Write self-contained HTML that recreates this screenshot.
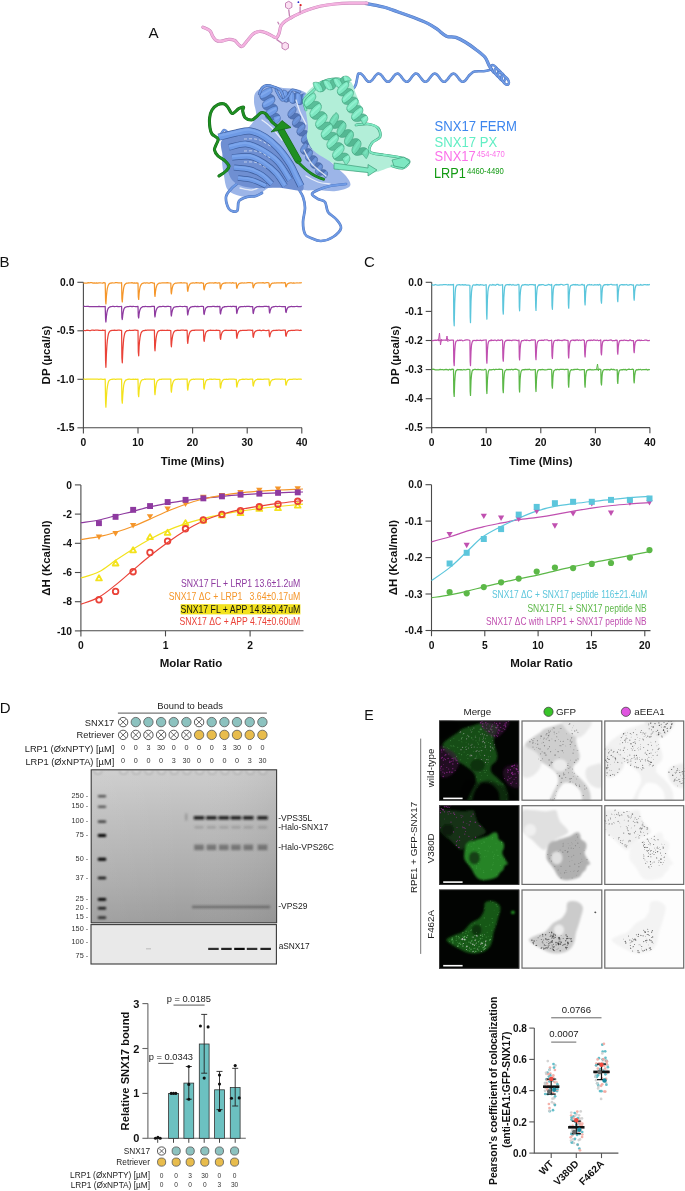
<!DOCTYPE html>
<html><head><meta charset="utf-8"><style>
html,body{margin:0;padding:0;background:#fff;}
body{width:685px;height:1191px;overflow:hidden;position:relative;}
svg{position:absolute;left:0;top:0;will-change:transform;}
text{font-family:"Liberation Sans", sans-serif;}
</style></head><body>
<svg width="685" height="1191" viewBox="0 0 685 1191">
<text x="148.4" y="38.4" font-size="15.2" fill="#111" font-weight="normal" text-anchor="start" >A</text>
<path d="M354,88C354.3,87.3 355.3,86.3 356,84C356.7,81.7 357.5,76.2 358,74.4C358.5,72.7 358.8,73.9 359.2,73.7C359.6,73.6 360,73.6 360.4,73.6C360.8,73.7 361.2,73.9 361.6,74.2C362,74.5 362.4,74.9 362.8,75.3C363.2,75.8 363.6,76.3 364,76.8C364.4,77.4 364.8,78 365.2,78.5C365.6,79 366,79.6 366.4,80C366.8,80.4 367.2,80.9 367.6,81.1C368,81.4 368.4,81.7 368.8,81.7C369.2,81.8 369.6,81.8 370,81.7C370.4,81.6 370.8,81.3 371.2,81C371.6,80.7 372,80.2 372.4,79.8C372.8,79.3 373.2,78.7 373.6,78.2C374,77.7 374.4,77.1 374.8,76.6C375.2,76.1 375.6,75.5 376,75.1C376.4,74.7 376.8,74.3 377.2,74.1C377.6,73.8 378,73.7 378.4,73.6C378.8,73.6 379.2,73.6 379.6,73.8C380,74 380.4,74.3 380.8,74.6C381.2,75 381.6,75.5 382,75.9C382.4,76.4 382.8,77 383.2,77.5C383.6,78.1 384,78.6 384.4,79.1C384.8,79.7 385.2,80.2 385.6,80.5C386,80.9 386.4,81.3 386.8,81.5C387.2,81.7 387.6,81.8 388,81.8C388.4,81.8 388.8,81.7 389.2,81.5C389.6,81.3 390,80.9 390.4,80.5C390.8,80.2 391.2,79.7 391.6,79.1C392,78.6 392.4,78.1 392.8,77.5C393.2,77 393.6,76.4 394,75.9C394.4,75.5 394.8,75 395.2,74.6C395.6,74.3 396,74 396.4,73.8C396.8,73.6 397.2,73.6 397.6,73.6C398,73.7 398.4,73.8 398.8,74.1C399.2,74.3 399.6,74.7 400,75.1C400.4,75.5 400.8,76.1 401.2,76.6C401.6,77.1 402,77.7 402.4,78.2C402.8,78.7 403.2,79.3 403.6,79.8C404,80.2 404.4,80.7 404.8,81C405.2,81.3 405.6,81.6 406,81.7C406.4,81.8 406.8,81.8 407.2,81.7C407.6,81.7 408,81.4 408.4,81.1C408.8,80.9 409.2,80.4 409.6,80C410,79.6 410.4,79 410.8,78.5C411.2,78 411.6,77.4 412,76.8C412.4,76.3 412.8,75.8 413.2,75.3C413.6,74.9 414,74.5 414.4,74.2C414.8,73.9 415.2,73.7 415.6,73.6C416,73.6 416.4,73.6 416.8,73.7C417.2,73.9 417.6,74.1 418,74.4C418.4,74.8 418.8,75.2 419.2,75.7C419.6,76.2 420,76.7 420.4,77.3C420.8,77.8 421.2,78.4 421.6,78.9C422,79.4 422.4,79.9 422.8,80.3C423.2,80.7 423.6,81.1 424,81.4C424.4,81.6 424.8,81.8 425.2,81.8C425.6,81.8 426,81.7 426.4,81.6C426.8,81.4 427.2,81.1 427.6,80.7C428,80.4 428.4,79.9 428.8,79.4C429.2,78.9 429.6,78.3 430,77.8C430.4,77.3 430.8,76.7 431.2,76.2C431.6,75.7 432,75.2 432.4,74.8C432.8,74.4 433.2,74.1 433.6,73.9C434,73.7 434.4,73.6 434.8,73.6C435.2,73.6 435.6,73.7 436,74C436.4,74.2 436.8,74.5 437.2,74.9C437.6,75.3 438,75.8 438.4,76.3C438.8,76.8 439.2,77.4 439.6,77.9C440,78.5 440.4,79 440.8,79.5C441.2,80 441.6,80.5 442,80.8C442.4,81.2 442.8,81.5 443.2,81.6C443.6,81.8 444,81.8 444.4,81.8C444.8,81.7 445.2,81.5 445.6,81.3C446,81 446.4,80.6 446.8,80.2C447.2,79.8 447.6,79.3 448,78.8C448.4,78.2 448.8,77.6 449.2,77.1C449.6,76.6 450,76 450.4,75.6C450.8,75.1 451.2,74.7 451.6,74.4C452,74.1 452.4,73.8 452.8,73.7C453.2,73.6 453.6,73.6 454,73.7C454.4,73.8 454.8,74 455.2,74.3C455.6,74.6 456,75 456.4,75.5C456.8,75.9 457.2,76.5 457.6,77C458,77.5 458.4,78.1 458.8,78.6C459.2,79.1 459.6,79.7 460,80.1C460.4,80.5 460.8,80.9 461.2,81.2C461.6,81.5 462,81.7 462.4,81.8C462.8,81.8 463.2,81.8 463.6,81.7C464,81.5 464.4,81.2 464.8,80.9C465.2,80.6 465.6,80.1 466,79.6C466.4,79.2 466.8,78.6 467.2,78.1C467.6,77.5 468,77 468.4,76.4C468.8,75.9 469.2,75.4 469.6,75C470,74.6 470,74.6 470.8,74C471.6,73.4 472.3,72 474.5,71.5C476.7,71 481.3,71.4 483.8,71.2C486.3,71 488.2,70.5 489.6,70.1C491,69.7 491.6,69.2 492,69" fill="none" stroke="#4f74bc" stroke-width="2.6" stroke-linecap="round" stroke-linejoin="round"/>
<path d="M354,88C354.3,87.3 355.3,86.3 356,84C356.7,81.7 357.5,76.2 358,74.4C358.5,72.7 358.8,73.9 359.2,73.7C359.6,73.6 360,73.6 360.4,73.6C360.8,73.7 361.2,73.9 361.6,74.2C362,74.5 362.4,74.9 362.8,75.3C363.2,75.8 363.6,76.3 364,76.8C364.4,77.4 364.8,78 365.2,78.5C365.6,79 366,79.6 366.4,80C366.8,80.4 367.2,80.9 367.6,81.1C368,81.4 368.4,81.7 368.8,81.7C369.2,81.8 369.6,81.8 370,81.7C370.4,81.6 370.8,81.3 371.2,81C371.6,80.7 372,80.2 372.4,79.8C372.8,79.3 373.2,78.7 373.6,78.2C374,77.7 374.4,77.1 374.8,76.6C375.2,76.1 375.6,75.5 376,75.1C376.4,74.7 376.8,74.3 377.2,74.1C377.6,73.8 378,73.7 378.4,73.6C378.8,73.6 379.2,73.6 379.6,73.8C380,74 380.4,74.3 380.8,74.6C381.2,75 381.6,75.5 382,75.9C382.4,76.4 382.8,77 383.2,77.5C383.6,78.1 384,78.6 384.4,79.1C384.8,79.7 385.2,80.2 385.6,80.5C386,80.9 386.4,81.3 386.8,81.5C387.2,81.7 387.6,81.8 388,81.8C388.4,81.8 388.8,81.7 389.2,81.5C389.6,81.3 390,80.9 390.4,80.5C390.8,80.2 391.2,79.7 391.6,79.1C392,78.6 392.4,78.1 392.8,77.5C393.2,77 393.6,76.4 394,75.9C394.4,75.5 394.8,75 395.2,74.6C395.6,74.3 396,74 396.4,73.8C396.8,73.6 397.2,73.6 397.6,73.6C398,73.7 398.4,73.8 398.8,74.1C399.2,74.3 399.6,74.7 400,75.1C400.4,75.5 400.8,76.1 401.2,76.6C401.6,77.1 402,77.7 402.4,78.2C402.8,78.7 403.2,79.3 403.6,79.8C404,80.2 404.4,80.7 404.8,81C405.2,81.3 405.6,81.6 406,81.7C406.4,81.8 406.8,81.8 407.2,81.7C407.6,81.7 408,81.4 408.4,81.1C408.8,80.9 409.2,80.4 409.6,80C410,79.6 410.4,79 410.8,78.5C411.2,78 411.6,77.4 412,76.8C412.4,76.3 412.8,75.8 413.2,75.3C413.6,74.9 414,74.5 414.4,74.2C414.8,73.9 415.2,73.7 415.6,73.6C416,73.6 416.4,73.6 416.8,73.7C417.2,73.9 417.6,74.1 418,74.4C418.4,74.8 418.8,75.2 419.2,75.7C419.6,76.2 420,76.7 420.4,77.3C420.8,77.8 421.2,78.4 421.6,78.9C422,79.4 422.4,79.9 422.8,80.3C423.2,80.7 423.6,81.1 424,81.4C424.4,81.6 424.8,81.8 425.2,81.8C425.6,81.8 426,81.7 426.4,81.6C426.8,81.4 427.2,81.1 427.6,80.7C428,80.4 428.4,79.9 428.8,79.4C429.2,78.9 429.6,78.3 430,77.8C430.4,77.3 430.8,76.7 431.2,76.2C431.6,75.7 432,75.2 432.4,74.8C432.8,74.4 433.2,74.1 433.6,73.9C434,73.7 434.4,73.6 434.8,73.6C435.2,73.6 435.6,73.7 436,74C436.4,74.2 436.8,74.5 437.2,74.9C437.6,75.3 438,75.8 438.4,76.3C438.8,76.8 439.2,77.4 439.6,77.9C440,78.5 440.4,79 440.8,79.5C441.2,80 441.6,80.5 442,80.8C442.4,81.2 442.8,81.5 443.2,81.6C443.6,81.8 444,81.8 444.4,81.8C444.8,81.7 445.2,81.5 445.6,81.3C446,81 446.4,80.6 446.8,80.2C447.2,79.8 447.6,79.3 448,78.8C448.4,78.2 448.8,77.6 449.2,77.1C449.6,76.6 450,76 450.4,75.6C450.8,75.1 451.2,74.7 451.6,74.4C452,74.1 452.4,73.8 452.8,73.7C453.2,73.6 453.6,73.6 454,73.7C454.4,73.8 454.8,74 455.2,74.3C455.6,74.6 456,75 456.4,75.5C456.8,75.9 457.2,76.5 457.6,77C458,77.5 458.4,78.1 458.8,78.6C459.2,79.1 459.6,79.7 460,80.1C460.4,80.5 460.8,80.9 461.2,81.2C461.6,81.5 462,81.7 462.4,81.8C462.8,81.8 463.2,81.8 463.6,81.7C464,81.5 464.4,81.2 464.8,80.9C465.2,80.6 465.6,80.1 466,79.6C466.4,79.2 466.8,78.6 467.2,78.1C467.6,77.5 468,77 468.4,76.4C468.8,75.9 469.2,75.4 469.6,75C470,74.6 470,74.6 470.8,74C471.6,73.4 472.3,72 474.5,71.5C476.7,71 481.3,71.4 483.8,71.2C486.3,71 488.2,70.5 489.6,70.1C491,69.7 491.6,69.2 492,69" fill="none" stroke="#6f9be6" stroke-width="1.7" stroke-linecap="round" stroke-linejoin="round"/>
<ellipse cx="494.5" cy="69.5" rx="2.6" ry="5" transform="rotate(-35 494.5 69.5)" fill="none" stroke="#4f74bc" stroke-width="2.6"/>
<ellipse cx="494.5" cy="69.5" rx="2.6" ry="5" transform="rotate(-35 494.5 69.5)" fill="none" stroke="#6f9be6" stroke-width="1.7"/>
<ellipse cx="498.1" cy="73.1" rx="2.6" ry="5" transform="rotate(-35 498.1 73.1)" fill="none" stroke="#4f74bc" stroke-width="2.6"/>
<ellipse cx="498.1" cy="73.1" rx="2.6" ry="5" transform="rotate(-35 498.1 73.1)" fill="none" stroke="#6f9be6" stroke-width="1.7"/>
<ellipse cx="501.7" cy="76.7" rx="2.6" ry="5" transform="rotate(-35 501.7 76.7)" fill="none" stroke="#4f74bc" stroke-width="2.6"/>
<ellipse cx="501.7" cy="76.7" rx="2.6" ry="5" transform="rotate(-35 501.7 76.7)" fill="none" stroke="#6f9be6" stroke-width="1.7"/>
<ellipse cx="505.3" cy="80.3" rx="2.6" ry="5" transform="rotate(-35 505.3 80.3)" fill="none" stroke="#4f74bc" stroke-width="2.6"/>
<ellipse cx="505.3" cy="80.3" rx="2.6" ry="5" transform="rotate(-35 505.3 80.3)" fill="none" stroke="#6f9be6" stroke-width="1.7"/>
<path d="M366,3.5C366.6,3.6 366.4,3.6 369.3,4.2C372.2,4.8 378.7,5.8 383.4,7C388.1,8.2 392.3,9.9 397.4,11.7C402.4,13.4 408.6,15.6 413.7,17.5C418.8,19.4 423.8,21.4 427.7,23.4C431.6,25.3 434,27.1 437.1,29.2C440.2,31.3 443.3,34.8 446.4,36.2C449.5,37.6 452.7,36.4 455.8,37.4C458.9,38.4 461.6,39.9 465.1,42C468.6,44.1 473.5,47.7 476.8,50.2C480.1,52.7 483.1,54.9 485,57.2C486.9,59.5 487.5,62.2 488.5,64.2C489.5,66.2 490.6,68.1 491,68.9" fill="none" stroke="#4f74bc" stroke-width="3.3" stroke-linecap="round" stroke-linejoin="round"/>
<path d="M366,3.5C366.6,3.6 366.4,3.6 369.3,4.2C372.2,4.8 378.7,5.8 383.4,7C388.1,8.2 392.3,9.9 397.4,11.7C402.4,13.4 408.6,15.6 413.7,17.5C418.8,19.4 423.8,21.4 427.7,23.4C431.6,25.3 434,27.1 437.1,29.2C440.2,31.3 443.3,34.8 446.4,36.2C449.5,37.6 452.7,36.4 455.8,37.4C458.9,38.4 461.6,39.9 465.1,42C468.6,44.1 473.5,47.7 476.8,50.2C480.1,52.7 483.1,54.9 485,57.2C486.9,59.5 487.5,62.2 488.5,64.2C489.5,66.2 490.6,68.1 491,68.9" fill="none" stroke="#6f9be6" stroke-width="2.4" stroke-linecap="round" stroke-linejoin="round"/>
<path d="M202.9,27.2C204.1,27.8 208.3,29.2 209.9,30.7C211.5,32.1 211.5,34.3 212.5,35.9C213.5,37.5 214.5,39.4 216,40.3C217.5,41.2 219.2,41.4 221.3,41.2C223.4,41.1 226.1,39.5 228.3,39.4C230.5,39.2 232.7,39.4 234.4,40.3C236.2,41.2 237.5,43.7 238.8,44.7C240.1,45.7 240.8,47.1 242.3,46.4C243.8,45.7 245.8,42.3 247.6,40.3C249.3,38.3 250.9,35.7 252.8,34.2C254.7,32.7 256.9,31.8 259,31.5C261.1,31.2 262.9,31.7 265.1,32.4C267.3,33.1 270.2,35 272.1,35.9C274,36.8 275.3,38.1 276.5,37.7C277.7,37.3 278.4,35.2 279.1,33.3C279.8,31.4 279.9,28.2 280.8,26.3C281.7,24.4 282.5,23.4 284.3,21.9C286.1,20.4 288.8,19 291.4,17.5C294,16 297.2,14.4 300.1,13.1C303,11.8 305.6,10.8 308.9,9.6C312.2,8.4 315.6,7.1 320,6.2C324.4,5.3 330,4.5 335,4C340,3.5 344.7,3.3 350,3.2C355.3,3.1 364.2,3.2 367,3.2" fill="none" stroke="#c583b5" stroke-width="3.2" stroke-linecap="round" stroke-linejoin="round"/>
<path d="M202.9,27.2C204.1,27.8 208.3,29.2 209.9,30.7C211.5,32.1 211.5,34.3 212.5,35.9C213.5,37.5 214.5,39.4 216,40.3C217.5,41.2 219.2,41.4 221.3,41.2C223.4,41.1 226.1,39.5 228.3,39.4C230.5,39.2 232.7,39.4 234.4,40.3C236.2,41.2 237.5,43.7 238.8,44.7C240.1,45.7 240.8,47.1 242.3,46.4C243.8,45.7 245.8,42.3 247.6,40.3C249.3,38.3 250.9,35.7 252.8,34.2C254.7,32.7 256.9,31.8 259,31.5C261.1,31.2 262.9,31.7 265.1,32.4C267.3,33.1 270.2,35 272.1,35.9C274,36.8 275.3,38.1 276.5,37.7C277.7,37.3 278.4,35.2 279.1,33.3C279.8,31.4 279.9,28.2 280.8,26.3C281.7,24.4 282.5,23.4 284.3,21.9C286.1,20.4 288.8,19 291.4,17.5C294,16 297.2,14.4 300.1,13.1C303,11.8 305.6,10.8 308.9,9.6C312.2,8.4 315.6,7.1 320,6.2C324.4,5.3 330,4.5 335,4C340,3.5 344.7,3.3 350,3.2C355.3,3.1 364.2,3.2 367,3.2" fill="none" stroke="#f4b2e0" stroke-width="2.3" stroke-linecap="round" stroke-linejoin="round"/>
<path d="M276.5,39.4 L282.6,43.8 M289.6,16.6 L288.7,9.6 M300.1,13.1 L300.1,6.5 M279.1,24.5 L277.6,21.8" stroke="#c583b5" stroke-width="1.3"/>
<polygon points="282,44 285.2,42.2 288.4,44 288.4,48.2 285.2,50 282,48.2" fill="#fbe0f2" stroke="#c583b5" stroke-width="1"/>
<polygon points="285.5,3.1 288.7,1.3 291.9,3.1 291.9,7.3 288.7,9.1 285.5,7.3" fill="#fbe0f2" stroke="#c583b5" stroke-width="1"/>
<circle cx="300.6" cy="5.2" r="1.1" fill="#d22"/><circle cx="298.4" cy="2.2" r="0.9" fill="#22c"/>
<path d="M256,92C258.3,89.3 263.5,86.7 268,86C272.5,85.3 277.7,87.3 283,88C288.3,88.7 295.2,88.3 300,90C304.8,91.7 309.3,94.3 312,98C314.7,101.7 315,106.7 316,112C317,117.3 317,123.7 318,130C319,136.3 319.3,144.2 322,150C324.7,155.8 330,160.7 334,165C338,169.3 343.3,172.5 346,176C348.7,179.5 351.7,183.5 350,186C348.3,188.5 341.3,190.3 336,191C330.7,191.7 323.3,190.2 318,190C312.7,189.8 308.7,191 304,190C299.3,189 295.3,184.7 290,184C284.7,183.3 277.7,184 272,186C266.3,188 261.3,194.3 256,196C250.7,197.7 244.7,197 240,196C235.3,195 230.7,193.3 228,190C225.3,186.7 225,181.3 224,176C223,170.7 221.7,163 222,158C222.3,153 223.7,149.7 226,146C228.3,142.3 232.3,139 236,136C239.7,133 244.7,131.3 248,128C251.3,124.7 255,120.3 256,116C257,111.7 254,106 254,102C254,98 253.7,94.7 256,92Z" fill="#9cb5e8"  opacity="1"/>
<path d="M259.8,95.9 L260.2,95.5 L261.5,94.9 L263.7,94.4 L266.3,94.1 L269,94.1 L271.5,94.6 L273.3,95.5 L274.2,96.9 L274.9,99.4 L274.5,99.8 L273.1,100.4 L271,101 L268.4,101.3 L265.6,101.2 L263.2,100.7 L261.4,99.8 L260.5,98.5Z" fill="#557abe" stroke="#3f5f9e" stroke-width="0.5"/>
<path d="M262.4,105.3 L262.8,104.8 L264.2,104.2 L266.4,103.7 L269,103.4 L271.7,103.4 L274.1,103.9 L275.9,104.9 L276.8,106.2 L277.6,108.7 L277.2,109.2 L275.8,109.8 L273.6,110.3 L271,110.6 L268.3,110.6 L265.9,110.1 L264.1,109.1 L263.2,107.8Z" fill="#557abe" stroke="#3f5f9e" stroke-width="0.5"/>
<path d="M265.1,114.6 L265.5,114.2 L266.9,113.6 L269,113 L271.6,112.7 L274.4,112.8 L276.8,113.3 L278.6,114.2 L279.5,115.5 L280.2,118.1 L279.8,118.5 L278.5,119.1 L276.3,119.6 L273.7,119.9 L271,119.9 L268.5,119.4 L266.7,118.5 L265.8,117.1Z" fill="#557abe" stroke="#3f5f9e" stroke-width="0.5"/>
<path d="M271.5,87.5 L270.9,87.4 L269.5,87.6 L267.4,88.3 L265,89.4 L262.7,90.9 L260.9,92.6 L259.8,94.3 L259.8,95.9 L260.5,98.5 L261.1,98.6 L262.5,98.4 L264.6,97.7 L267,96.6 L269.3,95.1 L271.1,93.4 L272.2,91.7 L272.2,90.1Z" fill="#6f9be6" stroke="#3f5f9e" stroke-width="0.55"/>
<path d="M270.1,89.9 L268.1,91 L265.8,92.3 L263.5,93.6 L261.5,94.9" fill="none" stroke="#86aef0" stroke-width="1.9" stroke-linecap="round" opacity="0.7"/>
<path d="M274.2,96.9 L273.6,96.7 L272.1,96.9 L270,97.6 L267.6,98.7 L265.4,100.2 L263.5,101.9 L262.5,103.7 L262.4,105.3 L263.2,107.8 L263.7,108 L265.2,107.7 L267.3,107.1 L269.7,105.9 L272,104.5 L273.8,102.8 L274.8,101 L274.9,99.4Z" fill="#6f9be6" stroke="#3f5f9e" stroke-width="0.55"/>
<path d="M272.8,99.3 L270.8,100.3 L268.5,101.6 L266.1,102.9 L264.2,104.2" fill="none" stroke="#86aef0" stroke-width="1.9" stroke-linecap="round" opacity="0.7"/>
<path d="M276.8,106.2 L276.3,106 L274.8,106.3 L272.7,106.9 L270.3,108.1 L268,109.5 L266.2,111.2 L265.2,113 L265.1,114.6 L265.8,117.1 L266.4,117.3 L267.9,117.1 L270,116.4 L272.4,115.3 L274.6,113.8 L276.5,112.1 L277.5,110.3 L277.6,108.7Z" fill="#6f9be6" stroke="#3f5f9e" stroke-width="0.55"/>
<path d="M275.5,108.6 L273.5,109.7 L271.1,110.9 L268.8,112.3 L266.9,113.6" fill="none" stroke="#86aef0" stroke-width="1.9" stroke-linecap="round" opacity="0.7"/>
<path d="M279.5,115.5 L279.3,115.4 L278.9,115.4 L278.3,115.4 L277.5,115.6 L276.5,115.9 L275.4,116.3 L274.2,116.8 L273,117.4 L275,124.6 L276.2,123.9 L277.3,123.1 L278.3,122.3 L279.1,121.4 L279.8,120.6 L280.2,119.7 L280.3,118.8 L280.2,118.1Z" fill="#6f9be6" stroke="#3f5f9e" stroke-width="0.55"/>
<path d="M279.4,117.1 L278.9,117.5 L278.1,117.9 L277.2,118.4 L276.1,119" fill="none" stroke="#86aef0" stroke-width="1.9" stroke-linecap="round" opacity="0.7"/>
<path d="M284.5,101.6 L284.2,101.1 L284.3,99.9 L284.6,98.1 L285.3,96.1 L286.3,94.1 L287.5,92.5 L288.8,91.5 L290,91.3 L292.2,91.7 L292.4,92.2 L292.4,93.4 L292.1,95.2 L291.4,97.3 L290.4,99.3 L289.2,100.9 L287.9,101.9 L286.6,102Z" fill="#557abe" stroke="#3f5f9e" stroke-width="0.5"/>
<path d="M291.2,102.9 L290.9,102.5 L290.9,101.2 L291.3,99.4 L292,97.4 L292.9,95.4 L294.1,93.8 L295.4,92.8 L296.7,92.6 L298.8,93.1 L299.1,93.5 L299.1,94.8 L298.7,96.6 L298,98.6 L297.1,100.6 L295.9,102.2 L294.6,103.2 L293.3,103.4Z" fill="#557abe" stroke="#3f5f9e" stroke-width="0.5"/>
<path d="M297.8,104.3 L297.6,103.8 L297.6,102.6 L297.9,100.8 L298.6,98.7 L299.6,96.7 L300.8,95.1 L302.1,94.1 L303.4,94 L305.5,94.4 L305.8,94.9 L305.7,96.1 L305.4,97.9 L304.7,99.9 L303.7,101.9 L302.5,103.5 L301.2,104.5 L300,104.7Z" fill="#557abe" stroke="#3f5f9e" stroke-width="0.5"/>
<path d="M283.4,90 L282.9,90.3 L282.5,91.5 L282.1,93.2 L282,95.4 L282.1,97.6 L282.6,99.6 L283.4,101 L284.5,101.6 L286.6,102 L287.1,101.7 L287.5,100.5 L287.9,98.8 L288,96.6 L287.9,94.4 L287.4,92.4 L286.6,91 L285.5,90.4Z" fill="#6f9be6" stroke="#3f5f9e" stroke-width="0.55"/>
<path d="M284.5,91.9 L284.4,93.7 L284.4,95.9 L284.4,98.1 L284.6,100" fill="none" stroke="#86aef0" stroke-width="1.6" stroke-linecap="round" opacity="0.7"/>
<path d="M290,91.3 L289.6,91.6 L289.1,92.8 L288.8,94.6 L288.6,96.7 L288.8,98.9 L289.3,100.9 L290.1,102.3 L291.2,102.9 L293.3,103.4 L293.7,103 L294.2,101.9 L294.6,100.1 L294.7,97.9 L294.6,95.7 L294.1,93.8 L293.3,92.4 L292.2,91.7Z" fill="#6f9be6" stroke="#3f5f9e" stroke-width="0.55"/>
<path d="M291.1,93.2 L291.1,95 L291.1,97.2 L291.1,99.4 L291.2,101.3" fill="none" stroke="#86aef0" stroke-width="1.6" stroke-linecap="round" opacity="0.7"/>
<path d="M296.7,92.6 L296.3,93 L295.8,94.1 L295.4,95.9 L295.3,98.1 L295.4,100.3 L295.9,102.2 L296.7,103.6 L297.8,104.3 L300,104.7 L300.4,104.4 L300.9,103.2 L301.2,101.4 L301.4,99.3 L301.2,97.1 L300.7,95.1 L299.9,93.7 L298.8,93.1Z" fill="#6f9be6" stroke="#3f5f9e" stroke-width="0.55"/>
<path d="M297.8,94.5 L297.8,96.4 L297.7,98.5 L297.8,100.7 L297.9,102.6" fill="none" stroke="#86aef0" stroke-width="1.6" stroke-linecap="round" opacity="0.7"/>
<path d="M303.4,94 L303.2,94 L302.9,94.3 L302.7,94.8 L302.5,95.5 L302.3,96.3 L302.1,97.2 L302,98.3 L302,99.4 L308,100.6 L308,99.5 L307.9,98.4 L307.7,97.4 L307.4,96.4 L307,95.7 L306.6,95 L306.1,94.6 L305.5,94.4Z" fill="#6f9be6" stroke="#3f5f9e" stroke-width="0.55"/>
<path d="M304.4,94.6 L304.4,95.1 L304.5,95.9 L304.4,96.7 L304.4,97.7" fill="none" stroke="#86aef0" stroke-width="1.6" stroke-linecap="round" opacity="0.7"/>
<path d="M288,115.6 L288.3,115.3 L289.3,114.8 L290.9,114.1 L292.8,113.6 L295,113.3 L296.9,113.4 L298.5,114 L299.5,115 L300.5,116.9 L300.2,117.2 L299.2,117.7 L297.6,118.4 L295.7,118.9 L293.5,119.2 L291.6,119.1 L290,118.5 L289,117.5Z" fill="#5274b5" stroke="#3f5f9e" stroke-width="0.5"/>
<path d="M292.5,124.1 L292.8,123.8 L293.8,123.3 L295.4,122.6 L297.3,122.1 L299.5,121.8 L301.4,121.9 L303,122.5 L304,123.5 L305,125.4 L304.7,125.7 L303.7,126.2 L302.1,126.9 L300.2,127.4 L298,127.7 L296.1,127.6 L294.5,127 L293.5,126Z" fill="#5274b5" stroke="#3f5f9e" stroke-width="0.5"/>
<path d="M297,132.6 L297.3,132.3 L298.3,131.8 L299.9,131.1 L301.8,130.6 L304,130.3 L305.9,130.4 L307.5,131 L308.5,132 L309.5,133.9 L309.2,134.2 L308.2,134.7 L306.6,135.4 L304.7,135.9 L302.5,136.2 L300.6,136.1 L299,135.5 L298,134.5Z" fill="#5274b5" stroke="#3f5f9e" stroke-width="0.5"/>
<path d="M301.5,141.1 L301.8,140.8 L302.8,140.3 L304.4,139.6 L306.3,139.1 L308.5,138.8 L310.4,138.9 L312,139.5 L313,140.5 L314,142.4 L313.7,142.7 L312.7,143.2 L311.1,143.9 L309.2,144.4 L307,144.7 L305.1,144.6 L303.5,144 L302.5,143Z" fill="#5274b5" stroke="#3f5f9e" stroke-width="0.5"/>
<path d="M295,106.5 L294.6,106.6 L293.6,107.1 L292.1,108 L290.6,109.3 L289.2,110.9 L288.2,112.6 L287.8,114.3 L288,115.6 L289,117.5 L289.4,117.4 L290.4,116.9 L291.9,116 L293.4,114.7 L294.8,113.1 L295.8,111.4 L296.2,109.7 L296,108.4Z" fill="#6a8ed2" stroke="#3f5f9e" stroke-width="0.55"/>
<path d="M294.5,108.8 L293.2,110 L291.7,111.5 L290.3,113 L289.1,114.4" fill="none" stroke="#6f9be6" stroke-width="1.5" stroke-linecap="round" opacity="0.7"/>
<path d="M299.5,115 L299.1,115.1 L298.1,115.6 L296.6,116.5 L295.1,117.8 L293.7,119.4 L292.7,121.1 L292.3,122.8 L292.5,124.1 L293.5,126 L293.9,125.9 L294.9,125.4 L296.4,124.5 L297.9,123.2 L299.3,121.6 L300.3,119.9 L300.7,118.2 L300.5,116.9Z" fill="#6a8ed2" stroke="#3f5f9e" stroke-width="0.55"/>
<path d="M299,117.3 L297.7,118.5 L296.2,120 L294.8,121.5 L293.6,122.9" fill="none" stroke="#6f9be6" stroke-width="1.5" stroke-linecap="round" opacity="0.7"/>
<path d="M304,123.5 L303.6,123.6 L302.6,124.1 L301.1,125 L299.6,126.3 L298.2,127.9 L297.2,129.6 L296.8,131.3 L297,132.6 L298,134.5 L298.4,134.4 L299.4,133.9 L300.9,133 L302.4,131.7 L303.8,130.1 L304.8,128.4 L305.2,126.7 L305,125.4Z" fill="#6a8ed2" stroke="#3f5f9e" stroke-width="0.55"/>
<path d="M303.5,125.8 L302.2,127 L300.7,128.5 L299.3,130 L298.1,131.4" fill="none" stroke="#6f9be6" stroke-width="1.5" stroke-linecap="round" opacity="0.7"/>
<path d="M308.5,132 L308.1,132.1 L307.1,132.6 L305.6,133.5 L304.1,134.8 L302.7,136.4 L301.7,138.1 L301.3,139.8 L301.5,141.1 L302.5,143 L302.9,142.9 L303.9,142.4 L305.4,141.5 L306.9,140.2 L308.3,138.6 L309.3,136.9 L309.7,135.2 L309.5,133.9Z" fill="#6a8ed2" stroke="#3f5f9e" stroke-width="0.55"/>
<path d="M308,134.3 L306.7,135.5 L305.2,137 L303.8,138.5 L302.6,139.9" fill="none" stroke="#6f9be6" stroke-width="1.5" stroke-linecap="round" opacity="0.7"/>
<path d="M313,140.5 L312.9,140.5 L312.6,140.6 L312.1,140.8 L311.6,141.1 L310.9,141.5 L310.1,142 L309.4,142.6 L308.6,143.3 L311.4,148.7 L312.1,147.9 L312.8,147.1 L313.4,146.2 L313.8,145.4 L314.1,144.5 L314.2,143.7 L314.2,143 L314,142.4Z" fill="#6a8ed2" stroke="#3f5f9e" stroke-width="0.55"/>
<path d="M313.2,141.8 L312.9,142.3 L312.5,142.8 L311.9,143.4 L311.2,144" fill="none" stroke="#6f9be6" stroke-width="1.5" stroke-linecap="round" opacity="0.7"/>
<path d="M300.8,151.8 L301,151.4 L301.8,150.8 L303.2,150 L304.9,149.3 L306.8,148.7 L308.6,148.6 L310.1,148.9 L311.1,149.7 L312.2,151.2 L312,151.6 L311.2,152.2 L309.8,153 L308.1,153.7 L306.2,154.3 L304.4,154.4 L302.9,154.1 L301.9,153.3Z" fill="#5274b5" stroke="#3f5f9e" stroke-width="0.5"/>
<path d="M305.8,158.8 L306,158.4 L306.8,157.8 L308.2,157 L309.9,156.3 L311.8,155.7 L313.6,155.6 L315.1,155.9 L316.1,156.7 L317.2,158.2 L317,158.6 L316.2,159.2 L314.8,160 L313.1,160.7 L311.2,161.3 L309.4,161.4 L307.9,161.1 L306.9,160.3Z" fill="#5274b5" stroke="#3f5f9e" stroke-width="0.5"/>
<path d="M310.8,165.8 L311,165.4 L311.8,164.8 L313.2,164 L314.9,163.3 L316.8,162.7 L318.6,162.6 L320.1,162.9 L321.1,163.7 L322.2,165.2 L322,165.6 L321.2,166.2 L319.8,167 L318.1,167.7 L316.2,168.3 L314.4,168.4 L312.9,168.1 L311.9,167.3Z" fill="#5274b5" stroke="#3f5f9e" stroke-width="0.5"/>
<path d="M315.8,172.8 L316,172.4 L316.8,171.8 L318.2,171 L319.9,170.3 L321.8,169.7 L323.6,169.6 L325.1,169.9 L326.1,170.7 L327.2,172.2 L327,172.6 L326.2,173.2 L324.8,174 L323.1,174.7 L321.2,175.3 L319.4,175.4 L317.9,175.1 L316.9,174.3Z" fill="#5274b5" stroke="#3f5f9e" stroke-width="0.5"/>
<path d="M306.1,142.7 L305.7,142.8 L304.8,143.3 L303.7,144.4 L302.4,145.8 L301.3,147.4 L300.6,149 L300.4,150.6 L300.8,151.8 L301.9,153.3 L302.3,153.2 L303.2,152.7 L304.3,151.6 L305.6,150.2 L306.7,148.6 L307.4,147 L307.6,145.4 L307.2,144.2Z" fill="#6a8ed2" stroke="#3f5f9e" stroke-width="0.55"/>
<path d="M305.9,144.8 L304.9,146.1 L303.7,147.6 L302.5,149.1 L301.6,150.5" fill="none" stroke="#6f9be6" stroke-width="1.4" stroke-linecap="round" opacity="0.7"/>
<path d="M311.1,149.7 L310.7,149.8 L309.8,150.3 L308.7,151.4 L307.4,152.8 L306.3,154.4 L305.6,156 L305.4,157.6 L305.8,158.8 L306.9,160.3 L307.3,160.2 L308.2,159.7 L309.3,158.6 L310.6,157.2 L311.7,155.6 L312.4,154 L312.6,152.4 L312.2,151.2Z" fill="#6a8ed2" stroke="#3f5f9e" stroke-width="0.55"/>
<path d="M310.9,151.8 L309.9,153.1 L308.7,154.6 L307.5,156.1 L306.6,157.5" fill="none" stroke="#6f9be6" stroke-width="1.4" stroke-linecap="round" opacity="0.7"/>
<path d="M316.1,156.7 L315.7,156.8 L314.8,157.3 L313.7,158.4 L312.4,159.8 L311.3,161.4 L310.6,163 L310.4,164.6 L310.8,165.8 L311.9,167.3 L312.3,167.2 L313.2,166.7 L314.3,165.6 L315.6,164.2 L316.7,162.6 L317.4,161 L317.6,159.4 L317.2,158.2Z" fill="#6a8ed2" stroke="#3f5f9e" stroke-width="0.55"/>
<path d="M315.9,158.8 L314.9,160.1 L313.7,161.6 L312.5,163.1 L311.6,164.5" fill="none" stroke="#6f9be6" stroke-width="1.4" stroke-linecap="round" opacity="0.7"/>
<path d="M321.1,163.7 L320.7,163.8 L319.8,164.3 L318.7,165.4 L317.4,166.8 L316.3,168.4 L315.6,170 L315.4,171.6 L315.8,172.8 L316.9,174.3 L317.3,174.2 L318.2,173.7 L319.3,172.6 L320.6,171.2 L321.7,169.6 L322.4,168 L322.6,166.4 L322.2,165.2Z" fill="#6a8ed2" stroke="#3f5f9e" stroke-width="0.55"/>
<path d="M320.9,165.8 L319.9,167.1 L318.7,168.6 L317.5,170.1 L316.6,171.5" fill="none" stroke="#6f9be6" stroke-width="1.4" stroke-linecap="round" opacity="0.7"/>
<path d="M326.1,170.7 L326,170.7 L325.7,170.8 L325.3,171 L324.8,171.3 L324.3,171.8 L323.7,172.4 L323,173 L322.4,173.8 L325.6,178.2 L326.2,177.4 L326.7,176.6 L327.1,175.8 L327.4,175 L327.6,174.2 L327.6,173.4 L327.5,172.8 L327.2,172.2Z" fill="#6a8ed2" stroke="#3f5f9e" stroke-width="0.55"/>
<path d="M326.5,171.8 L326.2,172.3 L325.9,172.8 L325.4,173.4 L324.9,174.1" fill="none" stroke="#6f9be6" stroke-width="1.4" stroke-linecap="round" opacity="0.7"/>
<path d="M259.3,93.7C259.8,92.8 260.8,89.4 262,88C263.2,86.6 264.5,85.7 266.4,85.5C268.3,85.3 271.1,85.9 273.4,86.7C275.7,87.5 278.6,88.2 280.4,90.2C282.1,92.2 283.3,97 283.9,98.4" fill="none" stroke="#3f5f9e" stroke-width="2.8" stroke-linecap="round" stroke-linejoin="round"/>
<path d="M259.3,93.7C259.8,92.8 260.8,89.4 262,88C263.2,86.6 264.5,85.7 266.4,85.5C268.3,85.3 271.1,85.9 273.4,86.7C275.7,87.5 278.6,88.2 280.4,90.2C282.1,92.2 283.3,97 283.9,98.4" fill="none" stroke="#6f9be6" stroke-width="1.9" stroke-linecap="round" stroke-linejoin="round"/>
<path d="M276,90C277,91.7 280,99 282,100C284,101 286.3,97.7 288,96C289.7,94.3 290,90.7 292,90C294,89.3 298.7,91.7 300,92" fill="none" stroke="#3f5f9e" stroke-width="2.7" stroke-linecap="round" stroke-linejoin="round"/>
<path d="M276,90C277,91.7 280,99 282,100C284,101 286.3,97.7 288,96C289.7,94.3 290,90.7 292,90C294,89.3 298.7,91.7 300,92" fill="none" stroke="#6f9be6" stroke-width="1.8" stroke-linecap="round" stroke-linejoin="round"/>
<path d="M262,120C263.7,121.3 268.7,124.7 272,128C275.3,131.3 280.3,138 282,140" fill="none" stroke="#fff" stroke-width="1.3" stroke-linecap="round" opacity="0.75"/>
<path d="M296,100C296.7,102 298.3,108 300,112C301.7,116 305,122 306,124" fill="none" stroke="#fff" stroke-width="1.3" stroke-linecap="round" opacity="0.75"/>
<path d="M304,150C305.3,152.3 308.3,159.7 312,164C315.7,168.3 323.7,174 326,176" fill="none" stroke="#fff" stroke-width="1.3" stroke-linecap="round" opacity="0.75"/>
<path d="M240,188C242,188.3 248.3,190.3 252,190C255.7,189.7 260.3,186.7 262,186" fill="none" stroke="#fff" stroke-width="1.3" stroke-linecap="round" opacity="0.75"/>
<path d="M306,176C308,177 314,180.7 318,182C322,183.3 328,183.7 330,184" fill="none" stroke="#fff" stroke-width="1.3" stroke-linecap="round" opacity="0.75"/>
<path d="M242,180C240.3,181.3 234.7,185.2 232,188C229.3,190.8 226.5,193.5 226,197C225.5,200.5 227.2,206.7 229,209C230.8,211.3 235.3,212.3 237,211C238.7,209.7 237.3,203.3 239,201C240.7,198.7 244.2,197.8 247,197C249.8,196.2 253.5,196.7 256,196C258.5,195.3 261,193.5 262,193" fill="none" stroke="#4f74bc" stroke-width="2.7" stroke-linecap="round" stroke-linejoin="round"/>
<path d="M242,180C240.3,181.3 234.7,185.2 232,188C229.3,190.8 226.5,193.5 226,197C225.5,200.5 227.2,206.7 229,209C230.8,211.3 235.3,212.3 237,211C238.7,209.7 237.3,203.3 239,201C240.7,198.7 244.2,197.8 247,197C249.8,196.2 253.5,196.7 256,196C258.5,195.3 261,193.5 262,193" fill="none" stroke="#6f9be6" stroke-width="1.8" stroke-linecap="round" stroke-linejoin="round"/>
<path d="M298,188C298.8,189.5 301.8,193.7 303,197C304.2,200.3 305,203.8 305,208C305,212.2 303,217.7 303,222C303,226.3 303.7,231.3 305,234C306.3,236.7 308.3,236.8 311,238C313.7,239.2 317.3,241.2 321,241C324.7,240.8 329.7,239.2 333,237C336.3,234.8 340.5,231 341,228C341.5,225 338.2,221.7 336,219C333.8,216.3 329.8,214.8 328,212C326.2,209.2 326.7,204.2 325,202C323.3,199.8 320.2,200.3 318,199C315.8,197.7 312,195.5 312,194C312,192.5 315,191.3 318,190C321,188.7 325.3,187 330,186C334.7,185 343.3,184.3 346,184" fill="none" stroke="#4f74bc" stroke-width="2.7" stroke-linecap="round" stroke-linejoin="round"/>
<path d="M298,188C298.8,189.5 301.8,193.7 303,197C304.2,200.3 305,203.8 305,208C305,212.2 303,217.7 303,222C303,226.3 303.7,231.3 305,234C306.3,236.7 308.3,236.8 311,238C313.7,239.2 317.3,241.2 321,241C324.7,240.8 329.7,239.2 333,237C336.3,234.8 340.5,231 341,228C341.5,225 338.2,221.7 336,219C333.8,216.3 329.8,214.8 328,212C326.2,209.2 326.7,204.2 325,202C323.3,199.8 320.2,200.3 318,199C315.8,197.7 312,195.5 312,194C312,192.5 315,191.3 318,190C321,188.7 325.3,187 330,186C334.7,185 343.3,184.3 346,184" fill="none" stroke="#6f9be6" stroke-width="1.8" stroke-linecap="round" stroke-linejoin="round"/>
<path d="M221,134C221.5,133.3 222.8,130.2 224,130C225.2,129.8 227,131.5 228,133C229,134.5 229.7,138 230,139" fill="none" stroke="#4f74bc" stroke-width="2.4" stroke-linecap="round" stroke-linejoin="round"/>
<path d="M221,134C221.5,133.3 222.8,130.2 224,130C225.2,129.8 227,131.5 228,133C229,134.5 229.7,138 230,139" fill="none" stroke="#6f9be6" stroke-width="1.5" stroke-linecap="round" stroke-linejoin="round"/>
<path d="M222,140C224.3,136.8 231,134.5 236,133C241,131.5 246.7,130.2 252,131C257.3,131.8 263,134.8 268,138C273,141.2 277.7,145.3 282,150C286.3,154.7 290.7,161 294,166C297.3,171 300.5,176 302,180C303.5,184 304.3,188.3 303,190C301.7,191.7 297.5,190.3 294,190C290.5,189.7 286.3,188.3 282,188C277.7,187.7 272.7,188 268,188C263.3,188 258.3,188.3 254,188C249.7,187.7 245.7,187.3 242,186C238.3,184.7 234.5,183 232,180C229.5,177 228.7,172.7 227,168C225.3,163.3 222.8,156.7 222,152C221.2,147.3 219.7,143.2 222,140Z" fill="#6f8fd2"  opacity="1"/>
<path d="M238,178C240.3,178.3 247.3,178.7 252,180C256.7,181.3 263.7,185 266,186" fill="none" stroke="#3f5f9e" stroke-width="5.4" stroke-linecap="butt"/>
<path d="M238,178C240.3,178.3 247.3,178.7 252,180C256.7,181.3 263.7,185 266,186" fill="none" stroke="#6f9be6" stroke-width="4" stroke-linecap="butt"/>
<path d="M238,177.2C240.3,177.5 247.3,177.9 252,179.2C256.7,180.5 263.7,184.2 266,185.2" fill="none" stroke="#86aef0" stroke-width="1.6" stroke-linecap="butt" opacity="0.55"/>
<path d="M234,167.5C236.7,167.8 245.3,168.2 250,169.5C254.7,170.8 258.3,172.6 262,175C265.7,177.4 270.3,182.5 272,184" fill="none" stroke="#3f5f9e" stroke-width="6" stroke-linecap="butt"/>
<path d="M234,167.5C236.7,167.8 245.3,168.2 250,169.5C254.7,170.8 258.3,172.6 262,175C265.7,177.4 270.3,182.5 272,184" fill="none" stroke="#6f9be6" stroke-width="4.6" stroke-linecap="butt"/>
<path d="M234,166.6C236.7,166.9 245.3,167.3 250,168.6C254.7,169.8 258.3,171.7 262,174.1C265.7,176.5 270.3,181.6 272,183.1" fill="none" stroke="#86aef0" stroke-width="1.8" stroke-linecap="butt" opacity="0.55"/>
<path d="M232,157.4C235,157.2 244.7,155.6 250,156.5C255.3,157.4 259.7,160.2 264,163C268.3,165.8 272.5,169.2 276,173C279.5,176.8 283.5,183.8 285,186" fill="none" stroke="#3f5f9e" stroke-width="6.4" stroke-linecap="butt"/>
<path d="M232,157.4C235,157.2 244.7,155.6 250,156.5C255.3,157.4 259.7,160.2 264,163C268.3,165.8 272.5,169.2 276,173C279.5,176.8 283.5,183.8 285,186" fill="none" stroke="#6f9be6" stroke-width="5" stroke-linecap="butt"/>
<path d="M232,156.4C235,156.2 244.7,154.6 250,155.5C255.3,156.4 259.7,159.2 264,162C268.3,164.8 272.5,168.2 276,172C279.5,175.8 283.5,182.8 285,185" fill="none" stroke="#86aef0" stroke-width="2" stroke-linecap="butt" opacity="0.55"/>
<path d="M229,147.3C231.8,146.8 240.5,143.6 246,144C251.5,144.4 256.7,147 262,150C267.3,153 273.3,157 278,162C282.7,167 288,177 290,180" fill="none" stroke="#3f5f9e" stroke-width="6.6" stroke-linecap="butt"/>
<path d="M229,147.3C231.8,146.8 240.5,143.6 246,144C251.5,144.4 256.7,147 262,150C267.3,153 273.3,157 278,162C282.7,167 288,177 290,180" fill="none" stroke="#6f9be6" stroke-width="5.2" stroke-linecap="butt"/>
<path d="M229,146.3C231.8,145.7 240.5,142.5 246,143C251.5,143.4 256.7,146 262,149C267.3,152 273.3,156 278,161C282.7,166 288,176 290,179" fill="none" stroke="#86aef0" stroke-width="2.1" stroke-linecap="butt" opacity="0.55"/>
<path d="M218.5,137.2C221.4,136.5 230.7,134 236,133C241.3,132 245.6,130.3 250.4,131C255.2,131.7 260.4,134.2 265,137C269.6,139.8 273.8,143.5 278,148C282.2,152.5 287,159.3 290,164C293,168.7 294.2,172.3 296,176C297.8,179.7 300.2,184.3 301,186" fill="none" stroke="#3f5f9e" stroke-width="7.2" stroke-linecap="butt"/>
<path d="M218.5,137.2C221.4,136.5 230.7,134 236,133C241.3,132 245.6,130.3 250.4,131C255.2,131.7 260.4,134.2 265,137C269.6,139.8 273.8,143.5 278,148C282.2,152.5 287,159.3 290,164C293,168.7 294.2,172.3 296,176C297.8,179.7 300.2,184.3 301,186" fill="none" stroke="#6f9be6" stroke-width="5.8" stroke-linecap="butt"/>
<path d="M218.5,136C221.4,135.3 230.7,132.9 236,131.8C241.3,130.8 245.6,129.2 250.4,129.8C255.2,130.5 260.4,133 265,135.8C269.6,138.7 273.8,142.3 278,146.8C282.2,151.3 287,158.2 290,162.8C293,167.5 294.2,171.2 296,174.8C297.8,178.5 300.2,183.2 301,184.8" fill="none" stroke="#86aef0" stroke-width="2.3" stroke-linecap="butt" opacity="0.55"/>
<path d="M244,139C246.3,139.1 253.3,138.2 258,139.5C262.7,140.8 269.7,145.8 272,147" fill="none" stroke="#dfe6f4" stroke-width="0.8" stroke-dasharray="3 2" opacity="0.9"/>
<path d="M244,151C246.3,151.1 253.7,150.3 258,151.5C262.3,152.7 268,156.9 270,158" fill="none" stroke="#dfe6f4" stroke-width="0.8" stroke-dasharray="3 2" opacity="0.9"/>
<path d="M244,162C246,162.1 252.3,161.5 256,162.5C259.7,163.5 264.3,167.1 266,168" fill="none" stroke="#dfe6f4" stroke-width="0.8" stroke-dasharray="3 2" opacity="0.9"/>
<path d="M304,97C306,92.2 312.8,86.1 318,83C323.2,79.9 329.7,78.8 335,78.5C340.3,78.2 346.5,78.4 350,81C353.5,83.6 353.8,88.8 356,94C358.2,99.2 361.3,107.2 363,112C364.7,116.8 363.3,120.5 366,123C368.7,125.5 376.5,124.5 379,127C381.5,129.5 382.2,135.5 381,138C379.8,140.5 373.5,139.5 372,142C370.5,144.5 368.7,150.8 372,153C375.3,155.2 385.8,153.7 392,155C398.2,156.3 407,158.7 409,161C411,163.3 406.8,168 404,169C401.2,170 397,166.4 392,167C387,167.6 380.5,171.8 374,172.5C367.5,173.2 359.2,172.2 353,171C346.8,169.8 341.5,167 337,165C332.5,163 330,161.5 326,159C322,156.5 316.2,153.5 313,150C309.8,146.5 307.8,141.8 307,138C306.2,134.2 308.2,131.3 308,127C307.8,122.7 306.7,117 306,112C305.3,107 302,101.8 304,97Z" fill="#b2eed8"  opacity="1"/>
<path d="M318,84C319.7,83.3 324.7,80.8 328,80C331.3,79.2 334.7,78.7 338,79C341.3,79.3 346.3,81.5 348,82" fill="none" stroke="#3d9c78" stroke-width="2.9" stroke-linecap="round" stroke-linejoin="round"/>
<path d="M318,84C319.7,83.3 324.7,80.8 328,80C331.3,79.2 334.7,78.7 338,79C341.3,79.3 346.3,81.5 348,82" fill="none" stroke="#7ee8c2" stroke-width="2" stroke-linecap="round" stroke-linejoin="round"/>
<path d="M306,110C305.7,108.3 303,103 304,100C305,97 309.7,94.3 312,92C314.3,89.7 317,87 318,86" fill="none" stroke="#3d9c78" stroke-width="2.7" stroke-linecap="round" stroke-linejoin="round"/>
<path d="M306,110C305.7,108.3 303,103 304,100C305,97 309.7,94.3 312,92C314.3,89.7 317,87 318,86" fill="none" stroke="#7ee8c2" stroke-width="1.8" stroke-linecap="round" stroke-linejoin="round"/>
<path d="M356,125C358,124.8 364.3,123.5 368,124C371.7,124.5 376,125.8 378,128C380,130.2 381,134.5 380,137C379,139.5 373.7,140.5 372,143C370.3,145.5 368,150 370,152C372,154 379.3,154.2 384,155C388.7,155.8 393.8,156 398,157C402.2,158 408.2,159.2 409,161C409.8,162.8 405.8,167.2 403,168C400.2,168.8 393.8,166.3 392,166" fill="none" stroke="#3d9c78" stroke-width="2.7" stroke-linecap="round" stroke-linejoin="round"/>
<path d="M356,125C358,124.8 364.3,123.5 368,124C371.7,124.5 376,125.8 378,128C380,130.2 381,134.5 380,137C379,139.5 373.7,140.5 372,143C370.3,145.5 368,150 370,152C372,154 379.3,154.2 384,155C388.7,155.8 393.8,156 398,157C402.2,158 408.2,159.2 409,161C409.8,162.8 405.8,167.2 403,168C400.2,168.8 393.8,166.3 392,166" fill="none" stroke="#7ee8c2" stroke-width="1.8" stroke-linecap="round" stroke-linejoin="round"/>
<path d="M320.3,91.8 L320,91.5 L319.7,90.4 L319.5,88.7 L319.6,86.7 L320,84.6 L320.8,82.7 L321.9,81.3 L323.3,80.6 L325.7,80.2 L326,80.5 L326.3,81.6 L326.5,83.3 L326.4,85.3 L326,87.4 L325.2,89.3 L324.1,90.7 L322.7,91.4Z" fill="#5abe99" stroke="#3d9c78" stroke-width="0.5"/>
<path d="M330.3,89.8 L330,89.5 L329.7,88.4 L329.5,86.7 L329.6,84.7 L330,82.6 L330.8,80.7 L331.9,79.3 L333.3,78.6 L335.7,78.2 L336,78.5 L336.3,79.6 L336.5,81.3 L336.4,83.3 L336,85.4 L335.2,87.3 L334.1,88.7 L332.7,89.4Z" fill="#5abe99" stroke="#3d9c78" stroke-width="0.5"/>
<path d="M340.3,87.8 L340,87.5 L339.7,86.4 L339.5,84.7 L339.6,82.7 L340,80.6 L340.8,78.7 L341.9,77.3 L343.3,76.6 L345.7,76.2 L346,76.5 L346.3,77.6 L346.5,79.3 L346.4,81.3 L346,83.4 L345.2,85.3 L344.1,86.7 L342.7,87.4Z" fill="#5abe99" stroke="#3d9c78" stroke-width="0.5"/>
<path d="M313.3,82.6 L313.1,83.1 L313.3,84.2 L313.7,85.8 L314.6,87.7 L315.8,89.5 L317.2,90.9 L318.8,91.7 L320.3,91.8 L322.7,91.4 L322.9,90.9 L322.7,89.8 L322.3,88.2 L321.4,86.3 L320.2,84.5 L318.8,83.1 L317.2,82.3 L315.7,82.2Z" fill="#7ee8c2" stroke="#3d9c78" stroke-width="0.55"/>
<path d="M315.5,83.8 L316.3,85.3 L317.3,87.1 L318.4,89 L319.4,90.5" fill="none" stroke="#9af5d6" stroke-width="1.8" stroke-linecap="round" opacity="0.7"/>
<path d="M323.3,80.6 L323.1,81.1 L323.3,82.2 L323.7,83.8 L324.6,85.7 L325.8,87.5 L327.2,88.9 L328.8,89.7 L330.3,89.8 L332.7,89.4 L332.9,88.9 L332.7,87.8 L332.3,86.2 L331.4,84.3 L330.2,82.5 L328.8,81.1 L327.2,80.3 L325.7,80.2Z" fill="#7ee8c2" stroke="#3d9c78" stroke-width="0.55"/>
<path d="M325.5,81.8 L326.3,83.3 L327.3,85.1 L328.4,87 L329.4,88.5" fill="none" stroke="#9af5d6" stroke-width="1.8" stroke-linecap="round" opacity="0.7"/>
<path d="M333.3,78.6 L333.1,79.1 L333.3,80.2 L333.7,81.8 L334.6,83.7 L335.8,85.5 L337.2,86.9 L338.8,87.7 L340.3,87.8 L342.7,87.4 L342.9,86.9 L342.7,85.8 L342.3,84.2 L341.4,82.3 L340.2,80.5 L338.8,79.1 L337.2,78.3 L335.7,78.2Z" fill="#7ee8c2" stroke="#3d9c78" stroke-width="0.55"/>
<path d="M335.5,79.8 L336.3,81.3 L337.3,83.1 L338.4,85 L339.4,86.5" fill="none" stroke="#9af5d6" stroke-width="1.8" stroke-linecap="round" opacity="0.7"/>
<path d="M343.3,76.6 L343.2,76.8 L343.1,77.1 L343.1,77.6 L343.3,78.2 L343.4,79 L343.7,79.8 L344.1,80.7 L344.6,81.7 L351.4,80.3 L350.9,79.4 L350.2,78.5 L349.6,77.7 L348.8,77.1 L348,76.6 L347.2,76.3 L346.4,76.1 L345.7,76.2Z" fill="#7ee8c2" stroke="#3d9c78" stroke-width="0.55"/>
<path d="M344.8,76.7 L345.1,77.2 L345.5,77.8 L345.9,78.5 L346.3,79.3" fill="none" stroke="#9af5d6" stroke-width="1.8" stroke-linecap="round" opacity="0.7"/>
<path d="M337.5,92.5 L337.8,92 L339.1,91.1 L341.1,90.1 L343.7,89.2 L346.4,88.6 L348.9,88.4 L350.9,88.9 L352.1,89.9 L353.3,92 L352.9,92.5 L351.7,93.4 L349.6,94.4 L347.1,95.3 L344.4,95.9 L341.8,96.1 L339.9,95.6 L338.7,94.6Z" fill="#5abe99" stroke="#3d9c78" stroke-width="0.5"/>
<path d="M342.2,101 L342.6,100.5 L343.8,99.6 L345.9,98.6 L348.4,97.7 L351.1,97.1 L353.7,96.9 L355.6,97.4 L356.8,98.4 L358,100.5 L357.7,101 L356.4,101.9 L354.4,102.9 L351.8,103.8 L349.1,104.4 L346.6,104.6 L344.6,104.1 L343.4,103.1Z" fill="#5abe99" stroke="#3d9c78" stroke-width="0.5"/>
<path d="M347,109.5 L347.3,109 L348.6,108.1 L350.6,107.1 L353.2,106.2 L355.9,105.6 L358.4,105.4 L360.4,105.9 L361.6,106.9 L362.8,109 L362.4,109.5 L361.2,110.4 L359.1,111.4 L356.6,112.3 L353.9,112.9 L351.3,113.1 L349.4,112.6 L348.2,111.6Z" fill="#5abe99" stroke="#3d9c78" stroke-width="0.5"/>
<path d="M351.7,118 L352.1,117.5 L353.3,116.6 L355.4,115.6 L357.9,114.7 L360.6,114.1 L363.2,113.9 L365.1,114.4 L366.3,115.4 L367.5,117.5 L367.2,118 L365.9,118.9 L363.9,119.9 L361.3,120.8 L358.6,121.4 L356.1,121.6 L354.1,121.1 L352.9,120.1Z" fill="#5abe99" stroke="#3d9c78" stroke-width="0.5"/>
<path d="M347.3,81.4 L346.7,81.4 L345.3,82 L343.4,83.3 L341.3,84.9 L339.3,86.9 L337.9,89 L337.2,90.9 L337.5,92.5 L338.7,94.6 L339.3,94.6 L340.7,94 L342.6,92.7 L344.7,91.1 L346.7,89.1 L348.1,87 L348.8,85.1 L348.5,83.5Z" fill="#7ee8c2" stroke="#3d9c78" stroke-width="0.55"/>
<path d="M346.5,84 L344.7,85.6 L342.7,87.4 L340.6,89.3 L339,91" fill="none" stroke="#9af5d6" stroke-width="1.8" stroke-linecap="round" opacity="0.7"/>
<path d="M352.1,89.9 L351.5,89.9 L350.1,90.5 L348.2,91.8 L346,93.4 L344.1,95.4 L342.6,97.5 L342,99.4 L342.2,101 L343.4,103.1 L344,103.1 L345.4,102.5 L347.3,101.2 L349.5,99.6 L351.4,97.6 L352.9,95.5 L353.5,93.6 L353.3,92Z" fill="#7ee8c2" stroke="#3d9c78" stroke-width="0.55"/>
<path d="M351.2,92.5 L349.5,94.1 L347.4,95.9 L345.4,97.8 L343.7,99.5" fill="none" stroke="#9af5d6" stroke-width="1.8" stroke-linecap="round" opacity="0.7"/>
<path d="M356.8,98.4 L356.2,98.4 L354.8,99 L352.9,100.3 L350.8,101.9 L348.8,103.9 L347.4,106 L346.7,107.9 L347,109.5 L348.2,111.6 L348.8,111.6 L350.2,111 L352.1,109.7 L354.2,108.1 L356.2,106.1 L357.6,104 L358.3,102.1 L358,100.5Z" fill="#7ee8c2" stroke="#3d9c78" stroke-width="0.55"/>
<path d="M356,101 L354.2,102.6 L352.2,104.4 L350.1,106.3 L348.5,108" fill="none" stroke="#9af5d6" stroke-width="1.8" stroke-linecap="round" opacity="0.7"/>
<path d="M361.6,106.9 L361,106.9 L359.6,107.5 L357.7,108.8 L355.5,110.4 L353.6,112.4 L352.1,114.5 L351.5,116.4 L351.7,118 L352.9,120.1 L353.5,120.1 L354.9,119.5 L356.8,118.2 L359,116.6 L360.9,114.6 L362.4,112.5 L363,110.6 L362.8,109Z" fill="#7ee8c2" stroke="#3d9c78" stroke-width="0.55"/>
<path d="M360.7,109.5 L359,111.1 L356.9,112.9 L354.9,114.8 L353.2,116.5" fill="none" stroke="#9af5d6" stroke-width="1.8" stroke-linecap="round" opacity="0.7"/>
<path d="M366.3,115.4 L366.1,115.3 L365.7,115.4 L365.1,115.7 L364.3,116 L363.4,116.6 L362.4,117.3 L361.4,118.1 L360.3,118.9 L363.7,125.1 L364.7,124.1 L365.7,123.1 L366.5,122 L367.1,121 L367.6,120 L367.8,119.1 L367.8,118.2 L367.5,117.5Z" fill="#7ee8c2" stroke="#3d9c78" stroke-width="0.55"/>
<path d="M366.6,116.9 L366.1,117.4 L365.5,118 L364.6,118.8 L363.7,119.6" fill="none" stroke="#9af5d6" stroke-width="1.8" stroke-linecap="round" opacity="0.7"/>
<path d="M330,125.5 L330.3,125.1 L331.4,124.2 L333.2,123 L335.5,121.8 L338,120.9 L340.5,120.5 L342.5,120.7 L343.9,121.6 L345.5,123.5 L345.2,123.9 L344.1,124.8 L342.3,126 L340,127.2 L337.5,128.1 L335,128.5 L333,128.3 L331.6,127.4Z" fill="#54b792" stroke="#3d9c78" stroke-width="0.5"/>
<path d="M337.5,134.5 L337.8,134.1 L338.9,133.2 L340.7,132 L343,130.8 L345.5,129.9 L348,129.5 L350,129.7 L351.4,130.6 L353,132.5 L352.7,132.9 L351.6,133.8 L349.8,135 L347.5,136.2 L345,137.1 L342.5,137.5 L340.5,137.3 L339.1,136.4Z" fill="#54b792" stroke="#3d9c78" stroke-width="0.5"/>
<path d="M345,143.5 L345.3,143.1 L346.4,142.2 L348.2,141 L350.5,139.8 L353,138.9 L355.5,138.5 L357.5,138.7 L358.9,139.6 L360.5,141.5 L360.2,141.9 L359.1,142.8 L357.3,144 L355,145.2 L352.5,146.1 L350,146.5 L348,146.3 L346.6,145.4Z" fill="#54b792" stroke="#3d9c78" stroke-width="0.5"/>
<path d="M352.5,152.5 L352.8,152.1 L353.9,151.2 L355.7,150 L358,148.8 L360.5,147.9 L363,147.5 L365,147.7 L366.4,148.6 L368,150.5 L367.7,150.9 L366.6,151.8 L364.8,153 L362.5,154.2 L360,155.1 L357.5,155.5 L355.5,155.3 L354.1,154.4Z" fill="#54b792" stroke="#3d9c78" stroke-width="0.5"/>
<path d="M336.4,112.6 L335.9,112.8 L334.8,113.7 L333.3,115.3 L331.8,117.3 L330.4,119.6 L329.5,121.9 L329.4,124 L330,125.5 L331.6,127.4 L332.1,127.2 L333.2,126.3 L334.7,124.7 L336.2,122.7 L337.6,120.4 L338.5,118.1 L338.6,116 L338,114.5Z" fill="#6fd8b2" stroke="#3d9c78" stroke-width="0.55"/>
<path d="M336.3,115.5 L335,117.3 L333.6,119.5 L332.1,121.7 L331,123.7" fill="none" stroke="#7ee8c2" stroke-width="1.8" stroke-linecap="round" opacity="0.7"/>
<path d="M343.9,121.6 L343.4,121.8 L342.3,122.7 L340.8,124.3 L339.3,126.3 L337.9,128.6 L337,130.9 L336.9,133 L337.5,134.5 L339.1,136.4 L339.6,136.2 L340.7,135.3 L342.2,133.7 L343.7,131.7 L345.1,129.4 L346,127.1 L346.1,125 L345.5,123.5Z" fill="#6fd8b2" stroke="#3d9c78" stroke-width="0.55"/>
<path d="M343.8,124.5 L342.5,126.3 L341.1,128.5 L339.6,130.7 L338.5,132.7" fill="none" stroke="#7ee8c2" stroke-width="1.8" stroke-linecap="round" opacity="0.7"/>
<path d="M351.4,130.6 L350.9,130.8 L349.8,131.7 L348.3,133.3 L346.8,135.3 L345.4,137.6 L344.5,139.9 L344.4,142 L345,143.5 L346.6,145.4 L347.1,145.2 L348.2,144.3 L349.7,142.7 L351.2,140.7 L352.6,138.4 L353.5,136.1 L353.6,134 L353,132.5Z" fill="#6fd8b2" stroke="#3d9c78" stroke-width="0.55"/>
<path d="M351.3,133.5 L350,135.3 L348.6,137.5 L347.1,139.7 L346,141.7" fill="none" stroke="#7ee8c2" stroke-width="1.8" stroke-linecap="round" opacity="0.7"/>
<path d="M358.9,139.6 L358.4,139.8 L357.3,140.7 L355.8,142.3 L354.3,144.3 L352.9,146.6 L352,148.9 L351.9,151 L352.5,152.5 L354.1,154.4 L354.6,154.2 L355.7,153.3 L357.2,151.7 L358.7,149.7 L360.1,147.4 L361,145.1 L361.1,143 L360.5,141.5Z" fill="#6fd8b2" stroke="#3d9c78" stroke-width="0.55"/>
<path d="M358.8,142.5 L357.5,144.3 L356.1,146.5 L354.6,148.7 L353.5,150.7" fill="none" stroke="#7ee8c2" stroke-width="1.8" stroke-linecap="round" opacity="0.7"/>
<path d="M366.4,148.6 L366.3,148.6 L365.9,148.8 L365.5,149.2 L364.8,149.7 L364.1,150.4 L363.3,151.3 L362.5,152.2 L361.8,153.3 L366.2,158.7 L367,157.5 L367.6,156.4 L368.1,155.2 L368.5,154.1 L368.6,153 L368.6,152 L368.4,151.2 L368,150.5Z" fill="#6fd8b2" stroke="#3d9c78" stroke-width="0.55"/>
<path d="M367,150.1 L366.7,150.7 L366.3,151.5 L365.7,152.3 L365,153.3" fill="none" stroke="#7ee8c2" stroke-width="1.8" stroke-linecap="round" opacity="0.7"/>
<path d="M304.5,104.9 L304.8,104.4 L306.2,103.6 L308.3,102.7 L311,101.8 L313.9,101.3 L316.5,101.3 L318.6,101.9 L319.9,103.1 L321.2,105.5 L320.8,105.9 L319.5,106.7 L317.3,107.7 L314.7,108.5 L311.8,109 L309.1,109 L307,108.4 L305.7,107.2Z" fill="#5abe99" stroke="#3d9c78" stroke-width="0.5"/>
<path d="M310.1,115.2 L310.5,114.8 L311.8,114 L314,113 L316.7,112.2 L319.5,111.7 L322.2,111.6 L324.3,112.2 L325.6,113.5 L326.9,115.8 L326.5,116.2 L325.2,117 L323,118 L320.3,118.8 L317.5,119.3 L314.8,119.4 L312.7,118.8 L311.4,117.5Z" fill="#5abe99" stroke="#3d9c78" stroke-width="0.5"/>
<path d="M315.8,125.5 L316.2,125.1 L317.5,124.3 L319.7,123.3 L322.3,122.5 L325.2,122 L327.9,122 L330,122.6 L331.3,123.8 L332.5,126.1 L332.2,126.6 L330.8,127.4 L328.7,128.3 L326,129.2 L323.1,129.7 L320.5,129.7 L318.4,129.1 L317.1,127.9Z" fill="#5abe99" stroke="#3d9c78" stroke-width="0.5"/>
<path d="M321.5,135.9 L321.8,135.4 L323.2,134.6 L325.3,133.7 L328,132.8 L330.9,132.3 L333.5,132.3 L335.6,132.9 L336.9,134.1 L338.2,136.5 L337.8,136.9 L336.5,137.7 L334.3,138.7 L331.7,139.5 L328.8,140 L326.1,140 L324,139.4 L322.7,138.2Z" fill="#5abe99" stroke="#3d9c78" stroke-width="0.5"/>
<path d="M327.1,146.2 L327.5,145.8 L328.8,145 L331,144 L333.7,143.2 L336.5,142.7 L339.2,142.6 L341.3,143.2 L342.6,144.5 L343.9,146.8 L343.5,147.2 L342.2,148 L340,149 L337.3,149.8 L334.5,150.3 L331.8,150.4 L329.7,149.8 L328.4,148.5Z" fill="#5abe99" stroke="#3d9c78" stroke-width="0.5"/>
<path d="M332.8,156.5 L333.2,156.1 L334.5,155.3 L336.7,154.3 L339.3,153.5 L342.2,153 L344.9,153 L347,153.6 L348.3,154.8 L349.5,157.1 L349.2,157.6 L347.8,158.4 L345.7,159.3 L343,160.2 L340.1,160.7 L337.5,160.7 L335.4,160.1 L334.1,158.9Z" fill="#5abe99" stroke="#3d9c78" stroke-width="0.5"/>
<path d="M314.3,92.8 L313.7,92.9 L312.3,93.6 L310.3,94.9 L308.2,96.7 L306.2,98.8 L304.8,101 L304.1,103.1 L304.5,104.9 L305.7,107.2 L306.3,107.1 L307.7,106.4 L309.7,105.1 L311.8,103.3 L313.8,101.2 L315.2,99 L315.9,96.9 L315.5,95.1Z" fill="#7ee8c2" stroke="#3d9c78" stroke-width="0.55"/>
<path d="M313.5,95.7 L311.7,97.4 L309.6,99.3 L307.6,101.3 L305.9,103.2" fill="none" stroke="#9af5d6" stroke-width="1.9" stroke-linecap="round" opacity="0.7"/>
<path d="M319.9,103.1 L319.3,103.2 L317.9,103.9 L316,105.2 L313.8,107 L311.9,109.1 L310.4,111.4 L309.8,113.5 L310.1,115.2 L311.4,117.5 L312,117.5 L313.4,116.8 L315.3,115.5 L317.5,113.7 L319.5,111.5 L320.9,109.3 L321.5,107.2 L321.2,105.5Z" fill="#7ee8c2" stroke="#3d9c78" stroke-width="0.55"/>
<path d="M319.1,106.1 L317.4,107.7 L315.3,109.7 L313.3,111.7 L311.6,113.5" fill="none" stroke="#9af5d6" stroke-width="1.9" stroke-linecap="round" opacity="0.7"/>
<path d="M325.6,113.5 L325,113.5 L323.6,114.2 L321.7,115.5 L319.5,117.3 L317.5,119.5 L316.1,121.7 L315.5,123.8 L315.8,125.5 L317.1,127.9 L317.7,127.8 L319.1,127.1 L321,125.8 L323.2,124 L325.1,121.9 L326.6,119.6 L327.2,117.5 L326.9,115.8Z" fill="#7ee8c2" stroke="#3d9c78" stroke-width="0.55"/>
<path d="M324.8,116.4 L323,118.1 L321,120 L318.9,122 L317.3,123.9" fill="none" stroke="#9af5d6" stroke-width="1.9" stroke-linecap="round" opacity="0.7"/>
<path d="M331.3,123.8 L330.7,123.9 L329.3,124.6 L327.3,125.9 L325.2,127.7 L323.2,129.8 L321.8,132 L321.1,134.1 L321.5,135.9 L322.7,138.2 L323.3,138.1 L324.7,137.4 L326.7,136.1 L328.8,134.3 L330.8,132.2 L332.2,130 L332.9,127.9 L332.5,126.1Z" fill="#7ee8c2" stroke="#3d9c78" stroke-width="0.55"/>
<path d="M330.5,126.7 L328.7,128.4 L326.6,130.3 L324.6,132.3 L322.9,134.2" fill="none" stroke="#9af5d6" stroke-width="1.9" stroke-linecap="round" opacity="0.7"/>
<path d="M336.9,134.1 L336.3,134.2 L334.9,134.9 L333,136.2 L330.8,138 L328.9,140.1 L327.4,142.4 L326.8,144.5 L327.1,146.2 L328.4,148.5 L329,148.5 L330.4,147.8 L332.3,146.5 L334.5,144.7 L336.5,142.5 L337.9,140.3 L338.5,138.2 L338.2,136.5Z" fill="#7ee8c2" stroke="#3d9c78" stroke-width="0.55"/>
<path d="M336.1,137.1 L334.4,138.7 L332.3,140.7 L330.3,142.7 L328.6,144.5" fill="none" stroke="#9af5d6" stroke-width="1.9" stroke-linecap="round" opacity="0.7"/>
<path d="M342.6,144.5 L342,144.5 L340.6,145.2 L338.7,146.5 L336.5,148.3 L334.5,150.5 L333.1,152.7 L332.5,154.8 L332.8,156.5 L334.1,158.9 L334.7,158.8 L336.1,158.1 L338,156.8 L340.2,155 L342.1,152.9 L343.6,150.6 L344.2,148.5 L343.9,146.8Z" fill="#7ee8c2" stroke="#3d9c78" stroke-width="0.55"/>
<path d="M341.8,147.4 L340,149.1 L338,151 L335.9,153 L334.3,154.9" fill="none" stroke="#9af5d6" stroke-width="1.9" stroke-linecap="round" opacity="0.7"/>
<path d="M348.3,154.8 L348.1,154.8 L347.7,154.9 L347.1,155.1 L346.3,155.6 L345.3,156.1 L344.3,156.9 L343.3,157.7 L342.2,158.7 L345.8,165.3 L346.9,164.3 L347.8,163.2 L348.6,162.1 L349.2,161 L349.7,159.9 L349.9,158.9 L349.8,157.9 L349.5,157.1Z" fill="#7ee8c2" stroke="#3d9c78" stroke-width="0.55"/>
<path d="M348.6,156.5 L348.1,157 L347.5,157.7 L346.7,158.5 L345.7,159.4" fill="none" stroke="#9af5d6" stroke-width="1.9" stroke-linecap="round" opacity="0.7"/>
<polygon points="334,163 368,168 368,164.5 377,170 368,176 368,172.5 334,169" fill="#7ee8c2" stroke="#3d9c78" stroke-width="0.7"/>
<polygon points="392,160 404,157 410,162 404,168 394,166" fill="#7ee8c2" stroke="#3d9c78" stroke-width="0.7"/>
<path d="M277,126C276.2,125.3 273.8,124 272,122C270.2,120 267.8,115.5 266,114C264.2,112.5 262.6,112.2 261,112.7C259.4,113.2 258,115.6 256.4,116.8C254.8,118 253.5,119.9 251.6,120C249.7,120.1 246.6,119.1 245.1,117.6C243.6,116.1 243,112.8 242.7,111.1C242.4,109.3 244.2,107.5 243.5,107.1C242.8,106.7 240.6,107.6 238.7,108.7C236.8,109.8 234,113.6 232.3,113.5C230.6,113.4 229.6,109.5 228.3,107.9C227,106.3 226.1,104.4 224.3,103.9C222.6,103.4 219.9,103.7 217.8,104.7C215.8,105.7 213.4,107.8 212,110C210.6,112.2 209.9,115 209.6,118C209.3,121 209.6,125.3 210,128C210.4,130.7 210.7,132.2 212,134C213.3,135.8 217.3,137.2 218,139C218.7,140.8 216.6,143.2 216,145C215.4,146.8 214.2,148.2 214.5,150C214.8,151.8 216.4,154.3 218,156C219.6,157.7 222.2,158.3 224,160C225.8,161.7 228.7,164.2 229,166C229.3,167.8 227.7,169.3 226,171C224.3,172.7 220.2,175.2 219,176" fill="none" stroke="#15661a" stroke-width="3.1" stroke-linecap="round" stroke-linejoin="round"/>
<path d="M277,126C276.2,125.3 273.8,124 272,122C270.2,120 267.8,115.5 266,114C264.2,112.5 262.6,112.2 261,112.7C259.4,113.2 258,115.6 256.4,116.8C254.8,118 253.5,119.9 251.6,120C249.7,120.1 246.6,119.1 245.1,117.6C243.6,116.1 243,112.8 242.7,111.1C242.4,109.3 244.2,107.5 243.5,107.1C242.8,106.7 240.6,107.6 238.7,108.7C236.8,109.8 234,113.6 232.3,113.5C230.6,113.4 229.6,109.5 228.3,107.9C227,106.3 226.1,104.4 224.3,103.9C222.6,103.4 219.9,103.7 217.8,104.7C215.8,105.7 213.4,107.8 212,110C210.6,112.2 209.9,115 209.6,118C209.3,121 209.6,125.3 210,128C210.4,130.7 210.7,132.2 212,134C213.3,135.8 217.3,137.2 218,139C218.7,140.8 216.6,143.2 216,145C215.4,146.8 214.2,148.2 214.5,150C214.8,151.8 216.4,154.3 218,156C219.6,157.7 222.2,158.3 224,160C225.8,161.7 228.7,164.2 229,166C229.3,167.8 227.7,169.3 226,171C224.3,172.7 220.2,175.2 219,176" fill="none" stroke="#1f8f22" stroke-width="2.2" stroke-linecap="round" stroke-linejoin="round"/>
<path d="M281,130 L298,160" stroke="#15661a" stroke-width="7" stroke-linecap="round"/>
<path d="M281,130 L298,160" stroke="#1f8f22" stroke-width="5.8" stroke-linecap="round"/>
<polygon points="271,132 282,120.5 291,127.5" fill="#1f8f22" stroke="#15661a" stroke-width="0.8"/>
<path d="M298,162C299.3,163.2 303.7,167.5 306,169.5C308.3,171.5 309.9,172.7 312,174C314.1,175.3 316.9,176.7 318.8,177.6C320.7,178.5 322.8,178.9 323.6,179.2" fill="none" stroke="#15661a" stroke-width="2.8" stroke-linecap="round" stroke-linejoin="round"/>
<path d="M298,162C299.3,163.2 303.7,167.5 306,169.5C308.3,171.5 309.9,172.7 312,174C314.1,175.3 316.9,176.7 318.8,177.6C320.7,178.5 322.8,178.9 323.6,179.2" fill="none" stroke="#1f8f22" stroke-width="1.9" stroke-linecap="round" stroke-linejoin="round"/>
<text x="434.6" y="130.7" font-size="14.1" fill="#3d86ee" textLength="82.4" lengthAdjust="spacingAndGlyphs">SNX17 FERM</text>
<text x="434.6" y="146.8" font-size="14.1" fill="#62eec4" textLength="62.6" lengthAdjust="spacingAndGlyphs">SNX17 PX</text>
<text x="434.6" y="161.2" font-size="14.1" fill="#fb72ea" textLength="41.2" lengthAdjust="spacingAndGlyphs">SNX17</text>
<text x="476.7" y="157.4" font-size="8.2" fill="#fb72ea" textLength="28" lengthAdjust="spacingAndGlyphs">454-470</text>
<text x="434" y="178" font-size="14.1" fill="#129a12" textLength="31.8" lengthAdjust="spacingAndGlyphs">LRP1</text>
<text x="467" y="173.6" font-size="8.2" fill="#129a12" textLength="36.8" lengthAdjust="spacingAndGlyphs">4460-4490</text>
<text x="-0.6" y="267" font-size="15" fill="#111" font-weight="normal" text-anchor="start" >B</text>
<path d="M83.4,282.3 V427.8 H302" fill="none" stroke="#4a4a4a" stroke-width="1.1"/>
<path d="M77.4,282.3 H83.4" stroke="#4a4a4a" stroke-width="1.1"/>
<text x="74.4" y="285.9" font-size="10.3" fill="#111" font-weight="bold" text-anchor="end" >0.0</text>
<path d="M77.4,330.8 H83.4" stroke="#4a4a4a" stroke-width="1.1"/>
<text x="74.4" y="334.4" font-size="10.3" fill="#111" font-weight="bold" text-anchor="end" >-0.5</text>
<path d="M77.4,379.3 H83.4" stroke="#4a4a4a" stroke-width="1.1"/>
<text x="74.4" y="382.9" font-size="10.3" fill="#111" font-weight="bold" text-anchor="end" >-1.0</text>
<path d="M77.4,427.8 H83.4" stroke="#4a4a4a" stroke-width="1.1"/>
<text x="74.4" y="431.4" font-size="10.3" fill="#111" font-weight="bold" text-anchor="end" >-1.5</text>
<path d="M83.4,427.8 V433.4" stroke="#4a4a4a" stroke-width="1.1"/>
<text x="83.4" y="446.4" font-size="10.3" fill="#111" font-weight="bold" text-anchor="middle" >0</text>
<path d="M138,427.8 V433.4" stroke="#4a4a4a" stroke-width="1.1"/>
<text x="138" y="446.4" font-size="10.3" fill="#111" font-weight="bold" text-anchor="middle" >10</text>
<path d="M192.6,427.8 V433.4" stroke="#4a4a4a" stroke-width="1.1"/>
<text x="192.6" y="446.4" font-size="10.3" fill="#111" font-weight="bold" text-anchor="middle" >20</text>
<path d="M247.2,427.8 V433.4" stroke="#4a4a4a" stroke-width="1.1"/>
<text x="247.2" y="446.4" font-size="10.3" fill="#111" font-weight="bold" text-anchor="middle" >30</text>
<path d="M301.8,427.8 V433.4" stroke="#4a4a4a" stroke-width="1.1"/>
<text x="301.8" y="446.4" font-size="10.3" fill="#111" font-weight="bold" text-anchor="middle" >40</text>
<path d="M83.4,379.1 L84.6,379 L85.8,379.3 L87,379 L88.2,379.2 L89.4,379.1 L90.6,379 L91.8,379.2 L93,379 L94.2,379.2 L95.4,379 L96.6,379 L97.8,379.2 L99,379.4 L100.2,379 L101.4,379.1 L102.6,379.3 L103.8,379.4 L105,379.2 L105.2,379.1 L105.6,403 L105.9,407.2 L106.4,397.2 L106.9,390.4 L107.4,386.6 L107.9,383.8 L108.4,382 L108.8,381 L109.3,380.3 L109.8,380.1 L110.3,379.6 L110.8,379.5 L111.3,379.4 L111.8,379.3 L112.3,379.3 L112.8,379.1 L113.3,379.1 L114.5,379.1 L115.7,379.3 L116.9,379.2 L118.1,379.1 L119.3,379.2 L120.5,379.2 L121.6,379.1 L121.9,399.6 L122.3,403.2 L122.8,394.6 L123.3,389 L123.7,385.3 L124.2,383.2 L124.7,381.7 L125.2,380.9 L125.7,380.3 L126.2,379.8 L126.7,379.8 L127.2,379.4 L127.7,379.3 L128.2,379.4 L128.7,379.2 L129.2,379.2 L129.6,379.1 L130.8,379.3 L132,379.3 L133.2,379.2 L134.4,379.4 L135.6,379.1 L136.8,379.3 L138,379.2 L138.3,394.1 L138.7,396.7 L139.1,390.4 L139.6,386.3 L140.1,383.8 L140.6,382.2 L141.1,381 L141.6,380.4 L142.1,379.8 L142.6,379.7 L143.1,379.5 L143.6,379.5 L144.1,379.4 L144.6,379.2 L145,379.2 L145.5,379.3 L146,379.1 L147.2,379.2 L148.4,379 L149.6,379 L150.8,379 L152,379.3 L153.2,379 L154.4,379.1 L154.7,392.4 L155,394.7 L155.5,389.1 L156,385.6 L156.5,383.1 L157,381.7 L157.5,380.8 L158,380.4 L158.5,380 L159,379.7 L159.5,379.4 L159.9,379.3 L160.4,379.3 L160.9,379.4 L161.4,379.4 L161.9,379.1 L162.4,379.1 L163.6,379.1 L164.8,379.1 L166,379.2 L167.2,379.2 L168.4,379.1 L169.6,379 L170.8,379.2 L171.1,390.2 L171.4,392.2 L171.9,387.4 L172.4,384.5 L172.9,382.7 L173.4,381.4 L173.9,380.6 L174.4,380.1 L174.9,379.8 L175.3,379.4 L175.8,379.5 L176.3,379.4 L176.8,379.4 L177.3,379.3 L177.8,379.2 L178.3,379.2 L178.8,379.1 L180,379.3 L181.2,379 L182.4,379 L183.6,379.1 L184.8,379 L186,379.1 L187.1,379 L187.5,388.6 L187.8,390.2 L188.3,386.1 L188.8,383.6 L189.3,381.9 L189.8,381 L190.3,380.2 L190.7,380.1 L191.2,379.7 L191.7,379.4 L192.2,379.3 L192.7,379.3 L193.2,379.2 L193.7,379.1 L194.2,379.3 L194.7,379.4 L195.2,379.2 L196.4,379.2 L197.6,379 L198.8,379 L200,379.1 L201.2,379.1 L202.4,379.4 L203.5,379 L203.8,387.7 L204.2,389.2 L204.7,385.4 L205.2,383.4 L205.6,381.8 L206.1,380.7 L206.6,380.3 L207.1,379.7 L207.6,379.6 L208.1,379.6 L208.6,379.5 L209.1,379.4 L209.6,379.2 L210.1,379.2 L210.6,379.1 L211.1,379.3 L211.5,379.2 L212.7,379.3 L213.9,379.1 L215.1,379.1 L216.3,379.4 L217.5,379.4 L218.7,379.4 L219.9,379.4 L220.2,386.8 L220.6,388.2 L221,385 L221.5,382.9 L222,381.5 L222.5,380.7 L223,380.1 L223.5,379.7 L224,379.4 L224.5,379.4 L225,379.3 L225.5,379.4 L226,379.4 L226.5,379.2 L226.9,379.4 L227.4,379.4 L227.9,379.3 L229.1,379.1 L230.3,379.1 L231.5,379.1 L232.7,379 L233.9,379.1 L235.1,379.3 L236.3,379.4 L236.6,386 L236.9,387.2 L237.4,384.4 L237.9,382.4 L238.4,381.3 L238.9,380.6 L239.4,379.9 L239.9,379.8 L240.4,379.7 L240.9,379.5 L241.4,379.4 L241.8,379.3 L242.3,379.2 L242.8,379.3 L243.3,379.2 L243.8,379.3 L244.3,379.4 L245.5,379.1 L246.7,379.2 L247.9,379.4 L249.1,379.3 L250.3,379 L251.5,379 L252.7,379 L253,385.1 L253.3,386.2 L253.8,383.8 L254.3,382.1 L254.8,380.9 L255.3,380.5 L255.8,380.1 L256.3,379.7 L256.8,379.5 L257.2,379.4 L257.7,379.2 L258.2,379.1 L258.7,379.4 L259.2,379.3 L259.7,379.2 L260.2,379.3 L260.7,379.2 L261.9,379.4 L263.1,379.4 L264.3,379.1 L265.5,379.1 L266.7,379.1 L267.9,379.1 L269,379.2 L269.4,384.7 L269.7,385.7 L270.2,383.3 L270.7,381.8 L271.2,380.8 L271.7,380.4 L272.2,379.8 L272.6,379.6 L273.1,379.5 L273.6,379.5 L274.1,379.3 L274.6,379.4 L275.1,379.2 L275.6,379.2 L276.1,379.2 L276.6,379.1 L277.1,379.2 L278.3,379 L279.5,379 L280.7,379.3 L281.9,379 L283.1,379.2 L284.3,379.3 L285.4,379.2 L285.7,384.3 L286.1,385.2 L286.6,383 L287.1,381.6 L287.5,380.8 L288,380.3 L288.5,379.7 L289,379.6 L289.5,379.4 L290,379.3 L290.5,379.4 L291,379.3 L291.5,379.3 L292,379.3 L292.5,379.3 L293,379.2 L293.4,379.2 L294.6,379.2 L295.8,379.2 L297,379.3 L298.2,379.2 L299.4,379.2 L300.6,379.2 L301.8,379.4" fill="none" stroke="#f3e21c" stroke-width="1.25" stroke-linejoin="round"/>
<path d="M83.4,330.4 L84.6,330.5 L85.8,330.5 L87,330.2 L88.2,330.3 L89.4,330.5 L90.6,330.5 L91.8,330.1 L93,330.1 L94.2,330.3 L95.4,330.1 L96.6,330.2 L97.8,330.1 L99,330.4 L100.2,330.4 L101.4,330.5 L102.6,330.1 L103.8,330.4 L105,330.4 L105.2,330.1 L105.6,361.8 L105.9,367.3 L106.4,354 L106.9,345.5 L107.4,339.8 L107.9,336.6 L108.4,334.2 L108.8,332.8 L109.3,332 L109.8,331.4 L110.3,330.8 L110.8,330.7 L111.3,330.6 L111.8,330.4 L112.3,330.3 L112.8,330.3 L113.3,330.4 L114.5,330.1 L115.7,330.3 L116.9,330.3 L118.1,330.1 L119.3,330.2 L120.5,330.4 L121.6,330.3 L121.9,357.9 L122.3,362.8 L122.8,350.9 L123.3,343.7 L123.7,338.8 L124.2,335.8 L124.7,333.6 L125.2,332.4 L125.7,331.6 L126.2,331.3 L126.7,330.8 L127.2,330.5 L127.7,330.5 L128.2,330.6 L128.7,330.5 L129.2,330.3 L129.6,330.2 L130.8,330.5 L132,330.3 L133.2,330.4 L134.4,330.1 L135.6,330.1 L136.8,330.4 L138,330.3 L138.3,352 L138.7,355.8 L139.1,346.4 L139.6,340.8 L140.1,337 L140.6,334.6 L141.1,332.9 L141.6,332.1 L142.1,331.3 L142.6,331.1 L143.1,330.7 L143.6,330.5 L144.1,330.5 L144.6,330.5 L145,330.3 L145.5,330.2 L146,330.3 L147.2,330.2 L148.4,330.1 L149.6,330.1 L150.8,330.1 L152,330.2 L153.2,330.2 L154.4,330.2 L154.7,347.7 L155,350.8 L155.5,343.4 L156,338.6 L156.5,335.6 L157,333.6 L157.5,332.4 L158,331.5 L158.5,331.1 L159,330.7 L159.5,330.7 L159.9,330.5 L160.4,330.4 L160.9,330.4 L161.4,330.5 L161.9,330.2 L162.4,330.4 L163.6,330.3 L164.8,330.3 L166,330.5 L167.2,330.2 L168.4,330.3 L169.6,330.4 L170.8,330.5 L171.1,344.3 L171.4,346.8 L171.9,340.8 L172.4,337.1 L172.9,334.6 L173.4,333.1 L173.9,332 L174.4,331.4 L174.9,330.9 L175.3,330.6 L175.8,330.5 L176.3,330.6 L176.8,330.3 L177.3,330.3 L177.8,330.2 L178.3,330.4 L178.8,330.4 L180,330.4 L181.2,330.2 L182.4,330.2 L183.6,330.2 L184.8,330.3 L186,330.1 L187.1,330.3 L187.5,341.4 L187.8,343.3 L188.3,338.5 L188.8,335.7 L189.3,333.8 L189.8,332.5 L190.3,331.6 L190.7,331.3 L191.2,330.8 L191.7,330.6 L192.2,330.4 L192.7,330.4 L193.2,330.4 L193.7,330.4 L194.2,330.2 L194.7,330.3 L195.2,330.2 L196.4,330.2 L197.6,330.1 L198.8,330.2 L200,330.1 L201.2,330.1 L202.4,330.2 L203.5,330.2 L203.8,339.7 L204.2,341.3 L204.7,337.3 L205.2,334.8 L205.6,333.2 L206.1,332.2 L206.6,331.5 L207.1,331.2 L207.6,330.7 L208.1,330.5 L208.6,330.6 L209.1,330.3 L209.6,330.4 L210.1,330.4 L210.6,330.2 L211.1,330.4 L211.5,330.4 L212.7,330.4 L213.9,330.4 L215.1,330.5 L216.3,330.1 L217.5,330.3 L218.7,330.3 L219.9,330.5 L220.2,337.9 L220.6,339.3 L221,336.1 L221.5,334.1 L222,332.7 L222.5,331.9 L223,331.3 L223.5,331 L224,330.6 L224.5,330.4 L225,330.3 L225.5,330.4 L226,330.2 L226.5,330.4 L226.9,330.3 L227.4,330.4 L227.9,330.3 L229.1,330.4 L230.3,330.3 L231.5,330.1 L232.7,330.4 L233.9,330.4 L235.1,330.3 L236.3,330.3 L236.6,337.1 L236.9,338.3 L237.4,335.4 L237.9,333.4 L238.4,332.4 L238.9,331.5 L239.4,331 L239.9,330.8 L240.4,330.7 L240.9,330.4 L241.4,330.5 L241.8,330.5 L242.3,330.4 L242.8,330.3 L243.3,330.3 L243.8,330.4 L244.3,330.4 L245.5,330.4 L246.7,330.4 L247.9,330.1 L249.1,330.1 L250.3,330.2 L251.5,330.4 L252.7,330.2 L253,336.2 L253.3,337.3 L253.8,334.8 L254.3,333 L254.8,332 L255.3,331.4 L255.8,331.1 L256.3,330.8 L256.8,330.7 L257.2,330.4 L257.7,330.4 L258.2,330.4 L258.7,330.3 L259.2,330.2 L259.7,330.4 L260.2,330.2 L260.7,330.5 L261.9,330.5 L263.1,330.1 L264.3,330.3 L265.5,330.5 L266.7,330.5 L267.9,330.3 L269,330.2 L269.4,335.8 L269.7,336.8 L270.2,334.4 L270.7,333.1 L271.2,331.9 L271.7,331.4 L272.2,330.9 L272.6,330.7 L273.1,330.7 L273.6,330.4 L274.1,330.5 L274.6,330.4 L275.1,330.5 L275.6,330.4 L276.1,330.2 L276.6,330.4 L277.1,330.3 L278.3,330.1 L279.5,330.1 L280.7,330.3 L281.9,330.3 L283.1,330.2 L284.3,330.1 L285.4,330.2 L285.7,335.4 L286.1,336.3 L286.6,334.1 L287.1,332.8 L287.5,331.7 L288,331.4 L288.5,331 L289,330.6 L289.5,330.7 L290,330.5 L290.5,330.5 L291,330.3 L291.5,330.3 L292,330.3 L292.5,330.5 L293,330.3 L293.4,330.3 L294.6,330.3 L295.8,330.2 L297,330.1 L298.2,330.1 L299.4,330.5 L300.6,330.2 L301.8,330.5" fill="none" stroke="#ea4238" stroke-width="1.25" stroke-linejoin="round"/>
<path d="M83.4,306.4 L84.6,306.4 L85.8,306.5 L87,306.3 L88.2,306.4 L89.4,306.7 L90.6,306.7 L91.8,306.7 L93,306.6 L94.2,306.7 L95.4,306.7 L96.6,306.5 L97.8,306.6 L99,306.3 L100.2,306.6 L101.4,306.5 L102.6,306.6 L103.8,306.6 L105,306.4 L105.2,306.3 L105.6,319.7 L105.9,322 L106.4,316.5 L106.9,312.7 L107.4,310.5 L107.9,309 L108.4,308.1 L108.8,307.6 L109.3,307.3 L109.8,306.9 L110.3,306.8 L110.8,306.6 L111.3,306.6 L111.8,306.5 L112.3,306.4 L112.8,306.4 L113.3,306.4 L114.5,306.7 L115.7,306.5 L116.9,306.4 L118.1,306.7 L119.3,306.7 L120.5,306.5 L121.6,306.3 L121.9,317.6 L122.3,319.5 L122.8,314.7 L123.3,311.7 L123.7,309.8 L124.2,308.5 L124.7,307.8 L125.2,307.3 L125.7,307.1 L126.2,307 L126.7,306.8 L127.2,306.6 L127.7,306.6 L128.2,306.6 L128.7,306.5 L129.2,306.5 L129.6,306.4 L130.8,306.4 L132,306.7 L133.2,306.3 L134.4,306.5 L135.6,306.6 L136.8,306.7 L138,306.4 L138.3,316.3 L138.7,318 L139.1,313.8 L139.6,311.1 L140.1,309.5 L140.6,308.4 L141.1,307.8 L141.6,307.4 L142.1,307.1 L142.6,306.7 L143.1,306.6 L143.6,306.7 L144.1,306.7 L144.6,306.5 L145,306.6 L145.5,306.4 L146,306.5 L147.2,306.7 L148.4,306.7 L149.6,306.7 L150.8,306.7 L152,306.4 L153.2,306.3 L154.4,306.3 L154.7,315.4 L155,317 L155.5,313.2 L156,310.8 L156.5,309.4 L157,308.3 L157.5,307.7 L158,307.3 L158.5,306.9 L159,306.8 L159.5,306.5 L159.9,306.7 L160.4,306.5 L160.9,306.7 L161.4,306.6 L161.9,306.5 L162.4,306.4 L163.6,306.4 L164.8,306.6 L166,306.6 L167.2,306.3 L168.4,306.3 L169.6,306.5 L170.8,306.5 L171.1,314.6 L171.4,316 L171.9,312.5 L172.4,310.3 L172.9,309 L173.4,307.9 L173.9,307.4 L174.4,307.1 L174.9,307 L175.3,306.8 L175.8,306.8 L176.3,306.6 L176.8,306.5 L177.3,306.5 L177.8,306.7 L178.3,306.6 L178.8,306.5 L180,306.3 L181.2,306.5 L182.4,306.6 L183.6,306.5 L184.8,306.4 L186,306.6 L187.1,306.7 L187.5,313.7 L187.8,315 L188.3,311.8 L188.8,309.8 L189.3,308.7 L189.8,307.9 L190.3,307.5 L190.7,307 L191.2,307 L191.7,306.8 L192.2,306.6 L192.7,306.5 L193.2,306.7 L193.7,306.5 L194.2,306.6 L194.7,306.4 L195.2,306.4 L196.4,306.6 L197.6,306.4 L198.8,306.7 L200,306.5 L201.2,306.3 L202.4,306.4 L203.5,306.5 L203.8,313.3 L204.2,314.5 L204.7,311.7 L205.2,309.9 L205.6,308.5 L206.1,307.8 L206.6,307.3 L207.1,307.2 L207.6,306.7 L208.1,306.6 L208.6,306.5 L209.1,306.6 L209.6,306.7 L210.1,306.7 L210.6,306.6 L211.1,306.7 L211.5,306.6 L212.7,306.4 L213.9,306.3 L215.1,306.7 L216.3,306.6 L217.5,306.3 L218.7,306.6 L219.9,306.4 L220.2,312.9 L220.6,314 L221,311.2 L221.5,309.5 L222,308.3 L222.5,307.6 L223,307.2 L223.5,307 L224,307 L224.5,306.6 L225,306.8 L225.5,306.5 L226,306.5 L226.5,306.6 L226.9,306.6 L227.4,306.5 L227.9,306.4 L229.1,306.5 L230.3,306.4 L231.5,306.7 L232.7,306.3 L233.9,306.4 L235.1,306.7 L236.3,306.3 L236.6,312.4 L236.9,313.5 L237.4,310.9 L237.9,309.4 L238.4,308.4 L238.9,307.5 L239.4,307.1 L239.9,306.8 L240.4,306.9 L240.9,306.6 L241.4,306.7 L241.8,306.7 L242.3,306.5 L242.8,306.5 L243.3,306.7 L243.8,306.5 L244.3,306.4 L245.5,306.6 L246.7,306.4 L247.9,306.4 L249.1,306.3 L250.3,306.6 L251.5,306.7 L252.7,306.6 L253,312.4 L253.3,313.5 L253.8,311.1 L254.3,309.2 L254.8,308.2 L255.3,307.6 L255.8,307.4 L256.3,307.1 L256.8,306.8 L257.2,306.6 L257.7,306.6 L258.2,306.6 L258.7,306.7 L259.2,306.4 L259.7,306.6 L260.2,306.6 L260.7,306.6 L261.9,306.6 L263.1,306.6 L264.3,306.4 L265.5,306.4 L266.7,306.4 L267.9,306.6 L269,306.3 L269.4,312 L269.7,313 L270.2,310.6 L270.7,309.2 L271.2,308.1 L271.7,307.4 L272.2,307 L272.6,307 L273.1,306.7 L273.6,306.8 L274.1,306.7 L274.6,306.7 L275.1,306.5 L275.6,306.4 L276.1,306.4 L276.6,306.5 L277.1,306.6 L278.3,306.5 L279.5,306.4 L280.7,306.5 L281.9,306.6 L283.1,306.6 L284.3,306.6 L285.4,306.7 L285.7,311.6 L286.1,312.5 L286.6,310.4 L287.1,308.8 L287.5,308.2 L288,307.4 L288.5,307.2 L289,306.9 L289.5,306.8 L290,306.6 L290.5,306.5 L291,306.5 L291.5,306.4 L292,306.6 L292.5,306.5 L293,306.5 L293.4,306.5 L294.6,306.7 L295.8,306.5 L297,306.4 L298.2,306.7 L299.4,306.6 L300.6,306.7 L301.8,306.3" fill="none" stroke="#8e3aa0" stroke-width="1.25" stroke-linejoin="round"/>
<path d="M83.4,282.9 L84.6,283.1 L85.8,283.1 L87,283.1 L88.2,282.7 L89.4,282.8 L90.6,282.7 L91.8,282.7 L93,283.1 L94.2,282.9 L95.4,283.1 L96.6,282.8 L97.8,283.1 L99,282.9 L100.2,282.8 L101.4,283 L102.6,283.1 L103.8,282.7 L105,282.9 L105.2,283 L105.6,300.8 L105.9,303.9 L106.4,296.2 L106.9,291.4 L107.4,288.2 L107.9,286.3 L108.4,285 L108.8,284.3 L109.3,283.8 L109.8,283.4 L110.3,283.1 L110.8,283.1 L111.3,283.1 L111.8,282.9 L112.3,282.9 L112.8,282.8 L113.3,283 L114.5,282.9 L115.7,282.7 L116.9,282.7 L118.1,282.8 L119.3,282.9 L120.5,283 L121.6,282.7 L121.9,299 L122.3,301.9 L122.8,294.9 L123.3,290.7 L123.7,287.8 L124.2,286 L124.7,284.8 L125.2,284.3 L125.7,283.7 L126.2,283.4 L126.7,283.2 L127.2,283.1 L127.7,283.1 L128.2,283.1 L128.7,282.9 L129.2,282.8 L129.6,283 L130.8,282.8 L132,282.7 L133.2,283.1 L134.4,282.9 L135.6,283.1 L136.8,282.9 L138,283.1 L138.3,296.9 L138.7,299.4 L139.1,293.4 L139.6,289.5 L140.1,287 L140.6,285.6 L141.1,284.7 L141.6,284.1 L142.1,283.5 L142.6,283.4 L143.1,283.1 L143.6,283.1 L144.1,282.9 L144.6,282.9 L145,283 L145.5,283.1 L146,282.8 L147.2,282.9 L148.4,283.1 L149.6,283.1 L150.8,282.7 L152,282.7 L153.2,283.1 L154.4,283.1 L154.7,294.4 L155,296.4 L155.5,291.5 L156,288.3 L156.5,286.5 L157,285.1 L157.5,284.4 L158,283.8 L158.5,283.6 L159,283.2 L159.5,283.2 L159.9,283 L160.4,283 L160.9,283.1 L161.4,283 L161.9,282.8 L162.4,282.8 L163.6,282.8 L164.8,282.9 L166,282.8 L167.2,282.7 L168.4,282.8 L169.6,283 L170.8,283.1 L171.1,292.2 L171.4,293.9 L171.9,289.8 L172.4,287.4 L172.9,285.8 L173.4,284.6 L173.9,284.2 L174.4,283.5 L174.9,283.4 L175.3,283.2 L175.8,283.1 L176.3,283 L176.8,283 L177.3,283 L177.8,282.9 L178.3,283 L178.8,282.9 L180,282.9 L181.2,282.7 L182.4,283 L183.6,282.9 L184.8,282.8 L186,283 L187.1,283 L187.5,290.1 L187.8,291.4 L188.3,288.3 L188.8,286.3 L189.3,285.1 L189.8,284.2 L190.3,283.7 L190.7,283.5 L191.2,283.1 L191.7,283.1 L192.2,283.1 L192.7,282.9 L193.2,283 L193.7,282.8 L194.2,283 L194.7,283 L195.2,282.9 L196.4,282.7 L197.6,282.9 L198.8,282.8 L200,283.1 L201.2,282.7 L202.4,283.1 L203.5,283.1 L203.8,288.8 L204.2,289.9 L204.7,287.4 L205.2,285.8 L205.6,284.6 L206.1,284.2 L206.6,283.6 L207.1,283.5 L207.6,283.3 L208.1,283 L208.6,283.1 L209.1,283.1 L209.6,282.8 L210.1,282.9 L210.6,283 L211.1,282.8 L211.5,283 L212.7,282.8 L213.9,283.1 L215.1,282.7 L216.3,282.9 L217.5,283.1 L218.7,282.8 L219.9,282.8 L220.2,288 L220.6,288.9 L221,286.7 L221.5,285.3 L222,284.3 L222.5,283.8 L223,283.4 L223.5,283.4 L224,283.2 L224.5,283.2 L225,282.9 L225.5,283.1 L226,282.8 L226.5,282.9 L226.9,283 L227.4,282.9 L227.9,283 L229.1,282.9 L230.3,282.9 L231.5,283.1 L232.7,282.7 L233.9,283.1 L235.1,283 L236.3,282.8 L236.6,287.6 L236.9,288.4 L237.4,286.5 L237.9,285.1 L238.4,284.5 L238.9,283.8 L239.4,283.4 L239.9,283.3 L240.4,283.1 L240.9,283 L241.4,283.1 L241.8,282.8 L242.3,283 L242.8,282.9 L243.3,283 L243.8,283.1 L244.3,282.9 L245.5,283 L246.7,282.8 L247.9,282.7 L249.1,282.7 L250.3,282.7 L251.5,283 L252.7,282.9 L253,287.1 L253.3,287.9 L253.8,286.1 L254.3,285.1 L254.8,284.1 L255.3,283.6 L255.8,283.5 L256.3,283.1 L256.8,283 L257.2,283 L257.7,282.9 L258.2,282.9 L258.7,282.9 L259.2,282.9 L259.7,282.9 L260.2,282.8 L260.7,282.9 L261.9,282.9 L263.1,282.7 L264.3,283.1 L265.5,282.8 L266.7,282.7 L267.9,282.7 L269,283 L269.4,286.7 L269.7,287.4 L270.2,285.9 L270.7,284.8 L271.2,284 L271.7,283.6 L272.2,283.2 L272.6,283.2 L273.1,283.1 L273.6,283 L274.1,283 L274.6,282.9 L275.1,283.1 L275.6,283 L276.1,282.8 L276.6,283 L277.1,282.8 L278.3,282.9 L279.5,282.9 L280.7,282.8 L281.9,282.7 L283.1,283 L284.3,282.7 L285.4,282.9 L285.7,286.3 L286.1,286.9 L286.6,285.6 L287.1,284.4 L287.5,283.8 L288,283.6 L288.5,283.3 L289,283.2 L289.5,283.2 L290,282.9 L290.5,282.9 L291,282.9 L291.5,282.8 L292,283 L292.5,283 L293,283 L293.4,282.8 L294.6,283.1 L295.8,283 L297,282.9 L298.2,283 L299.4,282.9 L300.6,282.8 L301.8,282.7" fill="none" stroke="#f5962a" stroke-width="1.25" stroke-linejoin="round"/>
<text x="50" y="355" font-size="11.5" fill="#111" font-weight="bold" text-anchor="middle" transform="rotate(-90 50 355)">DP (µcal/s)</text>
<text x="192.5" y="465" font-size="11.5" fill="#111" font-weight="bold" text-anchor="middle" >Time (Mins)</text>
<text x="364" y="267.4" font-size="15" fill="#111" font-weight="normal" text-anchor="start" >C</text>
<path d="M431.7,282.3 V427.6 H650" fill="none" stroke="#4a4a4a" stroke-width="1.1"/>
<path d="M425.7,282.3 H431.7" stroke="#4a4a4a" stroke-width="1.1"/>
<text x="422.7" y="285.9" font-size="10.3" fill="#111" font-weight="bold" text-anchor="end" >0.0</text>
<path d="M425.7,311.4 H431.7" stroke="#4a4a4a" stroke-width="1.1"/>
<text x="422.7" y="315" font-size="10.3" fill="#111" font-weight="bold" text-anchor="end" >-0.1</text>
<path d="M425.7,340.5 H431.7" stroke="#4a4a4a" stroke-width="1.1"/>
<text x="422.7" y="344.1" font-size="10.3" fill="#111" font-weight="bold" text-anchor="end" >-0.2</text>
<path d="M425.7,369.6 H431.7" stroke="#4a4a4a" stroke-width="1.1"/>
<text x="422.7" y="373.2" font-size="10.3" fill="#111" font-weight="bold" text-anchor="end" >-0.3</text>
<path d="M425.7,398.7 H431.7" stroke="#4a4a4a" stroke-width="1.1"/>
<text x="422.7" y="402.3" font-size="10.3" fill="#111" font-weight="bold" text-anchor="end" >-0.4</text>
<path d="M425.7,427.8 H431.7" stroke="#4a4a4a" stroke-width="1.1"/>
<text x="422.7" y="431.4" font-size="10.3" fill="#111" font-weight="bold" text-anchor="end" >-0.5</text>
<path d="M431.7,427.6 V433.2" stroke="#4a4a4a" stroke-width="1.1"/>
<text x="431.7" y="446.2" font-size="10.3" fill="#111" font-weight="bold" text-anchor="middle" >0</text>
<path d="M486.2,427.6 V433.2" stroke="#4a4a4a" stroke-width="1.1"/>
<text x="486.2" y="446.2" font-size="10.3" fill="#111" font-weight="bold" text-anchor="middle" >10</text>
<path d="M540.8,427.6 V433.2" stroke="#4a4a4a" stroke-width="1.1"/>
<text x="540.8" y="446.2" font-size="10.3" fill="#111" font-weight="bold" text-anchor="middle" >20</text>
<path d="M595.4,427.6 V433.2" stroke="#4a4a4a" stroke-width="1.1"/>
<text x="595.4" y="446.2" font-size="10.3" fill="#111" font-weight="bold" text-anchor="middle" >30</text>
<path d="M649.9,427.6 V433.2" stroke="#4a4a4a" stroke-width="1.1"/>
<text x="649.9" y="446.2" font-size="10.3" fill="#111" font-weight="bold" text-anchor="middle" >40</text>
<path d="M431.7,369.3 L432.9,369.1 L434.1,369.4 L435.3,369.8 L436.5,369.8 L437.7,369.9 L438.9,369.8 L440.1,369.4 L441.3,369.7 L442.5,369.5 L443.7,369.9 L444.9,369.6 L446.1,369.4 L447.3,369.7 L448.5,370.1 L449.7,369.3 L450.9,370 L452.1,369.1 L453.3,369.4 L453.5,369.3 L453.8,392.4 L454.2,396.4 L454.7,381.6 L455.2,375.1 L455.6,372 L456.1,370.5 L456.6,370.3 L457.1,369.7 L457.6,369.5 L458.1,369.9 L458.6,369.7 L459.1,369.7 L459.6,369.7 L460.1,369.9 L460.6,369.6 L461,369.8 L461.5,369.7 L462.7,370 L463.9,369.5 L465.1,369.8 L466.3,369.7 L467.5,369.4 L468.7,369.3 L469.9,369.7 L470.2,391.5 L470.5,395.4 L471,380.7 L471.5,374.9 L472,371.6 L472.5,370.3 L473,369.8 L473.5,370 L474,369.6 L474.5,369.4 L475,369.3 L475.4,369.3 L475.9,369.7 L476.4,369.7 L476.9,369.7 L477.4,369.7 L477.9,369.3 L479.1,369.7 L480.3,369.5 L481.5,369.9 L482.7,369.9 L483.9,370 L485.1,369.2 L486.2,370 L486.6,389.9 L486.9,393.5 L487.4,380.4 L487.9,374.5 L488.4,371.4 L488.9,370.3 L489.4,369.8 L489.9,369.5 L490.3,369.9 L490.8,369.8 L491.3,369.7 L491.8,369.8 L492.3,369.7 L492.8,369.5 L493.3,369.4 L493.8,369.4 L494.3,369.8 L495.5,369.3 L496.7,369.4 L497.9,369.5 L499.1,369.1 L500.3,369.4 L501.5,369.4 L502.6,369.8 L502.9,389.2 L503.3,392.7 L503.8,379.7 L504.3,374 L504.7,371.9 L505.2,370.5 L505.7,370.2 L506.2,369.8 L506.7,369.4 L507.2,369.6 L507.7,369.6 L508.2,369.8 L508.7,369.5 L509.2,369.7 L509.7,369.6 L510.1,369.4 L510.6,369.8 L511.8,369.2 L513,369.9 L514.2,369.3 L515.4,369.1 L516.6,369.3 L517.8,369.9 L519,370.1 L519.3,388.6 L519.6,392 L520.1,379.2 L520.6,374 L521.1,371.5 L521.6,370.6 L522.1,369.8 L522.6,369.8 L523.1,369.6 L523.6,369.8 L524.1,369.5 L524.5,369.9 L525,369.5 L525.5,369.4 L526,369.7 L526.5,369.6 L527,369.4 L528.2,369.7 L529.4,369.2 L530.6,369.9 L531.8,369.8 L533,369.9 L534.2,369.7 L535.3,369.5 L535.7,388.2 L536,391.5 L536.5,379.2 L537,373.8 L537.5,371.7 L538,370.2 L538.5,370.2 L538.9,369.5 L539.4,369.5 L539.9,369.5 L540.4,369.9 L540.9,369.6 L541.4,369.5 L541.9,369.8 L542.4,369.4 L542.9,369.6 L543.4,369.6 L544.6,369.9 L545.8,369.9 L547,369.7 L548.2,369.4 L549.4,369.4 L550.6,369.3 L551.7,369.9 L552,385.4 L552.4,388.2 L552.9,377.9 L553.3,373.4 L553.8,371 L554.3,370.3 L554.8,370.1 L555.3,369.8 L555.8,369.4 L556.3,369.6 L556.8,369.8 L557.3,369.4 L557.8,369.4 L558.3,369.5 L558.7,369.7 L559.2,369.8 L559.7,369.4 L560.9,369.3 L562.1,369.3 L563.3,369.4 L564.5,369.6 L565.7,369.3 L566.9,369.4 L568.1,369.3 L568.4,384.5 L568.7,387.1 L569.2,377.6 L569.7,373.1 L570.2,370.9 L570.7,370.5 L571.2,369.7 L571.7,369.7 L572.2,369.9 L572.7,369.8 L573.1,369.8 L573.6,369.6 L574.1,369.4 L574.6,369.7 L575.1,369.4 L575.6,369.4 L576.1,369.5 L577.3,369.1 L578.5,369.5 L579.7,369.9 L580.9,369.8 L582.1,369.6 L583.3,369.7 L584.4,369.6 L584.8,384.5 L585.1,387.1 L585.6,377.1 L586.1,373.1 L586.6,371 L587.1,370.4 L587.5,370.1 L588,369.7 L588.5,369.7 L589,369.8 L589.5,369.6 L590,369.4 L590.5,369.7 L591,369.8 L591.5,369.8 L592,369.7 L592.5,369.8 L593.7,369.8 L594.9,369.7 L596.1,369.6 L597.3,369.4 L598.5,369.7 L599.7,369.2 L600.8,369.5 L601.1,382.7 L601.5,385 L602,376.6 L602.4,372.7 L602.9,371 L603.4,370 L603.9,369.8 L604.4,369.7 L604.9,369.7 L605.4,369.6 L605.9,369.7 L606.4,369.9 L606.9,369.4 L607.4,369.7 L607.8,369.8 L608.3,369.5 L608.8,369.6 L610,370.1 L611.2,369.1 L612.4,369.6 L613.6,369.3 L614.8,369.9 L616,370 L617.2,369.6 L617.5,381.3 L617.8,383.4 L618.3,375.4 L618.8,372.3 L619.3,370.8 L619.8,370.3 L620.3,369.8 L620.8,369.8 L621.3,369.8 L621.8,369.6 L622.2,369.6 L622.7,369.9 L623.2,369.4 L623.7,369.7 L624.2,369.5 L624.7,369.8 L625.2,369.4 L626.4,370.1 L627.6,369.5 L628.8,369.2 L630,369.4 L631.2,369.5 L632.4,369.1 L633.5,369.5 L633.9,380.8 L634.2,382.8 L634.7,375.4 L635.2,372.3 L635.7,370.6 L636.2,370 L636.6,369.7 L637.1,369.8 L637.6,369.9 L638.1,369.6 L638.6,369.4 L639.1,369.8 L639.6,369.5 L640.1,369.4 L640.6,369.4 L641.1,369.8 L641.6,369.8 L642.8,369.7 L644,369.6 L645.2,369.7 L646.4,369.3 L647.6,370.1 L648.8,369.5 L649.9,369.7" fill="none" stroke="#5cb848" stroke-width="1.25" stroke-linejoin="round"/>
<path d="M431.7,340.6 L432.9,340.6 L434.1,340.3 L435.3,340.1 L436.5,340.3 L437.7,339.9 L438.9,340.6 L440.1,340.2 L441.3,340.7 L442.5,340.1 L443.7,340.2 L444.9,340.1 L446.1,340.2 L447.3,340 L448.5,339.8 L449.7,340.5 L450.9,340.1 L452.1,340 L453.3,340.1 L453.5,340.3 L453.8,361.8 L454.2,365.6 L454.7,351.4 L455.2,345.3 L455.6,342.6 L456.1,341.2 L456.6,341 L457.1,340.7 L457.6,340.1 L458.1,340.5 L458.6,340.6 L459.1,340.5 L459.6,340.1 L460.1,340.5 L460.6,340.4 L461,340 L461.5,340 L462.7,340.8 L463.9,340.5 L465.1,340.1 L466.3,339.9 L467.5,339.9 L468.7,340 L469.9,340.6 L470.2,361.8 L470.5,365.6 L471,351.4 L471.5,345 L472,342.7 L472.5,341.4 L473,340.5 L473.5,340.7 L474,340.4 L474.5,340.5 L475,340.4 L475.4,340.5 L475.9,340.5 L476.4,340.5 L476.9,340.1 L477.4,340.4 L477.9,340.3 L479.1,340.5 L480.3,340.2 L481.5,340.7 L482.7,340.4 L483.9,340.1 L485.1,340 L486.2,339.9 L486.6,359.8 L486.9,363.2 L487.4,350.4 L487.9,344.5 L488.4,342.2 L488.9,341 L489.4,340.7 L489.9,340.5 L490.3,340.4 L490.8,340.6 L491.3,340 L491.8,340.5 L492.3,340.3 L492.8,340.3 L493.3,340.4 L493.8,340.5 L494.3,340.2 L495.5,340.2 L496.7,340.8 L497.9,339.9 L499.1,340.4 L500.3,340.4 L501.5,339.8 L502.6,340.4 L502.9,358.1 L503.3,361.2 L503.8,349.6 L504.3,344.6 L504.7,342 L505.2,341.4 L505.7,340.7 L506.2,340.4 L506.7,340.6 L507.2,340.1 L507.7,340.4 L508.2,340.4 L508.7,340.2 L509.2,340.5 L509.7,340.2 L510.1,340.3 L510.6,340.3 L511.8,340.6 L513,340 L514.2,340.2 L515.4,340.2 L516.6,340.4 L517.8,340.6 L519,340.1 L519.3,357 L519.6,359.9 L520.1,349.1 L520.6,344.1 L521.1,342 L521.6,340.9 L522.1,340.6 L522.6,340.7 L523.1,340.5 L523.6,340.5 L524.1,340.2 L524.5,340.2 L525,340.2 L525.5,340.4 L526,340.4 L526.5,340.5 L527,340 L528.2,340.5 L529.4,340.7 L530.6,340.3 L531.8,339.8 L533,340.1 L534.2,339.8 L535.3,340 L535.7,356.7 L536,359.6 L536.5,349.1 L537,344.1 L537.5,342.1 L538,341.2 L538.5,340.9 L538.9,340.5 L539.4,340.4 L539.9,340.4 L540.4,340.4 L540.9,340.4 L541.4,340.4 L541.9,340.1 L542.4,340.4 L542.9,340.3 L543.4,340.5 L544.6,339.9 L545.8,340 L547,339.8 L548.2,340.6 L549.4,340.7 L550.6,340.5 L551.7,340.2 L552,355.8 L552.4,358.5 L552.9,348.5 L553.3,344 L553.8,341.9 L554.3,340.8 L554.8,340.5 L555.3,340.4 L555.8,340.3 L556.3,340.3 L556.8,340.4 L557.3,340.6 L557.8,340 L558.3,340.3 L558.7,340 L559.2,340.1 L559.7,340.5 L560.9,340.4 L562.1,340.7 L563.3,340.2 L564.5,339.8 L565.7,340.2 L566.9,340.4 L568.1,340.7 L568.4,355.3 L568.7,358 L569.2,348.4 L569.7,343.7 L570.2,341.8 L570.7,340.7 L571.2,340.7 L571.7,340.3 L572.2,340.1 L572.7,340 L573.1,340 L573.6,340.4 L574.1,340.1 L574.6,340.6 L575.1,340.1 L575.6,340.5 L576.1,340.1 L577.3,339.8 L578.5,340.5 L579.7,340 L580.9,340.5 L582.1,340 L583.3,339.9 L584.4,340.6 L584.8,354.4 L585.1,356.9 L585.6,347.8 L586.1,343.7 L586.6,341.9 L587.1,340.7 L587.5,340.7 L588,340.5 L588.5,340.3 L589,340.6 L589.5,340.2 L590,340.6 L590.5,340.4 L591,340 L591.5,340 L592,340.4 L592.5,340.5 L593.7,339.9 L594.9,340.1 L596.1,340.5 L597.3,340 L598.5,340.7 L599.7,340.3 L600.8,339.9 L601.1,352.6 L601.5,354.8 L602,346.6 L602.4,343.2 L602.9,341.5 L603.4,341 L603.9,340.3 L604.4,340.6 L604.9,340.3 L605.4,340.4 L605.9,340.4 L606.4,340.3 L606.9,340.2 L607.4,340.5 L607.8,340.6 L608.3,340.5 L608.8,340.3 L610,340.1 L611.2,339.9 L612.4,340.8 L613.6,340.5 L614.8,340.6 L616,340.1 L617.2,340.4 L617.5,352 L617.8,354.1 L618.3,346.7 L618.8,343.2 L619.3,341.5 L619.8,340.7 L620.3,340.5 L620.8,340.6 L621.3,340.3 L621.8,340.4 L622.2,340.4 L622.7,340.5 L623.2,340.5 L623.7,340.2 L624.2,340 L624.7,340.2 L625.2,340.3 L626.4,340.4 L627.6,340.6 L628.8,340.7 L630,339.8 L631.2,340.6 L632.4,340.6 L633.5,340.7 L633.9,350.8 L634.2,352.6 L634.7,345.8 L635.2,342.6 L635.7,341.6 L636.2,341 L636.6,340.6 L637.1,340.6 L637.6,340.2 L638.1,340.1 L638.6,340.3 L639.1,340.5 L639.6,340.1 L640.1,340.5 L640.6,340.6 L641.1,340.1 L641.6,340.4 L642.8,340.5 L644,340.3 L645.2,340 L646.4,340.1 L647.6,340.6 L648.8,340.6 L649.9,340.3" fill="none" stroke="#c050b0" stroke-width="1.25" stroke-linejoin="round"/>
<path d="M431.7,284.4 L432.9,285.1 L434.1,285.1 L435.3,284.5 L436.5,284.9 L437.7,285.2 L438.9,285.2 L440.1,284.8 L441.3,284.8 L442.5,284.9 L443.7,284.5 L444.9,284.5 L446.1,284.5 L447.3,285 L448.5,284.7 L449.7,284.9 L450.9,284.7 L452.1,284.8 L453.3,284.4 L453.5,284.3 L453.8,319.7 L454.2,325.8 L454.7,303.2 L455.2,292.7 L455.6,288.1 L456.1,286.4 L456.6,285.7 L457.1,284.9 L457.6,285 L458.1,284.8 L458.6,284.8 L459.1,284.5 L459.6,284.5 L460.1,285.1 L460.6,285 L461,284.8 L461.5,284.8 L462.7,284.6 L463.9,285.1 L465.1,284.7 L466.3,285.2 L467.5,285.1 L468.7,285.1 L469.9,285.3 L470.2,316.9 L470.5,322.6 L471,301.3 L471.5,291.9 L472,287.9 L472.5,286 L473,285.2 L473.5,284.8 L474,285 L474.5,285.1 L475,284.8 L475.4,285.1 L475.9,285.1 L476.4,284.5 L476.9,284.9 L477.4,284.7 L477.9,284.6 L479.1,285.3 L480.3,284.6 L481.5,284.9 L482.7,284.9 L483.9,285.3 L485.1,285 L486.2,284.7 L486.6,314 L486.9,319.1 L487.4,299.9 L487.9,291.3 L488.4,288 L488.9,286.4 L489.4,285.2 L489.9,284.8 L490.3,284.8 L490.8,284.8 L491.3,285.1 L491.8,285.1 L492.3,285 L492.8,284.5 L493.3,285 L493.8,284.9 L494.3,284.9 L495.5,285.3 L496.7,284.4 L497.9,284.4 L499.1,285.1 L500.3,285.2 L501.5,285 L502.6,284.6 L502.9,309.7 L503.3,314.1 L503.8,297.8 L504.3,290.7 L504.7,287.1 L505.2,285.8 L505.7,285.1 L506.2,284.8 L506.7,284.9 L507.2,284.6 L507.7,284.7 L508.2,284.6 L508.7,284.9 L509.2,284.5 L509.7,284.9 L510.1,284.6 L510.6,284.5 L511.8,285.2 L513,284.5 L514.2,285.2 L515.4,285.2 L516.6,285.2 L517.8,284.4 L519,284.7 L519.3,306.9 L519.6,310.8 L520.1,296 L520.6,290.1 L521.1,287.2 L521.6,285.9 L522.1,285.2 L522.6,284.9 L523.1,285.1 L523.6,284.8 L524.1,284.9 L524.5,284.6 L525,284.6 L525.5,284.5 L526,284.9 L526.5,284.8 L527,284.6 L528.2,285.2 L529.4,284.6 L530.6,284.7 L531.8,284.5 L533,284.6 L534.2,285.1 L535.3,284.6 L535.7,306.6 L536,310.4 L536.5,295.9 L537,289.8 L537.5,286.9 L538,286 L538.5,285 L538.9,285.3 L539.4,284.6 L539.9,285.1 L540.4,284.9 L540.9,284.6 L541.4,284.8 L541.9,284.7 L542.4,284.7 L542.9,284.6 L543.4,284.7 L544.6,285.3 L545.8,285.3 L547,285.2 L548.2,284.4 L549.4,284.6 L550.6,285.2 L551.7,284.4 L552,305.6 L552.4,309.3 L552.9,295.7 L553.3,289.4 L553.8,287.2 L554.3,285.4 L554.8,285.4 L555.3,284.9 L555.8,284.7 L556.3,284.5 L556.8,285 L557.3,284.8 L557.8,284.6 L558.3,284.8 L558.7,285 L559.2,284.6 L559.7,284.8 L560.9,284.4 L562.1,284.5 L563.3,285.1 L564.5,285 L565.7,284.5 L566.9,284.4 L568.1,284.4 L568.4,304.7 L568.7,308.2 L569.2,295.2 L569.7,289.4 L570.2,286.7 L570.7,285.5 L571.2,285.3 L571.7,285.1 L572.2,285.1 L572.7,284.9 L573.1,284.6 L573.6,284.5 L574.1,284.9 L574.6,284.7 L575.1,284.9 L575.6,284.5 L576.1,285 L577.3,284.6 L578.5,285.1 L579.7,285.2 L580.9,284.8 L582.1,284.3 L583.3,285.2 L584.4,284.8 L584.8,301.9 L585.1,304.9 L585.6,293.9 L586.1,288.6 L586.6,286.3 L587.1,285.8 L587.5,285.1 L588,284.7 L588.5,284.8 L589,284.9 L589.5,284.5 L590,284.8 L590.5,284.8 L591,284.8 L591.5,284.6 L592,284.9 L592.5,285 L593.7,285.2 L594.9,284.6 L596.1,285 L597.3,284.7 L598.5,285.1 L599.7,284.4 L600.8,285.2 L601.1,300.4 L601.5,303.2 L602,293.2 L602.4,288.4 L602.9,286.4 L603.4,285.5 L603.9,285.1 L604.4,284.6 L604.9,285.1 L605.4,284.7 L605.9,284.6 L606.4,284.6 L606.9,284.7 L607.4,285 L607.8,284.5 L608.3,284.6 L608.8,284.9 L610,284.5 L611.2,284.3 L612.4,284.9 L613.6,284.9 L614.8,284.8 L616,285 L617.2,284.4 L617.5,299.1 L617.8,301.6 L618.3,292.4 L618.8,288.2 L619.3,286 L619.8,285.2 L620.3,285.1 L620.8,284.9 L621.3,284.7 L621.8,284.6 L622.2,284.8 L622.7,284.6 L623.2,284.9 L623.7,285 L624.2,284.6 L624.7,284.8 L625.2,284.9 L626.4,284.5 L627.6,285.1 L628.8,285.2 L630,284.7 L631.2,284.7 L632.4,285.1 L633.5,284.8 L633.9,297.8 L634.2,300.1 L634.7,291.5 L635.2,288 L635.7,286.3 L636.2,285.3 L636.6,284.9 L637.1,284.8 L637.6,284.8 L638.1,285.1 L638.6,285 L639.1,285.1 L639.6,285 L640.1,285 L640.6,284.5 L641.1,284.8 L641.6,285.1 L642.8,285.2 L644,284.5 L645.2,284.7 L646.4,284.9 L647.6,284.7 L648.8,284.8 L649.9,284.4" fill="none" stroke="#5cc6dc" stroke-width="1.25" stroke-linejoin="round"/>
<path d="M438.5,340 L439.5,333 L440.5,345 L441.5,339 M446,341 L447,336 L448,342" fill="none" stroke="#c050b0" stroke-width="1"/>
<path d="M596.5,369.5 L597.5,364 L598.5,371" fill="none" stroke="#5cb848" stroke-width="1"/>
<text x="398.5" y="355" font-size="11.5" fill="#111" font-weight="bold" text-anchor="middle" transform="rotate(-90 398.5 355)">DP (µcal/s)</text>
<text x="540.8" y="465" font-size="11.5" fill="#111" font-weight="bold" text-anchor="middle" >Time (Mins)</text>
<path d="M80.9,484.9 V630.8 H303.5" fill="none" stroke="#4a4a4a" stroke-width="1.1"/>
<path d="M74.9,484.9 H80.9" stroke="#4a4a4a" stroke-width="1.1"/>
<text x="71.9" y="488.5" font-size="10.3" fill="#111" font-weight="bold" text-anchor="end" >0</text>
<path d="M74.9,514.1 H80.9" stroke="#4a4a4a" stroke-width="1.1"/>
<text x="71.9" y="517.7" font-size="10.3" fill="#111" font-weight="bold" text-anchor="end" >-2</text>
<path d="M74.9,543.3 H80.9" stroke="#4a4a4a" stroke-width="1.1"/>
<text x="71.9" y="546.9" font-size="10.3" fill="#111" font-weight="bold" text-anchor="end" >-4</text>
<path d="M74.9,572.5 H80.9" stroke="#4a4a4a" stroke-width="1.1"/>
<text x="71.9" y="576.1" font-size="10.3" fill="#111" font-weight="bold" text-anchor="end" >-6</text>
<path d="M74.9,601.7 H80.9" stroke="#4a4a4a" stroke-width="1.1"/>
<text x="71.9" y="605.3" font-size="10.3" fill="#111" font-weight="bold" text-anchor="end" >-8</text>
<path d="M74.9,630.9 H80.9" stroke="#4a4a4a" stroke-width="1.1"/>
<text x="71.9" y="634.5" font-size="10.3" fill="#111" font-weight="bold" text-anchor="end" >-10</text>
<path d="M80.9,630.8 V636.4" stroke="#4a4a4a" stroke-width="1.1"/>
<text x="80.9" y="649.4" font-size="10.3" fill="#111" font-weight="bold" text-anchor="middle" >0</text>
<path d="M165.5,630.8 V636.4" stroke="#4a4a4a" stroke-width="1.1"/>
<text x="165.5" y="649.4" font-size="10.3" fill="#111" font-weight="bold" text-anchor="middle" >1</text>
<path d="M250.1,630.8 V636.4" stroke="#4a4a4a" stroke-width="1.1"/>
<text x="250.1" y="649.4" font-size="10.3" fill="#111" font-weight="bold" text-anchor="middle" >2</text>
<path d="M80.9,522.7C83.9,522.2 93.2,521.2 99,520C104.8,518.8 110,517.2 115.7,515.7C121.4,514.2 127.5,512.8 133.2,511.3C138.9,509.8 144.1,508.2 149.8,506.9C155.5,505.6 161.5,504.4 167.3,503.4C173.2,502.3 179,501.5 184.9,500.6C190.8,499.8 196.8,499 203,498.3C209.2,497.6 215.8,497 222,496.4C228.2,495.8 233.8,495.3 240,494.9C246.2,494.4 252.7,494 259,493.7C265.3,493.4 270.7,493.1 278,492.8C285.3,492.5 298.8,492.1 303,492" fill="none" stroke="#8e3aa0" stroke-width="1.2"/>
<path d="M80.9,539.5C83.9,539 93.2,537.9 99,536.7C104.8,535.5 110,534 115.7,532.3C121.4,530.5 127.5,528.4 133.2,526.2C138.9,524 144.1,521.7 149.8,519.2C155.5,516.7 161.5,513.8 167.3,511.3C173.2,508.9 179,506.6 184.9,504.5C190.8,502.4 196.8,500.5 203,499C209.2,497.5 215.8,496.3 222,495.3C228.2,494.3 233.8,493.5 240,492.8C246.2,492.1 252.7,491.6 259,491.1C265.3,490.6 270.7,490.4 278,490C285.3,489.6 298.8,489.2 303,489" fill="none" stroke="#f5962a" stroke-width="1.2"/>
<path d="M80.9,578C83.9,577 93.2,574.7 99,571.7C104.8,568.8 110,564.1 115.7,560.3C121.4,556.5 127.5,552.5 133.2,549C138.9,545.5 144.1,542.4 149.8,539.3C155.5,536.2 161.5,533.2 167.3,530.6C173.2,528 179,525.9 184.9,523.9C190.8,521.9 196.8,520.2 203,518.6C209.2,517 215.8,515.6 222,514.4C228.2,513.2 233.8,512.2 240,511.2C246.2,510.2 252.7,509.4 259,508.6C265.3,507.8 270.7,507.2 278,506.5C285.3,505.8 298.8,504.6 303,504.2" fill="none" stroke="#f3e21c" stroke-width="1.2"/>
<path d="M80.9,604.3C83.9,603.1 93.2,600.3 99,597.1C104.8,593.9 110,589.4 115.7,584.9C121.4,580.4 127.5,574.8 133.2,570C138.9,565.2 144.1,560.5 149.8,556C155.5,551.5 161.5,547 167.3,542.8C173.2,538.6 179,534.4 184.9,530.8C190.8,527.2 196.8,523.8 203,521C209.2,518.2 215.8,516.1 222,514.2C228.2,512.3 233.8,510.9 240,509.6C246.2,508.3 252.7,507.2 259,506.2C265.3,505.2 270.7,504.3 278,503.4C285.3,502.5 298.8,501.1 303,500.6" fill="none" stroke="#ea4238" stroke-width="1.2"/>
<path d="M95.8,534.5 h6.4 l-3.2,5.4z" fill="#f5962a"/>
<path d="M112.4,531 h6.4 l-3.2,5.4z" fill="#f5962a"/>
<path d="M129.9,523 h6.4 l-3.2,5.4z" fill="#f5962a"/>
<path d="M146.8,514.2 h6.4 l-3.2,5.4z" fill="#f5962a"/>
<path d="M164.4,506.5 h6.4 l-3.2,5.4z" fill="#f5962a"/>
<path d="M182.3,501.6 h6.4 l-3.2,5.4z" fill="#f5962a"/>
<path d="M200.1,494.8 h6.4 l-3.2,5.4z" fill="#f5962a"/>
<path d="M218.7,493 h6.4 l-3.2,5.4z" fill="#f5962a"/>
<path d="M237.3,490.1 h6.4 l-3.2,5.4z" fill="#f5962a"/>
<path d="M256.1,487.7 h6.4 l-3.2,5.4z" fill="#f5962a"/>
<path d="M274.8,486.6 h6.4 l-3.2,5.4z" fill="#f5962a"/>
<path d="M294.5,486.3 h6.4 l-3.2,5.4z" fill="#f5962a"/>
<rect x="96" y="520.2" width="5.9" height="5.9" fill="#8e3aa0"/>
<rect x="112.6" y="513.9" width="5.9" height="5.9" fill="#8e3aa0"/>
<rect x="130.2" y="506.9" width="5.9" height="5.9" fill="#8e3aa0"/>
<rect x="147.1" y="503.1" width="5.9" height="5.9" fill="#8e3aa0"/>
<rect x="164.7" y="499.1" width="5.9" height="5.9" fill="#8e3aa0"/>
<rect x="182.6" y="496.9" width="5.9" height="5.9" fill="#8e3aa0"/>
<rect x="200.4" y="495.4" width="5.9" height="5.9" fill="#8e3aa0"/>
<rect x="219" y="493.4" width="5.9" height="5.9" fill="#8e3aa0"/>
<rect x="237.6" y="491.7" width="5.9" height="5.9" fill="#8e3aa0"/>
<rect x="256.4" y="490.7" width="5.9" height="5.9" fill="#8e3aa0"/>
<rect x="275.1" y="489.9" width="5.9" height="5.9" fill="#8e3aa0"/>
<rect x="294.8" y="489.4" width="5.9" height="5.9" fill="#8e3aa0"/>
<path d="M96.1,580.4 l2.9,-5.1 l2.9,5.1z" fill="none" stroke="#f3e21c" stroke-width="1.8" stroke-linejoin="round"/>
<path d="M112.7,565.5 l2.9,-5.1 l2.9,5.1z" fill="none" stroke="#f3e21c" stroke-width="1.8" stroke-linejoin="round"/>
<path d="M130.2,552.3 l2.9,-5.1 l2.9,5.1z" fill="none" stroke="#f3e21c" stroke-width="1.8" stroke-linejoin="round"/>
<path d="M147.1,539.2 l2.9,-5.1 l2.9,5.1z" fill="none" stroke="#f3e21c" stroke-width="1.8" stroke-linejoin="round"/>
<path d="M164.7,534.8 l2.9,-5.1 l2.9,5.1z" fill="none" stroke="#f3e21c" stroke-width="1.8" stroke-linejoin="round"/>
<path d="M182.6,525.2 l2.9,-5.1 l2.9,5.1z" fill="none" stroke="#f3e21c" stroke-width="1.8" stroke-linejoin="round"/>
<path d="M200.4,522.5 l2.9,-5.1 l2.9,5.1z" fill="none" stroke="#f3e21c" stroke-width="1.8" stroke-linejoin="round"/>
<path d="M219,517.4 l2.9,-5.1 l2.9,5.1z" fill="none" stroke="#f3e21c" stroke-width="1.8" stroke-linejoin="round"/>
<path d="M237.6,515.2 l2.9,-5.1 l2.9,5.1z" fill="none" stroke="#f3e21c" stroke-width="1.8" stroke-linejoin="round"/>
<path d="M256.4,510.9 l2.9,-5.1 l2.9,5.1z" fill="none" stroke="#f3e21c" stroke-width="1.8" stroke-linejoin="round"/>
<path d="M275.1,510.2 l2.9,-5.1 l2.9,5.1z" fill="none" stroke="#f3e21c" stroke-width="1.8" stroke-linejoin="round"/>
<path d="M294.8,507.6 l2.9,-5.1 l2.9,5.1z" fill="none" stroke="#f3e21c" stroke-width="1.8" stroke-linejoin="round"/>
<circle cx="99" cy="599.8" r="2.8" fill="none" stroke="#ea4238" stroke-width="1.8"/>
<circle cx="115.6" cy="591.4" r="2.8" fill="none" stroke="#ea4238" stroke-width="1.8"/>
<circle cx="133.1" cy="571.7" r="2.8" fill="none" stroke="#ea4238" stroke-width="1.8"/>
<circle cx="150" cy="552.5" r="2.8" fill="none" stroke="#ea4238" stroke-width="1.8"/>
<circle cx="167.6" cy="541.1" r="2.8" fill="none" stroke="#ea4238" stroke-width="1.8"/>
<circle cx="185.5" cy="528.8" r="2.8" fill="none" stroke="#ea4238" stroke-width="1.8"/>
<circle cx="203.3" cy="520" r="2.8" fill="none" stroke="#ea4238" stroke-width="1.8"/>
<circle cx="221.9" cy="514.4" r="2.8" fill="none" stroke="#ea4238" stroke-width="1.8"/>
<circle cx="240.5" cy="510.7" r="2.8" fill="none" stroke="#ea4238" stroke-width="1.8"/>
<circle cx="259.3" cy="506.8" r="2.8" fill="none" stroke="#ea4238" stroke-width="1.8"/>
<circle cx="278" cy="504.2" r="2.8" fill="none" stroke="#ea4238" stroke-width="1.8"/>
<circle cx="297.7" cy="501.3" r="2.8" fill="none" stroke="#ea4238" stroke-width="1.8"/>
<rect x="180.6" y="604.2" width="119.8" height="10.2" fill="#f3e21c"/>
<text x="300.3" y="586.9" font-size="10.2" fill="#8e3aa0" text-anchor="end" textLength="119.3" lengthAdjust="spacingAndGlyphs">SNX17 FL + LRP1 13.6±1.2uM</text>
<text x="300.3" y="599.7" font-size="10.2" fill="#f5962a" text-anchor="end" textLength="131.6" lengthAdjust="spacingAndGlyphs">SNX17 ΔC + LRP1&#160;&#160;&#160;3.64±0.17uM</text>
<text x="300.3" y="612.8" font-size="10.2" fill="#111" text-anchor="end" textLength="119.7" lengthAdjust="spacingAndGlyphs">SNX17 FL + APP 14.8±0.47uM</text>
<text x="300.3" y="624.8" font-size="10.2" fill="#ea4238" text-anchor="end" textLength="120.7" lengthAdjust="spacingAndGlyphs">SNX17 ΔC + APP 4.74±0.60uM</text>
<text x="50" y="558" font-size="11.5" fill="#111" font-weight="bold" text-anchor="middle" transform="rotate(-90 50 558)">ΔH (Kcal/mol)</text>
<text x="191" y="666.5" font-size="11.5" fill="#111" font-weight="bold" text-anchor="middle" >Molar Ratio</text>
<path d="M431.5,484.7 V630.6 H650.5" fill="none" stroke="#4a4a4a" stroke-width="1.1"/>
<path d="M425.5,484.7 H431.5" stroke="#4a4a4a" stroke-width="1.1"/>
<text x="422.5" y="488.3" font-size="10.3" fill="#111" font-weight="bold" text-anchor="end" >0.0</text>
<path d="M425.5,521.1 H431.5" stroke="#4a4a4a" stroke-width="1.1"/>
<text x="422.5" y="524.8" font-size="10.3" fill="#111" font-weight="bold" text-anchor="end" >-0.1</text>
<path d="M425.5,557.6 H431.5" stroke="#4a4a4a" stroke-width="1.1"/>
<text x="422.5" y="561.2" font-size="10.3" fill="#111" font-weight="bold" text-anchor="end" >-0.2</text>
<path d="M425.5,594 H431.5" stroke="#4a4a4a" stroke-width="1.1"/>
<text x="422.5" y="597.6" font-size="10.3" fill="#111" font-weight="bold" text-anchor="end" >-0.3</text>
<path d="M425.5,630.5 H431.5" stroke="#4a4a4a" stroke-width="1.1"/>
<text x="422.5" y="634.1" font-size="10.3" fill="#111" font-weight="bold" text-anchor="end" >-0.4</text>
<path d="M431.5,630.6 V636.2" stroke="#4a4a4a" stroke-width="1.1"/>
<text x="431.5" y="649.2" font-size="10.3" fill="#111" font-weight="bold" text-anchor="middle" >0</text>
<path d="M484.8,630.6 V636.2" stroke="#4a4a4a" stroke-width="1.1"/>
<text x="484.8" y="649.2" font-size="10.3" fill="#111" font-weight="bold" text-anchor="middle" >5</text>
<path d="M538.1,630.6 V636.2" stroke="#4a4a4a" stroke-width="1.1"/>
<text x="538.1" y="649.2" font-size="10.3" fill="#111" font-weight="bold" text-anchor="middle" >10</text>
<path d="M591.5,630.6 V636.2" stroke="#4a4a4a" stroke-width="1.1"/>
<text x="591.5" y="649.2" font-size="10.3" fill="#111" font-weight="bold" text-anchor="middle" >15</text>
<path d="M644.8,630.6 V636.2" stroke="#4a4a4a" stroke-width="1.1"/>
<text x="644.8" y="649.2" font-size="10.3" fill="#111" font-weight="bold" text-anchor="middle" >20</text>
<path d="M431.5,541.8C434.6,541 444,538.6 450,536.8C456,535 462.1,532.5 467.6,530.9C473.1,529.2 477.4,528.2 482.9,526.9C488.4,525.6 494.5,524.4 500.4,523.2C506.2,522 511.8,520.9 518,519.9C524.2,518.9 531.1,518.3 537.4,517.4C543.7,516.5 549.8,515.5 556,514.4C562.2,513.3 568.5,512 574.7,510.9C580.9,509.8 587.2,508.7 593.4,507.8C599.6,506.9 605.9,506.1 612.1,505.5C618.3,504.9 624.6,504.4 630.8,503.9C637,503.4 646.4,502.9 649.5,502.7" fill="none" stroke="#c050b0" stroke-width="1.2"/>
<path d="M431.5,580.6C434.6,578.4 444,572.3 450,567.4C456,562.5 462.1,556.1 467.6,551C473.1,545.9 477.4,540.8 482.9,536.8C488.4,532.8 494.5,529.9 500.4,526.9C506.2,523.9 511.8,521.2 518,518.5C524.2,515.8 531.1,512.9 537.4,510.9C543.7,508.8 549.8,507.4 556,506.2C562.2,505 568.5,504.3 574.7,503.5C580.9,502.7 587.2,502 593.4,501.3C599.6,500.6 605.9,499.9 612.1,499.3C618.3,498.7 624.6,498.1 630.8,497.6C637,497.1 646.4,496.6 649.5,496.4" fill="none" stroke="#5cc6dc" stroke-width="1.2"/>
<path d="M431.5,597.8C434.6,597.3 444,595.9 450,594.8C456,593.7 462.1,592.4 467.6,591.1C473.1,589.8 477.4,588.5 482.9,587.1C488.4,585.7 494.5,584.1 500.4,582.8C506.2,581.4 511.8,580.3 518,579C524.2,577.7 531.1,576.5 537.4,575.1C543.7,573.7 549.8,572.1 556,570.6C562.2,569.1 568.5,567.8 574.7,566.4C580.9,565 587.2,563.7 593.4,562.4C599.6,561.1 605.9,560 612.1,558.8C618.3,557.6 624.6,556.5 630.8,555.3C637,554.1 646.4,552.2 649.5,551.6" fill="none" stroke="#5cb848" stroke-width="1.2"/>
<path d="M446.5,531.9 h6.2 l-3.1,5.4z" fill="#c050b0"/>
<path d="M463.6,542.8 h6.2 l-3.1,5.4z" fill="#c050b0"/>
<path d="M480.7,513.7 h6.2 l-3.1,5.4z" fill="#c050b0"/>
<path d="M498,515.5 h6.2 l-3.1,5.4z" fill="#c050b0"/>
<path d="M515.6,516.5 h6.2 l-3.1,5.4z" fill="#c050b0"/>
<path d="M533.6,508.9 h6.2 l-3.1,5.4z" fill="#c050b0"/>
<path d="M551.8,523.3 h6.2 l-3.1,5.4z" fill="#c050b0"/>
<path d="M570,511.2 h6.2 l-3.1,5.4z" fill="#c050b0"/>
<path d="M588.7,501.2 h6.2 l-3.1,5.4z" fill="#c050b0"/>
<path d="M607.9,510.5 h6.2 l-3.1,5.4z" fill="#c050b0"/>
<path d="M626.8,500.3 h6.2 l-3.1,5.4z" fill="#c050b0"/>
<path d="M646.4,500 h6.2 l-3.1,5.4z" fill="#c050b0"/>
<rect x="446.6" y="560.5" width="6" height="6" fill="#5cc6dc"/>
<rect x="463.7" y="549.8" width="6" height="6" fill="#5cc6dc"/>
<rect x="480.8" y="536" width="6" height="6" fill="#5cc6dc"/>
<rect x="498.1" y="526.1" width="6" height="6" fill="#5cc6dc"/>
<rect x="515.7" y="511.6" width="6" height="6" fill="#5cc6dc"/>
<rect x="533.7" y="503.9" width="6" height="6" fill="#5cc6dc"/>
<rect x="551.9" y="500.2" width="6" height="6" fill="#5cc6dc"/>
<rect x="570.1" y="498.8" width="6" height="6" fill="#5cc6dc"/>
<rect x="588.8" y="498.8" width="6" height="6" fill="#5cc6dc"/>
<rect x="608" y="496.9" width="6" height="6" fill="#5cc6dc"/>
<rect x="626.9" y="496.9" width="6" height="6" fill="#5cc6dc"/>
<rect x="646.5" y="495.5" width="6" height="6" fill="#5cc6dc"/>
<circle cx="449.6" cy="592" r="3.1" fill="#5cb848"/>
<circle cx="466.7" cy="593.3" r="3.1" fill="#5cb848"/>
<circle cx="483.8" cy="587.1" r="3.1" fill="#5cb848"/>
<circle cx="501.1" cy="582.3" r="3.1" fill="#5cb848"/>
<circle cx="518.7" cy="578.6" r="3.1" fill="#5cb848"/>
<circle cx="536.7" cy="571.6" r="3.1" fill="#5cb848"/>
<circle cx="554.9" cy="567.6" r="3.1" fill="#5cb848"/>
<circle cx="573.1" cy="568.1" r="3.1" fill="#5cb848"/>
<circle cx="591.8" cy="563.9" r="3.1" fill="#5cb848"/>
<circle cx="611" cy="563" r="3.1" fill="#5cb848"/>
<circle cx="629.9" cy="557.6" r="3.1" fill="#5cb848"/>
<circle cx="649.5" cy="550.1" r="3.1" fill="#5cb848"/>
<text x="647.2" y="598" font-size="10.2" fill="#5cc6dc" text-anchor="end" textLength="155.2" lengthAdjust="spacingAndGlyphs">SNX17 ΔC + SNX17 peptide 116±21.4uM</text>
<text x="646.7" y="611.8" font-size="10.2" fill="#5cb848" text-anchor="end" textLength="119.3" lengthAdjust="spacingAndGlyphs">SNX17 FL + SNX17 peptide NB</text>
<text x="646.7" y="625.3" font-size="10.2" fill="#c050b0" text-anchor="end" textLength="160.7" lengthAdjust="spacingAndGlyphs">SNX17 ΔC with LRP1 + SNX17 peptide NB</text>
<text x="397.5" y="557.6" font-size="11.5" fill="#111" font-weight="bold" text-anchor="middle" transform="rotate(-90 397.5 557.6)">ΔH (Kcal/mol)</text>
<text x="541.5" y="667" font-size="11.5" fill="#111" font-weight="bold" text-anchor="middle" >Molar Ratio</text>
<text x="-0.3" y="713.4" font-size="15" fill="#111" font-weight="normal" text-anchor="start" >D</text>
<text x="190.1" y="708.5" font-size="9.4" fill="#222" font-weight="normal" text-anchor="middle" >Bound to beads</text>
<path d="M117.9,713.1 H266.9" stroke="#555" stroke-width="1"/>
<text x="114.3" y="725.6" font-size="9.3" fill="#222" font-weight="normal" text-anchor="end" >SNX17</text>
<text x="114.3" y="738.3" font-size="9.3" fill="#222" font-weight="normal" text-anchor="end" >Retriever</text>
<text x="114.3" y="752" font-size="9.3" fill="#222" font-weight="normal" text-anchor="end" >LRP1 (ØxNPTY) [µM]</text>
<text x="114.3" y="764.9" font-size="9.3" fill="#222" font-weight="normal" text-anchor="end" >LRP1 (ØxNPTA) [µM]</text>
<circle cx="123.1" cy="722.1" r="4.7" fill="#fff" stroke="#444" stroke-width="0.9"/>
<path d="M120.2,719.2 L126,725 M120.2,725 L126,719.2" stroke="#444" stroke-width="0.81"/>
<circle cx="123.1" cy="734.9" r="4.7" fill="#fff" stroke="#444" stroke-width="0.9"/>
<path d="M120.2,732 L126,737.8 M120.2,737.8 L126,732" stroke="#444" stroke-width="0.81"/>
<text x="123.1" y="750" font-size="7.2" fill="#333" font-weight="normal" text-anchor="middle" >0</text>
<text x="123.1" y="762.9" font-size="7.2" fill="#333" font-weight="normal" text-anchor="middle" >0</text>
<circle cx="135.8" cy="722.1" r="4.7" fill="#8cc2bf" stroke="#555" stroke-width="0.8"/>
<circle cx="135.8" cy="734.9" r="4.7" fill="#fff" stroke="#444" stroke-width="0.9"/>
<path d="M132.8,732 L138.7,737.8 M132.8,737.8 L138.7,732" stroke="#444" stroke-width="0.81"/>
<text x="135.8" y="750" font-size="7.2" fill="#333" font-weight="normal" text-anchor="middle" >0</text>
<text x="135.8" y="762.9" font-size="7.2" fill="#333" font-weight="normal" text-anchor="middle" >0</text>
<circle cx="148.4" cy="722.1" r="4.7" fill="#8cc2bf" stroke="#555" stroke-width="0.8"/>
<circle cx="148.4" cy="734.9" r="4.7" fill="#fff" stroke="#444" stroke-width="0.9"/>
<path d="M145.5,732 L151.3,737.8 M145.5,737.8 L151.3,732" stroke="#444" stroke-width="0.81"/>
<text x="148.4" y="750" font-size="7.2" fill="#333" font-weight="normal" text-anchor="middle" >3</text>
<text x="148.4" y="762.9" font-size="7.2" fill="#333" font-weight="normal" text-anchor="middle" >0</text>
<circle cx="161.1" cy="722.1" r="4.7" fill="#8cc2bf" stroke="#555" stroke-width="0.8"/>
<circle cx="161.1" cy="734.9" r="4.7" fill="#fff" stroke="#444" stroke-width="0.9"/>
<path d="M158.2,732 L164,737.8 M158.2,737.8 L164,732" stroke="#444" stroke-width="0.81"/>
<text x="161.1" y="750" font-size="7.2" fill="#333" font-weight="normal" text-anchor="middle" >30</text>
<text x="161.1" y="762.9" font-size="7.2" fill="#333" font-weight="normal" text-anchor="middle" >0</text>
<circle cx="173.7" cy="722.1" r="4.7" fill="#8cc2bf" stroke="#555" stroke-width="0.8"/>
<circle cx="173.7" cy="734.9" r="4.7" fill="#fff" stroke="#444" stroke-width="0.9"/>
<path d="M170.8,732 L176.7,737.8 M170.8,737.8 L176.7,732" stroke="#444" stroke-width="0.81"/>
<text x="173.7" y="750" font-size="7.2" fill="#333" font-weight="normal" text-anchor="middle" >0</text>
<text x="173.7" y="762.9" font-size="7.2" fill="#333" font-weight="normal" text-anchor="middle" >3</text>
<circle cx="186.4" cy="722.1" r="4.7" fill="#8cc2bf" stroke="#555" stroke-width="0.8"/>
<circle cx="186.4" cy="734.9" r="4.7" fill="#fff" stroke="#444" stroke-width="0.9"/>
<path d="M183.5,732 L189.3,737.8 M183.5,737.8 L189.3,732" stroke="#444" stroke-width="0.81"/>
<text x="186.4" y="750" font-size="7.2" fill="#333" font-weight="normal" text-anchor="middle" >0</text>
<text x="186.4" y="762.9" font-size="7.2" fill="#333" font-weight="normal" text-anchor="middle" >30</text>
<circle cx="199.1" cy="722.1" r="4.7" fill="#fff" stroke="#444" stroke-width="0.9"/>
<path d="M196.1,719.2 L202,725 M196.1,725 L202,719.2" stroke="#444" stroke-width="0.81"/>
<circle cx="199.1" cy="734.9" r="4.7" fill="#e8bc4c" stroke="#555" stroke-width="0.8"/>
<text x="199.1" y="750" font-size="7.2" fill="#333" font-weight="normal" text-anchor="middle" >0</text>
<text x="199.1" y="762.9" font-size="7.2" fill="#333" font-weight="normal" text-anchor="middle" >0</text>
<circle cx="211.7" cy="722.1" r="4.7" fill="#8cc2bf" stroke="#555" stroke-width="0.8"/>
<circle cx="211.7" cy="734.9" r="4.7" fill="#e8bc4c" stroke="#555" stroke-width="0.8"/>
<text x="211.7" y="750" font-size="7.2" fill="#333" font-weight="normal" text-anchor="middle" >0</text>
<text x="211.7" y="762.9" font-size="7.2" fill="#333" font-weight="normal" text-anchor="middle" >0</text>
<circle cx="224.4" cy="722.1" r="4.7" fill="#8cc2bf" stroke="#555" stroke-width="0.8"/>
<circle cx="224.4" cy="734.9" r="4.7" fill="#e8bc4c" stroke="#555" stroke-width="0.8"/>
<text x="224.4" y="750" font-size="7.2" fill="#333" font-weight="normal" text-anchor="middle" >3</text>
<text x="224.4" y="762.9" font-size="7.2" fill="#333" font-weight="normal" text-anchor="middle" >0</text>
<circle cx="237" cy="722.1" r="4.7" fill="#8cc2bf" stroke="#555" stroke-width="0.8"/>
<circle cx="237" cy="734.9" r="4.7" fill="#e8bc4c" stroke="#555" stroke-width="0.8"/>
<text x="237" y="750" font-size="7.2" fill="#333" font-weight="normal" text-anchor="middle" >30</text>
<text x="237" y="762.9" font-size="7.2" fill="#333" font-weight="normal" text-anchor="middle" >0</text>
<circle cx="249.7" cy="722.1" r="4.7" fill="#8cc2bf" stroke="#555" stroke-width="0.8"/>
<circle cx="249.7" cy="734.9" r="4.7" fill="#e8bc4c" stroke="#555" stroke-width="0.8"/>
<text x="249.7" y="750" font-size="7.2" fill="#333" font-weight="normal" text-anchor="middle" >0</text>
<text x="249.7" y="762.9" font-size="7.2" fill="#333" font-weight="normal" text-anchor="middle" >3</text>
<circle cx="262.4" cy="722.1" r="4.7" fill="#8cc2bf" stroke="#555" stroke-width="0.8"/>
<circle cx="262.4" cy="734.9" r="4.7" fill="#e8bc4c" stroke="#555" stroke-width="0.8"/>
<text x="262.4" y="750" font-size="7.2" fill="#333" font-weight="normal" text-anchor="middle" >0</text>
<text x="262.4" y="762.9" font-size="7.2" fill="#333" font-weight="normal" text-anchor="middle" >30</text>
<defs><linearGradient id="gelg" x1="0" y1="0" x2="0" y2="1"><stop offset="0" stop-color="#cdcdcd"/><stop offset="0.3" stop-color="#bebebe"/><stop offset="0.75" stop-color="#aaaaaa"/><stop offset="1" stop-color="#9c9c9c"/></linearGradient><linearGradient id="gelh" x1="0" y1="0" x2="1" y2="0"><stop offset="0" stop-color="#fff" stop-opacity="0.06"/><stop offset="0.5" stop-color="#fff" stop-opacity="0"/><stop offset="1" stop-color="#000" stop-opacity="0.05"/></linearGradient><filter id="bl1" x="-20%" y="-50%" width="140%" height="200%"><feGaussianBlur stdDeviation="0.9"/></filter><filter id="bl2" x="-20%" y="-50%" width="140%" height="200%"><feGaussianBlur stdDeviation="1.1"/></filter><filter id="bl0" x="-20%" y="-50%" width="140%" height="200%"><feGaussianBlur stdDeviation="0.5"/></filter></defs>
<rect x="91.2" y="769.8" width="185.4" height="153" fill="url(#gelg)"/>
<rect x="91.2" y="769.8" width="185.4" height="153" fill="url(#gelh)"/>
<g filter="url(#bl1)"><path d="M94,771 q0,3 4,3 t4,-3" fill="#dcdcdc" stroke="#666" stroke-width="0.7" opacity="0.8"/><path d="M119.6,771 q0,3 4,3 t4,-3" fill="#dcdcdc" stroke="#666" stroke-width="0.7" opacity="0.8"/><path d="M132.3,771 q0,3 4,3 t4,-3" fill="#dcdcdc" stroke="#666" stroke-width="0.7" opacity="0.8"/><path d="M144.9,771 q0,3 4,3 t4,-3" fill="#dcdcdc" stroke="#666" stroke-width="0.7" opacity="0.8"/><path d="M157.6,771 q0,3 4,3 t4,-3" fill="#dcdcdc" stroke="#666" stroke-width="0.7" opacity="0.8"/><path d="M170.2,771 q0,3 4,3 t4,-3" fill="#dcdcdc" stroke="#666" stroke-width="0.7" opacity="0.8"/><path d="M182.9,771 q0,3 4,3 t4,-3" fill="#dcdcdc" stroke="#666" stroke-width="0.7" opacity="0.8"/><path d="M195.6,771 q0,3 4,3 t4,-3" fill="#dcdcdc" stroke="#666" stroke-width="0.7" opacity="0.8"/><path d="M208.2,771 q0,3 4,3 t4,-3" fill="#dcdcdc" stroke="#666" stroke-width="0.7" opacity="0.8"/><path d="M220.9,771 q0,3 4,3 t4,-3" fill="#dcdcdc" stroke="#666" stroke-width="0.7" opacity="0.8"/><path d="M233.5,771 q0,3 4,3 t4,-3" fill="#dcdcdc" stroke="#666" stroke-width="0.7" opacity="0.8"/><path d="M246.2,771 q0,3 4,3 t4,-3" fill="#dcdcdc" stroke="#666" stroke-width="0.7" opacity="0.8"/><path d="M258.9,771 q0,3 4,3 t4,-3" fill="#dcdcdc" stroke="#666" stroke-width="0.7" opacity="0.8"/></g>
<g filter="url(#bl1)"><rect x="97.8" y="795.3" width="8.4" height="2" rx="1" fill="#000" opacity="0.7"/><rect x="97.8" y="805.8" width="8.4" height="2" rx="1" fill="#000" opacity="0.65"/><rect x="97.8" y="820.5" width="8.4" height="2.3" rx="1" fill="#000" opacity="0.75"/><rect x="97.8" y="834.1" width="8.4" height="2.8" rx="1" fill="#000" opacity="1"/><rect x="97.8" y="857.7" width="8.4" height="3" rx="1" fill="#000" opacity="1"/><rect x="97.8" y="876.8" width="8.4" height="2.5" rx="1" fill="#000" opacity="0.9"/><rect x="97.8" y="898" width="8.4" height="2.8" rx="1" fill="#000" opacity="1"/><rect x="97.8" y="907" width="8.4" height="2.4" rx="1" fill="#000" opacity="0.9"/><rect x="97.8" y="916.5" width="8.4" height="2.3" rx="1" fill="#000" opacity="0.85"/></g>
<g filter="url(#bl1)"><rect x="193.8" y="816.2" width="10.4" height="3.3" fill="#111" opacity="0.95"/><rect x="194.5" y="826.3" width="9" height="2" fill="#555" opacity="0.35"/><rect x="194.2" y="844.6" width="9.6" height="5.6" fill="#444" opacity="0.55"/><rect x="206.2" y="816.2" width="10.4" height="3.3" fill="#111" opacity="0.95"/><rect x="206.9" y="826.3" width="9" height="2" fill="#555" opacity="0.35"/><rect x="206.6" y="844.6" width="9.6" height="5.6" fill="#444" opacity="0.55"/><rect x="218.6" y="816.2" width="10.4" height="3.3" fill="#111" opacity="0.95"/><rect x="219.3" y="826.3" width="9" height="2" fill="#555" opacity="0.35"/><rect x="219" y="844.6" width="9.6" height="5.6" fill="#444" opacity="0.55"/><rect x="230.7" y="816.2" width="10.4" height="3.3" fill="#111" opacity="0.95"/><rect x="231.4" y="826.3" width="9" height="2" fill="#555" opacity="0.35"/><rect x="231.1" y="844.6" width="9.6" height="5.6" fill="#444" opacity="0.55"/><rect x="243.1" y="816.2" width="10.4" height="3.3" fill="#111" opacity="0.95"/><rect x="243.8" y="826.3" width="9" height="2" fill="#555" opacity="0.35"/><rect x="243.5" y="844.6" width="9.6" height="5.6" fill="#444" opacity="0.55"/><rect x="257.3" y="816.2" width="10.4" height="3.3" fill="#111" opacity="0.95"/><rect x="258" y="826.3" width="9" height="2" fill="#555" opacity="0.35"/><rect x="257.7" y="844.6" width="9.6" height="5.6" fill="#444" opacity="0.55"/><rect x="185.5" y="813.5" width="1.6" height="7" fill="#555" opacity="0.5"/><rect x="192" y="905.9" width="78" height="2.2" fill="#333" opacity="0.55"/></g>
<rect x="91.2" y="769.8" width="185.4" height="153" fill="none" stroke="#3a3a3a" stroke-width="1.1"/>
<text x="88.2" y="797.6" font-size="7.3" fill="#333" font-weight="normal" text-anchor="end" >250 -</text>
<text x="88.2" y="808.1" font-size="7.3" fill="#333" font-weight="normal" text-anchor="end" >150 -</text>
<text x="88.2" y="823" font-size="7.3" fill="#333" font-weight="normal" text-anchor="end" >100 -</text>
<text x="88.2" y="837.1" font-size="7.3" fill="#333" font-weight="normal" text-anchor="end" >75 -</text>
<text x="88.2" y="860.7" font-size="7.3" fill="#333" font-weight="normal" text-anchor="end" >50 -</text>
<text x="88.2" y="879.6" font-size="7.3" fill="#333" font-weight="normal" text-anchor="end" >37 -</text>
<text x="88.2" y="901" font-size="7.3" fill="#333" font-weight="normal" text-anchor="end" >25 -</text>
<text x="88.2" y="909.8" font-size="7.3" fill="#333" font-weight="normal" text-anchor="end" >20 -</text>
<text x="88.2" y="919.4" font-size="7.3" fill="#333" font-weight="normal" text-anchor="end" >15 -</text>
<rect x="91" y="924.6" width="185.4" height="39.4" fill="#e9e9e9" stroke="#3a3a3a" stroke-width="1.1"/>
<text x="88.2" y="931" font-size="7.3" fill="#333" font-weight="normal" text-anchor="end" >150 -</text>
<text x="88.2" y="944.3" font-size="7.3" fill="#333" font-weight="normal" text-anchor="end" >100 -</text>
<text x="88.2" y="957.9" font-size="7.3" fill="#333" font-weight="normal" text-anchor="end" >75 -</text>
<g filter="url(#bl0)"><rect x="208.2" y="947.8" width="10.5" height="2.2" fill="#000" opacity="0.8"/><rect x="221.2" y="947.8" width="10.5" height="2.2" fill="#000" opacity="0.85"/><rect x="234.2" y="947.8" width="10.5" height="2.2" fill="#000" opacity="0.95"/><rect x="246.8" y="947.8" width="10.5" height="2.2" fill="#000" opacity="0.8"/><rect x="260.4" y="947.8" width="10.5" height="2.2" fill="#000" opacity="0.85"/><rect x="146" y="948" width="5" height="1.5" fill="#999" opacity="0.4"/></g>
<text x="278.2" y="820.6" font-size="8.5" fill="#222" font-weight="normal" text-anchor="start" >-VPS35L</text>
<text x="278.2" y="829.8" font-size="8.5" fill="#222" font-weight="normal" text-anchor="start" >-Halo-SNX17</text>
<text x="278.2" y="849.6" font-size="8.5" fill="#222" font-weight="normal" text-anchor="start" >-Halo-VPS26C</text>
<text x="278.2" y="909.2" font-size="8.5" fill="#222" font-weight="normal" text-anchor="start" >-VPS29</text>
<text x="278.7" y="948.9" font-size="8.3" fill="#222" font-weight="normal" text-anchor="start" >aSNX17</text>
<path d="M147.9,1003.6 V1138.3 H245.8" fill="none" stroke="#666" stroke-width="1.1"/>
<path d="M142.4,1138.3 H147.9" stroke="#666" stroke-width="1.1"/>
<text x="139.4" y="1142.3" font-size="11" fill="#111" font-weight="bold" text-anchor="end" >0</text>
<path d="M142.4,1093.4 H147.9" stroke="#666" stroke-width="1.1"/>
<text x="139.4" y="1097.4" font-size="11" fill="#111" font-weight="bold" text-anchor="end" >1</text>
<path d="M142.4,1048.5 H147.9" stroke="#666" stroke-width="1.1"/>
<text x="139.4" y="1052.5" font-size="11" fill="#111" font-weight="bold" text-anchor="end" >2</text>
<path d="M142.4,1003.6 H147.9" stroke="#666" stroke-width="1.1"/>
<text x="139.4" y="1007.6" font-size="11" fill="#111" font-weight="bold" text-anchor="end" >3</text>
<path d="M157.7,1138.3 v4.5" stroke="#444" stroke-width="1"/>
<path d="M173.5,1138.3 v4.5" stroke="#444" stroke-width="1"/>
<path d="M188.8,1138.3 v4.5" stroke="#444" stroke-width="1"/>
<path d="M204.2,1138.3 v4.5" stroke="#444" stroke-width="1"/>
<path d="M219.5,1138.3 v4.5" stroke="#444" stroke-width="1"/>
<path d="M235.2,1138.3 v4.5" stroke="#444" stroke-width="1"/>
<rect x="168.6" y="1093.4" width="9.8" height="44.9" fill="#6cc1c1" stroke="#333" stroke-width="0.8"/>
<rect x="183.9" y="1083.1" width="9.8" height="55.2" fill="#6cc1c1" stroke="#333" stroke-width="0.8"/>
<rect x="199.3" y="1044" width="9.8" height="94.3" fill="#6cc1c1" stroke="#333" stroke-width="0.8"/>
<rect x="214.6" y="1089.8" width="9.8" height="48.5" fill="#6cc1c1" stroke="#333" stroke-width="0.8"/>
<rect x="230.3" y="1087.6" width="9.8" height="50.7" fill="#6cc1c1" stroke="#333" stroke-width="0.8"/>
<path d="M188.8,1099.2 V1066.5 M185.8,1099.2 h6 M185.8,1066.5 h6" stroke="#222" stroke-width="0.9" fill="none"/>
<path d="M204.2,1073.2 V1014.4 M201.2,1073.2 h6 M201.2,1014.4 h6" stroke="#222" stroke-width="0.9" fill="none"/>
<path d="M219.5,1109.6 V1071.4 M216.5,1109.6 h6 M216.5,1071.4 h6" stroke="#222" stroke-width="0.9" fill="none"/>
<path d="M235.2,1106 V1068.3 M232.2,1106 h6 M232.2,1068.3 h6" stroke="#222" stroke-width="0.9" fill="none"/>
<circle cx="155.5" cy="1138.3" r="1.55" fill="#111"/>
<circle cx="157.9" cy="1137.4" r="1.55" fill="#111"/>
<circle cx="160.2" cy="1138.3" r="1.55" fill="#111"/>
<circle cx="171.2" cy="1093.4" r="1.55" fill="#111"/>
<circle cx="173.5" cy="1093.4" r="1.55" fill="#111"/>
<circle cx="175.8" cy="1093.4" r="1.55" fill="#111"/>
<circle cx="188.8" cy="1066.5" r="1.55" fill="#111"/>
<circle cx="188.8" cy="1084.4" r="1.55" fill="#111"/>
<circle cx="188.8" cy="1099.2" r="1.55" fill="#111"/>
<circle cx="200.4" cy="1026" r="1.55" fill="#111"/>
<circle cx="208.1" cy="1026.9" r="1.55" fill="#111"/>
<circle cx="204.2" cy="1078.1" r="1.55" fill="#111"/>
<circle cx="219.5" cy="1075" r="1.55" fill="#111"/>
<circle cx="219.5" cy="1084" r="1.55" fill="#111"/>
<circle cx="219.5" cy="1110.5" r="1.55" fill="#111"/>
<circle cx="235.2" cy="1065.6" r="1.55" fill="#111"/>
<circle cx="231.5" cy="1098.3" r="1.55" fill="#111"/>
<circle cx="239.2" cy="1097.9" r="1.55" fill="#111"/>
<path d="M173.5,1005.1 H204.6 M158.2,1063.4 H173.5" stroke="#444" stroke-width="0.9"/>
<text x="188.8" y="1001.9" font-size="9.3" fill="#222" font-weight="normal" text-anchor="middle" >p = 0.0185</text>
<text x="170.9" y="1060" font-size="9.3" fill="#222" font-weight="normal" text-anchor="middle" >p = 0.0343</text>
<text x="129" y="1071" font-size="11.2" fill="#111" font-weight="bold" text-anchor="middle" transform="rotate(-90 129 1071)">Relative SNX17 bound</text>
<text x="150" y="1154" font-size="8.3" fill="#222" font-weight="normal" text-anchor="end" >SNX17</text>
<text x="150" y="1165.1" font-size="8.3" fill="#222" font-weight="normal" text-anchor="end" >Retriever</text>
<text x="150" y="1178.3" font-size="8.3" fill="#222" font-weight="normal" text-anchor="end" >LRP1 (ØxNPTY) [µM]</text>
<text x="150" y="1187.9" font-size="8.3" fill="#222" font-weight="normal" text-anchor="end" >LRP1 (ØxNPTA) [µM]</text>
<circle cx="161.6" cy="1151" r="4.1" fill="#fff" stroke="#444" stroke-width="0.9"/>
<path d="M159.1,1148.5 L164.1,1153.5 M159.1,1153.5 L164.1,1148.5" stroke="#444" stroke-width="0.81"/>
<circle cx="161.6" cy="1162.1" r="4.1" fill="#e8bc4c" stroke="#555" stroke-width="0.8"/>
<text x="161.6" y="1177.6" font-size="6.6" fill="#333" font-weight="normal" text-anchor="middle" >0</text>
<text x="161.6" y="1187.2" font-size="6.6" fill="#333" font-weight="normal" text-anchor="middle" >0</text>
<circle cx="176.2" cy="1151" r="4.1" fill="#8cc2bf" stroke="#555" stroke-width="0.8"/>
<circle cx="176.2" cy="1162.1" r="4.1" fill="#e8bc4c" stroke="#555" stroke-width="0.8"/>
<text x="176.2" y="1177.6" font-size="6.6" fill="#333" font-weight="normal" text-anchor="middle" >0</text>
<text x="176.2" y="1187.2" font-size="6.6" fill="#333" font-weight="normal" text-anchor="middle" >0</text>
<circle cx="190.2" cy="1151" r="4.1" fill="#8cc2bf" stroke="#555" stroke-width="0.8"/>
<circle cx="190.2" cy="1162.1" r="4.1" fill="#e8bc4c" stroke="#555" stroke-width="0.8"/>
<text x="190.2" y="1177.6" font-size="6.6" fill="#333" font-weight="normal" text-anchor="middle" >3</text>
<text x="190.2" y="1187.2" font-size="6.6" fill="#333" font-weight="normal" text-anchor="middle" >0</text>
<circle cx="204.8" cy="1151" r="4.1" fill="#8cc2bf" stroke="#555" stroke-width="0.8"/>
<circle cx="204.8" cy="1162.1" r="4.1" fill="#e8bc4c" stroke="#555" stroke-width="0.8"/>
<text x="204.8" y="1177.6" font-size="6.6" fill="#333" font-weight="normal" text-anchor="middle" >30</text>
<text x="204.8" y="1187.2" font-size="6.6" fill="#333" font-weight="normal" text-anchor="middle" >0</text>
<circle cx="219.4" cy="1151" r="4.1" fill="#8cc2bf" stroke="#555" stroke-width="0.8"/>
<circle cx="219.4" cy="1162.1" r="4.1" fill="#e8bc4c" stroke="#555" stroke-width="0.8"/>
<text x="219.4" y="1177.6" font-size="6.6" fill="#333" font-weight="normal" text-anchor="middle" >0</text>
<text x="219.4" y="1187.2" font-size="6.6" fill="#333" font-weight="normal" text-anchor="middle" >3</text>
<circle cx="234.6" cy="1151" r="4.1" fill="#8cc2bf" stroke="#555" stroke-width="0.8"/>
<circle cx="234.6" cy="1162.1" r="4.1" fill="#e8bc4c" stroke="#555" stroke-width="0.8"/>
<text x="234.6" y="1177.6" font-size="6.6" fill="#333" font-weight="normal" text-anchor="middle" >0</text>
<text x="234.6" y="1187.2" font-size="6.6" fill="#333" font-weight="normal" text-anchor="middle" >30</text>
<text x="364.2" y="719.7" font-size="14.2" fill="#111" font-weight="normal" text-anchor="start" >E</text>
<text x="477.4" y="715" font-size="9.8" fill="#222" font-weight="normal" text-anchor="middle" >Merge</text>
<circle cx="548.5" cy="711.8" r="4.6" fill="#39c42a" stroke="#333" stroke-width="0.7"/>
<text x="556" y="715" font-size="9.8" fill="#222" font-weight="normal" text-anchor="start" >GFP</text>
<circle cx="625.9" cy="711.8" r="4.6" fill="#e055e0" stroke="#333" stroke-width="0.7"/>
<text x="634.2" y="715" font-size="9.8" fill="#222" font-weight="normal" text-anchor="start" >aEEA1</text>
<path d="M420.7,738.6 V953.9" stroke="#777" stroke-width="1"/>
<text x="416.8" y="847.5" font-size="9.8" fill="#222" font-weight="normal" text-anchor="middle" transform="rotate(-90 416.8 847.5)">RPE1 + GFP-SNX17</text>
<text x="434" y="767.9" font-size="9.8" fill="#222" font-weight="normal" text-anchor="middle" transform="rotate(-90 434 767.9)">wild-type</text>
<text x="434" y="848.3" font-size="9.8" fill="#222" font-weight="normal" text-anchor="middle" transform="rotate(-90 434 848.3)">V380D</text>
<text x="434" y="924.4" font-size="9.8" fill="#222" font-weight="normal" text-anchor="middle" transform="rotate(-90 434 924.4)">F462A</text>
<defs><filter id="cb" x="-10%" y="-10%" width="120%" height="120%"><feGaussianBlur stdDeviation="1.2"/></filter><filter id="cb2" x="-10%" y="-10%" width="120%" height="120%"><feGaussianBlur stdDeviation="0.45"/></filter></defs>
<clipPath id="c00"><rect x="439" y="720.4" width="80.3" height="80.4"/></clipPath>
<clipPath id="c01"><rect x="521.4" y="720.4" width="81" height="80.4"/></clipPath>
<clipPath id="c02"><rect x="604.2" y="720.4" width="80.1" height="80.4"/></clipPath>
<clipPath id="c10"><rect x="439" y="805.1" width="80.3" height="79.9"/></clipPath>
<clipPath id="c11"><rect x="521.4" y="805.1" width="81" height="79.9"/></clipPath>
<clipPath id="c12"><rect x="604.2" y="805.1" width="80.1" height="79.9"/></clipPath>
<clipPath id="c20"><rect x="439" y="889.4" width="80.3" height="79.3"/></clipPath>
<clipPath id="c21"><rect x="521.4" y="889.4" width="81" height="79.3"/></clipPath>
<clipPath id="c22"><rect x="604.2" y="889.4" width="80.1" height="79.3"/></clipPath>
<g clip-path="url(#c00)"><rect x="439" y="720.4" width="80.3" height="80.4" fill="#020402"/><g filter="url(#cb)"><path d="M443.4,743.1C444.6,741.1 448.2,739 450.6,737.2C453,735.4 455.8,733.8 457.8,732.4C459.8,731 460.1,729.9 462.5,728.8C464.9,727.7 469.3,726.7 472.1,725.8C474.9,724.9 476.5,723.9 479.3,723.4C482.1,722.9 485.7,722.3 488.9,722.8C492.1,723.3 497.2,724.6 498.4,726.4C499.6,728.2 496.8,731.4 496,733.6C495.2,735.8 493.9,737.4 493.7,739.6C493.5,741.8 494.3,744.1 494.9,746.7C495.5,749.3 497.1,752.7 497.3,755.1C497.5,757.5 497.1,759.3 496.1,761.1C495.1,762.9 492.1,764.1 491.3,765.9C490.5,767.7 490.5,770.1 491.3,771.9C492.1,773.7 494.5,775.1 496.1,776.7C497.7,778.3 499.3,779.7 500.9,781.5C502.5,783.3 504.4,785.2 505.6,787.4C506.8,789.6 507.7,792.2 508,794.6C508.3,797 508.8,800.7 507.5,801.9C506.2,803.1 502,803.5 500.5,801.9C499,800.3 499.8,795 498.5,792.2C497.2,789.4 494.9,786.6 492.5,785C490.1,783.4 486.3,782.6 484.1,782.6C481.9,782.6 480.9,783.4 479.3,785C477.7,786.6 475.8,789.4 474.5,792.2C473.2,795 472.8,800.3 471.5,801.9C470.2,803.5 467.1,803.5 467,801.9C466.9,800.3 469.4,795.4 470.9,792.2C472.3,789 475.1,785.6 475.7,782.6C476.3,779.6 475.7,776.7 474.5,774.3C473.3,771.9 470.7,770.1 468.5,768.3C466.3,766.5 463.6,764.9 461.4,763.5C459.2,762.1 457.6,761.5 455.4,759.9C453.2,758.3 450.2,755.7 448.2,753.9C446.2,752.1 444.2,750.9 443.4,749.1C442.6,747.3 442.2,745.1 443.4,743.1Z" fill="#194e19" opacity="1" /><ellipse cx="477.5" cy="765.3" rx="7.4" ry="6.3" fill="#10300f" opacity="1" /><path d="M480,721.4C481.8,720.1 489.2,720.9 494,720.9C498.8,720.9 507.2,719.8 509,721.4C510.8,723 507,727.7 505,730.4C503,733.1 499.7,736.7 497,737.4C494.3,738.1 491.3,735.9 489,734.4C486.7,732.9 484.5,730.6 483,728.4C481.5,726.2 478.2,722.6 480,721.4Z" fill="#3a0f3a" opacity="0.55" /><path d="M439.5,747.4C440.8,743.7 444.4,747.4 447,748.4C449.6,749.4 453,751.1 455,753.4C457,755.7 458.8,759.6 459,762.4C459.2,765.2 457.7,768.1 456,770.4C454.3,772.7 451.3,775.2 449,776.4C446.7,777.6 443.6,778.4 442,777.4C440.4,776.4 439.9,775.4 439.5,770.4C439.1,765.4 438.2,751.1 439.5,747.4Z" fill="#3a0f3a" opacity="0.55" /><path d="M505,767.4C506.7,765.9 510.6,764.7 513,764.4C515.4,764.1 518.4,761.7 519.5,765.4C520.6,769.1 520.9,782.9 519.5,786.4C518.1,789.9 513.4,787.4 511,786.4C508.6,785.4 506.3,782.6 505,780.4C503.7,778.2 503,775.6 503,773.4C503,771.2 503.3,768.9 505,767.4Z" fill="#3a0f3a" opacity="0.55" /></g><circle cx="484.8" cy="743.8" r="0.6" fill="#5aaa5a" opacity="0.5"/><circle cx="471.4" cy="798" r="0.4" fill="#5aaa5a" opacity="0.5"/><circle cx="460.7" cy="759.7" r="0.5" fill="#5aaa5a" opacity="0.5"/><circle cx="451.9" cy="746" r="0.5" fill="#5aaa5a" opacity="0.5"/><circle cx="462" cy="742.1" r="0.4" fill="#5aaa5a" opacity="0.5"/><circle cx="485.4" cy="738.7" r="0.6" fill="#5aaa5a" opacity="0.5"/><circle cx="483" cy="759.9" r="0.4" fill="#5aaa5a" opacity="0.5"/><circle cx="459" cy="740.3" r="0.5" fill="#5aaa5a" opacity="0.5"/><circle cx="450.5" cy="740.6" r="0.6" fill="#5aaa5a" opacity="0.5"/><circle cx="491.1" cy="735" r="0.5" fill="#5aaa5a" opacity="0.5"/><circle cx="491.1" cy="781.6" r="0.6" fill="#5aaa5a" opacity="0.5"/><circle cx="467.9" cy="758.6" r="0.5" fill="#5aaa5a" opacity="0.5"/><circle cx="490.1" cy="746" r="0.5" fill="#5aaa5a" opacity="0.5"/><circle cx="479.3" cy="753.2" r="0.4" fill="#5aaa5a" opacity="0.5"/><circle cx="475.7" cy="757.9" r="0.4" fill="#5aaa5a" opacity="0.5"/><circle cx="463" cy="734.3" r="0.5" fill="#5aaa5a" opacity="0.5"/><circle cx="481" cy="729.8" r="0.6" fill="#5aaa5a" opacity="0.5"/><circle cx="456.6" cy="756.5" r="0.6" fill="#5aaa5a" opacity="0.5"/><circle cx="502.9" cy="784" r="0.5" fill="#5aaa5a" opacity="0.5"/><circle cx="476.8" cy="777" r="0.5" fill="#5aaa5a" opacity="0.5"/><circle cx="487.1" cy="764.3" r="0.4" fill="#5aaa5a" opacity="0.5"/><circle cx="467.6" cy="754.5" r="0.5" fill="#5aaa5a" opacity="0.5"/><circle cx="477.6" cy="787.3" r="0.4" fill="#5aaa5a" opacity="0.5"/><circle cx="507.4" cy="793.1" r="0.5" fill="#5aaa5a" opacity="0.5"/><circle cx="453.5" cy="745.7" r="0.5" fill="#5aaa5a" opacity="0.5"/><circle cx="476" cy="737.7" r="0.4" fill="#5aaa5a" opacity="0.5"/><circle cx="484.1" cy="770.5" r="0.5" fill="#5aaa5a" opacity="0.5"/><circle cx="494.3" cy="747.1" r="0.6" fill="#5aaa5a" opacity="0.5"/><circle cx="443.7" cy="746.9" r="0.6" fill="#5aaa5a" opacity="0.5"/><circle cx="481.3" cy="775.6" r="0.4" fill="#5aaa5a" opacity="0.5"/><circle cx="480.5" cy="755.3" r="0.4" fill="#5aaa5a" opacity="0.5"/><circle cx="495.5" cy="727.7" r="0.4" fill="#5aaa5a" opacity="0.5"/><circle cx="493.2" cy="748.3" r="0.6" fill="#5aaa5a" opacity="0.5"/><circle cx="466.3" cy="736.2" r="0.4" fill="#5aaa5a" opacity="0.5"/><circle cx="481" cy="750.4" r="0.5" fill="#5aaa5a" opacity="0.5"/><circle cx="468.3" cy="727.1" r="0.6" fill="#5aaa5a" opacity="0.5"/><circle cx="503.5" cy="790.4" r="0.4" fill="#5aaa5a" opacity="0.5"/><circle cx="501.5" cy="787.3" r="0.4" fill="#5aaa5a" opacity="0.5"/><circle cx="459.1" cy="753.6" r="0.6" fill="#5aaa5a" opacity="0.5"/><circle cx="457.7" cy="747.3" r="0.6" fill="#5aaa5a" opacity="0.5"/><circle cx="474.7" cy="785.5" r="0.4" fill="#5aaa5a" opacity="0.5"/><circle cx="454.6" cy="751.1" r="0.4" fill="#5aaa5a" opacity="0.5"/><circle cx="479.7" cy="731.9" r="0.5" fill="#5aaa5a" opacity="0.5"/><circle cx="468.3" cy="754.7" r="0.4" fill="#5aaa5a" opacity="0.5"/><circle cx="466.1" cy="742.2" r="0.4" fill="#5aaa5a" opacity="0.5"/><circle cx="461.7" cy="741.6" r="0.4" fill="#5aaa5a" opacity="0.5"/><circle cx="486.3" cy="749.8" r="0.4" fill="#5aaa5a" opacity="0.5"/><circle cx="489" cy="730.1" r="0.4" fill="#5aaa5a" opacity="0.5"/><circle cx="476" cy="740.8" r="0.5" fill="#5aaa5a" opacity="0.5"/><circle cx="481.4" cy="751.9" r="0.4" fill="#5aaa5a" opacity="0.5"/><circle cx="482.7" cy="739.6" r="0.6" fill="#5aaa5a" opacity="0.5"/><circle cx="478.5" cy="744.2" r="0.6" fill="#5aaa5a" opacity="0.5"/><circle cx="480.1" cy="747.4" r="0.5" fill="#5aaa5a" opacity="0.5"/><circle cx="486.2" cy="731.4" r="0.5" fill="#5aaa5a" opacity="0.5"/><circle cx="466.8" cy="762.4" r="0.4" fill="#5aaa5a" opacity="0.5"/><circle cx="447.7" cy="747.4" r="0.4" fill="#5aaa5a" opacity="0.5"/><circle cx="461.6" cy="754.7" r="0.6" fill="#5aaa5a" opacity="0.5"/><circle cx="487.3" cy="775.3" r="0.5" fill="#5aaa5a" opacity="0.5"/><circle cx="488.6" cy="742.5" r="0.6" fill="#5aaa5a" opacity="0.5"/><circle cx="489.4" cy="726" r="0.4" fill="#5aaa5a" opacity="0.5"/><circle cx="453.9" cy="738.5" r="0.4" fill="#5aaa5a" opacity="0.5"/><circle cx="480.2" cy="779.5" r="0.4" fill="#5aaa5a" opacity="0.5"/><circle cx="497.3" cy="784.2" r="0.4" fill="#5aaa5a" opacity="0.5"/><circle cx="482.6" cy="726.5" r="0.4" fill="#5aaa5a" opacity="0.5"/><circle cx="491.8" cy="729.6" r="0.6" fill="#5aaa5a" opacity="0.5"/><circle cx="470.8" cy="796.4" r="0.6" fill="#5aaa5a" opacity="0.5"/><circle cx="484" cy="758.6" r="0.4" fill="#5aaa5a" opacity="0.5"/><circle cx="488.5" cy="756.7" r="0.5" fill="#5aaa5a" opacity="0.5"/><circle cx="492.6" cy="726.3" r="0.6" fill="#5aaa5a" opacity="0.5"/><circle cx="466.5" cy="755.4" r="0.4" fill="#5aaa5a" opacity="0.5"/><circle cx="463.5" cy="733.6" r="0.6" fill="#5aaa5a" opacity="0.5"/><circle cx="486.7" cy="741.6" r="0.4" fill="#5aaa5a" opacity="0.5"/><circle cx="476.7" cy="758" r="0.6" fill="#5aaa5a" opacity="0.5"/><circle cx="466.1" cy="746.5" r="0.6" fill="#5aaa5a" opacity="0.5"/><circle cx="478.8" cy="783" r="0.4" fill="#5aaa5a" opacity="0.5"/><circle cx="486.5" cy="770.2" r="0.5" fill="#5aaa5a" opacity="0.5"/><circle cx="450.8" cy="745.7" r="0.5" fill="#5aaa5a" opacity="0.5"/><circle cx="461.5" cy="738.4" r="0.6" fill="#5aaa5a" opacity="0.5"/><circle cx="472.3" cy="731.7" r="0.4" fill="#5aaa5a" opacity="0.5"/><circle cx="473.7" cy="751.5" r="0.4" fill="#5aaa5a" opacity="0.5"/><circle cx="471.5" cy="737.8" r="0.5" fill="#5aaa5a" opacity="0.5"/><circle cx="485" cy="772.5" r="0.6" fill="#5aaa5a" opacity="0.5"/><circle cx="485.6" cy="742.7" r="0.4" fill="#5aaa5a" opacity="0.5"/><circle cx="462.5" cy="737.5" r="0.5" fill="#5aaa5a" opacity="0.5"/><circle cx="497" cy="781.5" r="0.4" fill="#5aaa5a" opacity="0.5"/><circle cx="464.1" cy="752" r="0.5" fill="#5aaa5a" opacity="0.5"/><circle cx="480" cy="772.5" r="0.6" fill="#5aaa5a" opacity="0.5"/><circle cx="475.7" cy="735.3" r="0.4" fill="#5aaa5a" opacity="0.5"/><circle cx="480.9" cy="729.1" r="0.6" fill="#5aaa5a" opacity="0.5"/><circle cx="454" cy="757.9" r="0.6" fill="#5aaa5a" opacity="0.5"/><circle cx="471.8" cy="737.9" r="0.6" fill="#5aaa5a" opacity="0.5"/><circle cx="498.7" cy="785" r="0.5" fill="#5aaa5a" opacity="0.5"/><circle cx="476.6" cy="756.1" r="0.5" fill="#5aaa5a" opacity="0.5"/><circle cx="454" cy="746.2" r="0.5" fill="#5aaa5a" opacity="0.5"/><circle cx="479.8" cy="750.3" r="0.4" fill="#5aaa5a" opacity="0.5"/><circle cx="448.9" cy="748.4" r="0.5" fill="#5aaa5a" opacity="0.5"/><circle cx="506.1" cy="794.7" r="0.6" fill="#5aaa5a" opacity="0.5"/><circle cx="506.3" cy="798.9" r="0.5" fill="#5aaa5a" opacity="0.5"/><circle cx="495.8" cy="727.5" r="0.6" fill="#5aaa5a" opacity="0.5"/><circle cx="482.8" cy="746.3" r="0.5" fill="#5aaa5a" opacity="0.5"/><circle cx="485.2" cy="746.5" r="0.5" fill="#5aaa5a" opacity="0.5"/><circle cx="472.3" cy="729.5" r="0.5" fill="#5aaa5a" opacity="0.5"/><circle cx="479.9" cy="754.2" r="0.4" fill="#5aaa5a" opacity="0.5"/><circle cx="478.8" cy="731.7" r="0.6" fill="#5aaa5a" opacity="0.5"/><circle cx="477.7" cy="742.7" r="0.5" fill="#5aaa5a" opacity="0.5"/><circle cx="479.2" cy="740.7" r="0.5" fill="#5aaa5a" opacity="0.5"/><circle cx="481.4" cy="729.1" r="0.5" fill="#5aaa5a" opacity="0.5"/><circle cx="489.6" cy="782.7" r="0.4" fill="#5aaa5a" opacity="0.5"/><circle cx="468.7" cy="736.3" r="0.6" fill="#5aaa5a" opacity="0.5"/><circle cx="479.8" cy="784.1" r="0.4" fill="#5aaa5a" opacity="0.5"/><circle cx="486.9" cy="728.6" r="0.4" fill="#c8b0c8" opacity="0.6"/><circle cx="480.4" cy="734.5" r="0.4" fill="#c8b0c8" opacity="0.6"/><circle cx="484.5" cy="742.6" r="0.6" fill="#c8b0c8" opacity="0.6"/><circle cx="481.4" cy="759.5" r="0.5" fill="#c8b0c8" opacity="0.6"/><circle cx="471.3" cy="755.4" r="0.6" fill="#c8b0c8" opacity="0.6"/><circle cx="488.7" cy="731.1" r="0.5" fill="#c8b0c8" opacity="0.6"/><circle cx="485.5" cy="762.4" r="0.6" fill="#c8b0c8" opacity="0.6"/><circle cx="462.6" cy="747.3" r="0.6" fill="#c8b0c8" opacity="0.6"/><circle cx="483.3" cy="736.1" r="0.4" fill="#c8b0c8" opacity="0.6"/><circle cx="475.1" cy="758.3" r="0.5" fill="#c8b0c8" opacity="0.6"/><circle cx="465.7" cy="747.5" r="0.4" fill="#c8b0c8" opacity="0.6"/><circle cx="483.7" cy="740.9" r="0.4" fill="#c8b0c8" opacity="0.6"/><circle cx="490.5" cy="746.9" r="0.6" fill="#c8b0c8" opacity="0.6"/><circle cx="488.1" cy="762.5" r="0.4" fill="#c8b0c8" opacity="0.6"/><circle cx="471.3" cy="732.1" r="0.5" fill="#c8b0c8" opacity="0.6"/><circle cx="490.4" cy="756.8" r="0.4" fill="#c8b0c8" opacity="0.6"/><circle cx="483.5" cy="741.3" r="0.5" fill="#c8b0c8" opacity="0.6"/><circle cx="481" cy="729.3" r="0.4" fill="#c8b0c8" opacity="0.6"/><circle cx="480.2" cy="728.1" r="0.4" fill="#c8b0c8" opacity="0.6"/><circle cx="472" cy="744.2" r="0.5" fill="#c8b0c8" opacity="0.6"/><circle cx="473" cy="739.8" r="0.4" fill="#c8b0c8" opacity="0.6"/><circle cx="479.8" cy="739.1" r="0.4" fill="#c8b0c8" opacity="0.6"/><circle cx="460.6" cy="731.9" r="0.6" fill="#c8b0c8" opacity="0.6"/><circle cx="468.8" cy="736.8" r="0.5" fill="#c8b0c8" opacity="0.6"/><circle cx="468.4" cy="748" r="0.5" fill="#c8b0c8" opacity="0.6"/><circle cx="486.8" cy="759.6" r="0.6" fill="#c8b0c8" opacity="0.6"/><circle cx="481.8" cy="750.5" r="0.5" fill="#c8b0c8" opacity="0.6"/><circle cx="483.5" cy="738" r="0.6" fill="#c8b0c8" opacity="0.6"/><circle cx="485.6" cy="745.7" r="0.5" fill="#c8b0c8" opacity="0.6"/><circle cx="471.6" cy="747.3" r="0.5" fill="#c8b0c8" opacity="0.6"/><circle cx="461.2" cy="739.2" r="0.4" fill="#c8b0c8" opacity="0.6"/><circle cx="494.6" cy="744.7" r="0.5" fill="#c8b0c8" opacity="0.6"/><circle cx="467.8" cy="735.3" r="0.5" fill="#c8b0c8" opacity="0.6"/><circle cx="490.4" cy="743.6" r="0.5" fill="#c8b0c8" opacity="0.6"/><circle cx="479.5" cy="737.9" r="0.4" fill="#c8b0c8" opacity="0.6"/><circle cx="461.4" cy="737.9" r="0.4" fill="#c8b0c8" opacity="0.6"/><circle cx="485.2" cy="747.3" r="0.6" fill="#c8b0c8" opacity="0.6"/><circle cx="480" cy="729.4" r="0.4" fill="#c8b0c8" opacity="0.6"/><circle cx="471.9" cy="755.8" r="0.5" fill="#c8b0c8" opacity="0.6"/><circle cx="490.3" cy="729" r="0.5" fill="#c8b0c8" opacity="0.6"/><circle cx="491.4" cy="736.9" r="0.4" fill="#c8b0c8" opacity="0.6"/><circle cx="459.8" cy="732.7" r="0.4" fill="#c8b0c8" opacity="0.6"/><circle cx="484.4" cy="734.7" r="0.5" fill="#c8b0c8" opacity="0.6"/><circle cx="466.2" cy="749.3" r="0.6" fill="#c8b0c8" opacity="0.6"/><circle cx="482.3" cy="733.9" r="0.6" fill="#c8b0c8" opacity="0.6"/><circle cx="493.7" cy="749.2" r="0.4" fill="#c8b0c8" opacity="0.6"/><circle cx="488.1" cy="759.7" r="0.5" fill="#c8b0c8" opacity="0.6"/><circle cx="463.9" cy="733.6" r="0.5" fill="#c8b0c8" opacity="0.6"/><circle cx="490.5" cy="750.7" r="0.6" fill="#c8b0c8" opacity="0.6"/><circle cx="466.6" cy="738.8" r="0.6" fill="#c8b0c8" opacity="0.6"/><circle cx="482.4" cy="741.8" r="0.6" fill="#c8b0c8" opacity="0.6"/><circle cx="473.9" cy="728.1" r="0.5" fill="#c8b0c8" opacity="0.6"/><circle cx="471" cy="745.2" r="0.5" fill="#c8b0c8" opacity="0.6"/><circle cx="468.3" cy="744" r="0.4" fill="#c8b0c8" opacity="0.6"/><circle cx="492.3" cy="747.8" r="0.6" fill="#c8b0c8" opacity="0.6"/><circle cx="461" cy="749.7" r="0.6" fill="#c8b0c8" opacity="0.6"/><circle cx="470.8" cy="730" r="0.4" fill="#c8b0c8" opacity="0.6"/><circle cx="474.2" cy="746.9" r="0.5" fill="#c8b0c8" opacity="0.6"/><circle cx="479" cy="751.4" r="0.5" fill="#c8b0c8" opacity="0.6"/><circle cx="470.9" cy="754.6" r="0.4" fill="#c8b0c8" opacity="0.6"/><circle cx="484.6" cy="755.4" r="0.6" fill="#c8b0c8" opacity="0.6"/><circle cx="470.1" cy="755.8" r="0.6" fill="#c8b0c8" opacity="0.6"/><circle cx="475.3" cy="737" r="0.5" fill="#c8b0c8" opacity="0.6"/><circle cx="492.9" cy="731.4" r="0.4" fill="#c8b0c8" opacity="0.6"/><circle cx="476.1" cy="751.3" r="0.6" fill="#c8b0c8" opacity="0.6"/><circle cx="477.1" cy="747.5" r="0.4" fill="#c8b0c8" opacity="0.6"/><circle cx="492.8" cy="740.3" r="0.4" fill="#c8b0c8" opacity="0.6"/><circle cx="492.2" cy="732.6" r="0.4" fill="#c8b0c8" opacity="0.6"/><circle cx="487" cy="735.6" r="0.6" fill="#c8b0c8" opacity="0.6"/><circle cx="477" cy="750.6" r="0.5" fill="#c8b0c8" opacity="0.6"/><circle cx="503.2" cy="728.5" r="0.5" fill="#b030b0" opacity="0.65"/><circle cx="506.2" cy="722.7" r="0.7" fill="#b030b0" opacity="0.65"/><circle cx="491.7" cy="735.2" r="0.4" fill="#b030b0" opacity="0.65"/><circle cx="496.4" cy="727.7" r="0.8" fill="#b030b0" opacity="0.65"/><circle cx="486.5" cy="725.1" r="0.5" fill="#b030b0" opacity="0.65"/><circle cx="492.6" cy="724.7" r="0.5" fill="#b030b0" opacity="0.65"/><circle cx="502" cy="731.5" r="0.5" fill="#b030b0" opacity="0.65"/><circle cx="496.5" cy="723.5" r="0.7" fill="#b030b0" opacity="0.65"/><circle cx="505.2" cy="725.3" r="0.7" fill="#b030b0" opacity="0.65"/><circle cx="503.9" cy="725.6" r="0.5" fill="#b030b0" opacity="0.65"/><circle cx="494.1" cy="735.6" r="0.5" fill="#b030b0" opacity="0.65"/><circle cx="499.8" cy="730.8" r="0.6" fill="#b030b0" opacity="0.65"/><circle cx="496.8" cy="735.5" r="0.5" fill="#b030b0" opacity="0.65"/><circle cx="505.6" cy="726.8" r="0.7" fill="#b030b0" opacity="0.65"/><circle cx="505" cy="723.9" r="0.7" fill="#b030b0" opacity="0.65"/><circle cx="480.7" cy="722.7" r="0.8" fill="#b030b0" opacity="0.65"/><circle cx="482.8" cy="723.7" r="0.7" fill="#b030b0" opacity="0.65"/><circle cx="482.6" cy="726.5" r="0.8" fill="#b030b0" opacity="0.65"/><circle cx="508.4" cy="721.4" r="0.5" fill="#b030b0" opacity="0.65"/><circle cx="486.7" cy="728" r="0.4" fill="#b030b0" opacity="0.65"/><circle cx="483.9" cy="728" r="0.5" fill="#b030b0" opacity="0.65"/><circle cx="499.9" cy="723.3" r="0.7" fill="#b030b0" opacity="0.65"/><circle cx="494.5" cy="722.8" r="0.5" fill="#b030b0" opacity="0.65"/><circle cx="494.4" cy="736.1" r="0.5" fill="#b030b0" opacity="0.65"/><circle cx="487.9" cy="723.8" r="0.5" fill="#b030b0" opacity="0.65"/><circle cx="482" cy="721.6" r="0.6" fill="#b030b0" opacity="0.65"/><circle cx="491.8" cy="730.1" r="0.5" fill="#b030b0" opacity="0.65"/><circle cx="498.9" cy="729.9" r="0.6" fill="#b030b0" opacity="0.65"/><circle cx="491.6" cy="726.2" r="0.6" fill="#b030b0" opacity="0.65"/><circle cx="491.2" cy="727.7" r="0.5" fill="#b030b0" opacity="0.65"/><circle cx="497.6" cy="736.2" r="0.5" fill="#b030b0" opacity="0.65"/><circle cx="497.7" cy="727.1" r="0.5" fill="#b030b0" opacity="0.65"/><circle cx="485.8" cy="722.8" r="0.7" fill="#b030b0" opacity="0.65"/><circle cx="489.4" cy="731.6" r="0.6" fill="#b030b0" opacity="0.65"/><circle cx="504.8" cy="729.3" r="0.6" fill="#b030b0" opacity="0.65"/><circle cx="498.3" cy="733.2" r="0.6" fill="#b030b0" opacity="0.65"/><circle cx="500.7" cy="727.4" r="0.6" fill="#b030b0" opacity="0.65"/><circle cx="497.8" cy="732.1" r="0.5" fill="#b030b0" opacity="0.65"/><circle cx="498.2" cy="729.9" r="0.5" fill="#b030b0" opacity="0.65"/><circle cx="497.8" cy="725.3" r="0.8" fill="#b030b0" opacity="0.65"/><circle cx="448.7" cy="769" r="0.6" fill="#b030b0" opacity="0.65"/><circle cx="448.8" cy="754" r="0.5" fill="#b030b0" opacity="0.65"/><circle cx="457.6" cy="763.3" r="0.6" fill="#b030b0" opacity="0.65"/><circle cx="449.8" cy="771.8" r="0.5" fill="#b030b0" opacity="0.65"/><circle cx="442.9" cy="772.1" r="0.6" fill="#b030b0" opacity="0.65"/><circle cx="452" cy="772.2" r="0.8" fill="#b030b0" opacity="0.65"/><circle cx="446.9" cy="772.4" r="0.7" fill="#b030b0" opacity="0.65"/><circle cx="441.9" cy="752" r="0.5" fill="#b030b0" opacity="0.65"/><circle cx="441.5" cy="758.1" r="0.7" fill="#b030b0" opacity="0.65"/><circle cx="449.7" cy="761" r="0.4" fill="#b030b0" opacity="0.65"/><circle cx="453.1" cy="760.9" r="0.6" fill="#b030b0" opacity="0.65"/><circle cx="455.1" cy="770.2" r="0.5" fill="#b030b0" opacity="0.65"/><circle cx="452.8" cy="758.4" r="0.6" fill="#b030b0" opacity="0.65"/><circle cx="444.1" cy="758.5" r="0.5" fill="#b030b0" opacity="0.65"/><circle cx="443.4" cy="764.5" r="0.4" fill="#b030b0" opacity="0.65"/><circle cx="443" cy="768.9" r="0.5" fill="#b030b0" opacity="0.65"/><circle cx="445.8" cy="754.7" r="0.7" fill="#b030b0" opacity="0.65"/><circle cx="441.3" cy="766.5" r="0.7" fill="#b030b0" opacity="0.65"/><circle cx="443.4" cy="760.1" r="0.7" fill="#b030b0" opacity="0.65"/><circle cx="451.5" cy="758.5" r="0.4" fill="#b030b0" opacity="0.65"/><circle cx="448.1" cy="758.4" r="0.7" fill="#b030b0" opacity="0.65"/><circle cx="445.3" cy="759.6" r="0.7" fill="#b030b0" opacity="0.65"/><circle cx="455.3" cy="758" r="0.6" fill="#b030b0" opacity="0.65"/><circle cx="443.2" cy="776.5" r="0.7" fill="#b030b0" opacity="0.65"/><circle cx="446.8" cy="767.4" r="0.5" fill="#b030b0" opacity="0.65"/><circle cx="440.9" cy="770.1" r="0.6" fill="#b030b0" opacity="0.65"/><circle cx="449.8" cy="762.3" r="0.8" fill="#b030b0" opacity="0.65"/><circle cx="451.1" cy="761.3" r="0.6" fill="#b030b0" opacity="0.65"/><circle cx="455.9" cy="759.8" r="0.6" fill="#b030b0" opacity="0.65"/><circle cx="456.9" cy="760.6" r="0.6" fill="#b030b0" opacity="0.65"/><circle cx="449.5" cy="772.1" r="0.7" fill="#b030b0" opacity="0.65"/><circle cx="453.9" cy="759.5" r="0.4" fill="#b030b0" opacity="0.65"/><circle cx="452.8" cy="764" r="0.7" fill="#b030b0" opacity="0.65"/><circle cx="443.8" cy="749.7" r="0.7" fill="#b030b0" opacity="0.65"/><circle cx="441.5" cy="750" r="0.7" fill="#b030b0" opacity="0.65"/><circle cx="452.8" cy="768.7" r="0.6" fill="#b030b0" opacity="0.65"/><circle cx="440.6" cy="768.1" r="0.6" fill="#b030b0" opacity="0.65"/><circle cx="442.3" cy="757.4" r="0.6" fill="#b030b0" opacity="0.65"/><circle cx="444.9" cy="755.3" r="0.5" fill="#b030b0" opacity="0.65"/><circle cx="444.5" cy="773.2" r="0.6" fill="#b030b0" opacity="0.65"/><circle cx="511.4" cy="773.6" r="0.4" fill="#b030b0" opacity="0.65"/><circle cx="516.2" cy="783.2" r="0.5" fill="#b030b0" opacity="0.65"/><circle cx="511.9" cy="772.6" r="0.6" fill="#b030b0" opacity="0.65"/><circle cx="511.1" cy="777.2" r="0.5" fill="#b030b0" opacity="0.65"/><circle cx="516.2" cy="768.8" r="0.8" fill="#b030b0" opacity="0.65"/><circle cx="512.2" cy="765.5" r="0.5" fill="#b030b0" opacity="0.65"/><circle cx="511.8" cy="773.4" r="0.6" fill="#b030b0" opacity="0.65"/><circle cx="508.3" cy="770.4" r="0.7" fill="#b030b0" opacity="0.65"/><circle cx="507.8" cy="780" r="0.7" fill="#b030b0" opacity="0.65"/><circle cx="512.8" cy="774.4" r="0.8" fill="#b030b0" opacity="0.65"/><circle cx="510.3" cy="783.7" r="0.4" fill="#b030b0" opacity="0.65"/><circle cx="510.2" cy="778.5" r="0.4" fill="#b030b0" opacity="0.65"/><circle cx="517.2" cy="766" r="0.6" fill="#b030b0" opacity="0.65"/><circle cx="512.3" cy="782" r="0.6" fill="#b030b0" opacity="0.65"/><circle cx="514.1" cy="779.2" r="0.5" fill="#b030b0" opacity="0.65"/><circle cx="518.7" cy="773.5" r="0.7" fill="#b030b0" opacity="0.65"/><circle cx="514.3" cy="767.8" r="0.4" fill="#b030b0" opacity="0.65"/><circle cx="514.5" cy="765.3" r="0.7" fill="#b030b0" opacity="0.65"/><circle cx="507.8" cy="769.5" r="0.6" fill="#b030b0" opacity="0.65"/><circle cx="508.3" cy="776.7" r="0.5" fill="#b030b0" opacity="0.65"/><circle cx="518" cy="771.5" r="0.7" fill="#b030b0" opacity="0.65"/><circle cx="519.2" cy="773" r="0.4" fill="#b030b0" opacity="0.65"/><circle cx="509.3" cy="778.5" r="0.5" fill="#b030b0" opacity="0.65"/><circle cx="512" cy="766.5" r="0.6" fill="#b030b0" opacity="0.65"/><circle cx="515" cy="773.9" r="0.7" fill="#b030b0" opacity="0.65"/><circle cx="519.4" cy="785.1" r="0.6" fill="#b030b0" opacity="0.65"/><circle cx="507.8" cy="772.1" r="0.7" fill="#b030b0" opacity="0.65"/><circle cx="511.2" cy="784.9" r="0.4" fill="#b030b0" opacity="0.65"/><circle cx="511" cy="783.4" r="0.6" fill="#b030b0" opacity="0.65"/><circle cx="511.9" cy="766.3" r="0.5" fill="#b030b0" opacity="0.65"/><circle cx="516.9" cy="769.4" r="0.8" fill="#b030b0" opacity="0.65"/><circle cx="519" cy="772" r="0.8" fill="#b030b0" opacity="0.65"/><circle cx="513.8" cy="765.5" r="0.5" fill="#b030b0" opacity="0.65"/><circle cx="510.4" cy="769.8" r="0.7" fill="#b030b0" opacity="0.65"/><circle cx="512.2" cy="766.5" r="0.6" fill="#b030b0" opacity="0.65"/><circle cx="516" cy="777.5" r="0.6" fill="#b030b0" opacity="0.65"/><circle cx="504.6" cy="778.6" r="0.5" fill="#b030b0" opacity="0.65"/><circle cx="512.5" cy="772.2" r="0.5" fill="#b030b0" opacity="0.65"/><circle cx="513.9" cy="768" r="0.5" fill="#b030b0" opacity="0.65"/><circle cx="518.5" cy="771.7" r="0.7" fill="#b030b0" opacity="0.65"/><g filter="url(#cb)"><path d="M465,780.4C467.7,777.1 475,782.4 479,782.4C483,782.4 485.7,780.1 489,780.4C492.3,780.7 495.3,782.7 499,784.4C502.7,786.1 508.7,787.4 511,790.4C513.3,793.4 521,800.4 513,802.4C505,804.4 471,806.1 463,802.4C455,798.7 462.3,783.7 465,780.4Z" fill="#000" opacity="0.45" /><path d="M439,720.4C441.3,717.4 449.7,719.4 453,720.4C456.3,721.4 459.7,724.1 459,726.4C458.3,728.7 452.3,732.4 449,734.4C445.7,736.4 440.7,740.7 439,738.4C437.3,736.1 436.7,723.4 439,720.4Z" fill="#000" opacity="0.5" /></g><rect x="443.2" y="797.6" width="19.4" height="1.6" fill="#fff"/></g>
<g clip-path="url(#c01)"><rect x="521.4" y="720.4" width="81" height="81" fill="#fbfbfb"/><g filter="url(#cb)"><path d="M525.8,743.1C527,741.1 530.6,739 533,737.2C535.4,735.4 538.2,733.8 540.2,732.4C542.2,731 542.5,729.9 544.9,728.8C547.3,727.7 551.7,726.7 554.5,725.8C557.3,724.9 558.9,723.9 561.7,723.4C564.5,722.9 568.1,722.3 571.3,722.8C574.5,723.3 579.6,724.6 580.8,726.4C582,728.2 579.2,731.4 578.4,733.6C577.6,735.8 576.3,737.4 576.1,739.6C575.9,741.8 576.7,744.1 577.3,746.7C577.9,749.3 579.5,752.7 579.7,755.1C579.9,757.5 579.5,759.3 578.5,761.1C577.5,762.9 574.5,764.1 573.7,765.9C572.9,767.7 572.9,770.1 573.7,771.9C574.5,773.7 576.9,775.1 578.5,776.7C580.1,778.3 581.7,779.7 583.3,781.5C584.9,783.3 586.8,785.2 588,787.4C589.2,789.6 590.1,792.2 590.4,794.6C590.7,797 591.1,800.7 589.9,801.9C588.6,803.1 584.4,803.5 582.9,801.9C581.4,800.3 582.2,795 580.9,792.2C579.6,789.4 577.3,786.6 574.9,785C572.5,783.4 568.7,782.6 566.5,782.6C564.3,782.6 563.3,783.4 561.7,785C560.1,786.6 558.2,789.4 556.9,792.2C555.6,795 555.1,800.3 553.9,801.9C552.6,803.5 549.5,803.5 549.4,801.9C549.3,800.3 551.8,795.4 553.3,792.2C554.8,789 557.5,785.6 558.1,782.6C558.7,779.6 558.1,776.7 556.9,774.3C555.7,771.9 553.1,770.1 550.9,768.3C548.7,766.5 546,764.9 543.8,763.5C541.6,762.1 540,761.5 537.8,759.9C535.6,758.3 532.6,755.7 530.6,753.9C528.6,752.1 526.6,750.9 525.8,749.1C525,747.3 524.6,745.1 525.8,743.1Z" fill="#cecece" opacity="1" /><ellipse cx="559.9" cy="765.3" rx="7.4" ry="6.3" fill="#ebebeb" opacity="1" /><path d="M562.4,721.4C564.2,720.1 571.6,720.9 576.4,720.9C581.2,720.9 589.6,719.8 591.4,721.4C593.2,723 589.4,727.7 587.4,730.4C585.4,733.1 582.1,736.7 579.4,737.4C576.7,738.1 573.7,735.9 571.4,734.4C569.1,732.9 566.9,730.6 565.4,728.4C563.9,726.2 560.6,722.6 562.4,721.4Z" fill="#e8e8e8" opacity="1" /><path d="M521.9,747.4C523.1,743.7 526.8,747.4 529.4,748.4C532,749.4 535.4,751.1 537.4,753.4C539.4,755.7 541.2,759.6 541.4,762.4C541.6,765.2 540.1,768.1 538.4,770.4C536.7,772.7 533.7,775.2 531.4,776.4C529.1,777.6 526,778.4 524.4,777.4C522.8,776.4 522.3,775.4 521.9,770.4C521.5,765.4 520.6,751.1 521.9,747.4Z" fill="#e8e8e8" opacity="1" /><path d="M587.4,767.4C589.1,765.9 593,764.7 595.4,764.4C597.8,764.1 600.8,761.7 601.9,765.4C603,769.1 603.3,782.9 601.9,786.4C600.5,789.9 595.8,787.4 593.4,786.4C591,785.4 588.7,782.6 587.4,780.4C586.1,778.2 585.4,775.6 585.4,773.4C585.4,771.2 585.7,768.9 587.4,767.4Z" fill="#e8e8e8" opacity="1" /></g><circle cx="558.5" cy="751.8" r="0.4" fill="#555" opacity="0.55"/><circle cx="551.9" cy="738.9" r="0.4" fill="#555" opacity="0.55"/><circle cx="557.4" cy="785.4" r="0.5" fill="#555" opacity="0.55"/><circle cx="570.3" cy="740.9" r="0.6" fill="#555" opacity="0.55"/><circle cx="535.7" cy="743.7" r="0.4" fill="#555" opacity="0.55"/><circle cx="551.2" cy="763.8" r="0.5" fill="#555" opacity="0.55"/><circle cx="563.2" cy="741.3" r="0.6" fill="#555" opacity="0.55"/><circle cx="576.4" cy="779" r="0.4" fill="#555" opacity="0.55"/><circle cx="565.7" cy="777.5" r="0.6" fill="#555" opacity="0.55"/><circle cx="555.6" cy="795.6" r="0.4" fill="#555" opacity="0.55"/><circle cx="552.1" cy="729.8" r="0.4" fill="#555" opacity="0.55"/><circle cx="573.2" cy="776.5" r="0.4" fill="#555" opacity="0.55"/><circle cx="548" cy="733.9" r="0.4" fill="#555" opacity="0.55"/><circle cx="540" cy="749" r="0.7" fill="#555" opacity="0.55"/><circle cx="574.3" cy="773.1" r="0.4" fill="#555" opacity="0.55"/><circle cx="576.6" cy="730.1" r="0.6" fill="#555" opacity="0.55"/><circle cx="548.4" cy="735.6" r="0.7" fill="#555" opacity="0.55"/><circle cx="569.3" cy="781.8" r="0.4" fill="#555" opacity="0.55"/><circle cx="579.6" cy="786.3" r="0.6" fill="#555" opacity="0.55"/><circle cx="538.6" cy="759" r="0.4" fill="#555" opacity="0.55"/><circle cx="570.1" cy="779" r="0.5" fill="#555" opacity="0.55"/><circle cx="576.4" cy="785.6" r="0.6" fill="#555" opacity="0.55"/><circle cx="586.6" cy="788.1" r="0.5" fill="#555" opacity="0.55"/><circle cx="555.4" cy="749.3" r="0.4" fill="#555" opacity="0.55"/><circle cx="565.8" cy="745.9" r="0.4" fill="#555" opacity="0.55"/><circle cx="577.9" cy="732.3" r="0.6" fill="#555" opacity="0.55"/><circle cx="537.7" cy="744.3" r="0.7" fill="#555" opacity="0.55"/><circle cx="549.2" cy="740.5" r="0.7" fill="#555" opacity="0.55"/><circle cx="551.3" cy="762.3" r="0.7" fill="#555" opacity="0.55"/><circle cx="548.6" cy="730.8" r="0.5" fill="#555" opacity="0.55"/><circle cx="554.5" cy="798.6" r="0.5" fill="#555" opacity="0.55"/><circle cx="568.5" cy="772.8" r="0.5" fill="#555" opacity="0.55"/><circle cx="559.5" cy="776.3" r="0.7" fill="#555" opacity="0.55"/><circle cx="558" cy="751.6" r="0.7" fill="#555" opacity="0.55"/><circle cx="570" cy="766.9" r="0.5" fill="#555" opacity="0.55"/><circle cx="572.9" cy="782.1" r="0.4" fill="#555" opacity="0.55"/><circle cx="546.8" cy="733.6" r="0.7" fill="#555" opacity="0.55"/><circle cx="574.1" cy="773.5" r="0.4" fill="#555" opacity="0.55"/><circle cx="575.1" cy="745.8" r="0.5" fill="#555" opacity="0.55"/><circle cx="553" cy="800.2" r="0.6" fill="#555" opacity="0.55"/><circle cx="577.8" cy="776.3" r="0.5" fill="#555" opacity="0.55"/><circle cx="570.4" cy="744.7" r="0.4" fill="#555" opacity="0.55"/><circle cx="577.1" cy="750.3" r="0.4" fill="#555" opacity="0.55"/><circle cx="536.8" cy="747.5" r="0.4" fill="#555" opacity="0.55"/><circle cx="545" cy="753.1" r="0.7" fill="#555" opacity="0.55"/><circle cx="538.5" cy="748.2" r="0.5" fill="#555" opacity="0.55"/><circle cx="532.8" cy="743.4" r="0.5" fill="#555" opacity="0.55"/><circle cx="550.7" cy="799" r="0.4" fill="#555" opacity="0.55"/><circle cx="546.1" cy="734.8" r="0.6" fill="#555" opacity="0.55"/><circle cx="569.1" cy="782.3" r="0.4" fill="#555" opacity="0.55"/><circle cx="560" cy="745.6" r="0.6" fill="#555" opacity="0.55"/><circle cx="562.4" cy="750.8" r="0.7" fill="#555" opacity="0.55"/><circle cx="543" cy="742.1" r="0.4" fill="#555" opacity="0.55"/><circle cx="561.2" cy="782.4" r="0.6" fill="#555" opacity="0.55"/><circle cx="533" cy="747.1" r="0.6" fill="#555" opacity="0.55"/><circle cx="573.8" cy="749.8" r="0.5" fill="#555" opacity="0.55"/><circle cx="577.9" cy="750.5" r="0.4" fill="#555" opacity="0.55"/><circle cx="559.5" cy="775.8" r="0.7" fill="#555" opacity="0.55"/><circle cx="534.4" cy="749.6" r="0.4" fill="#555" opacity="0.55"/><circle cx="552.5" cy="762.5" r="0.6" fill="#555" opacity="0.55"/><circle cx="568.9" cy="768.5" r="0.5" fill="#555" opacity="0.55"/><circle cx="562.9" cy="744.5" r="0.6" fill="#555" opacity="0.55"/><circle cx="574.5" cy="762.4" r="0.7" fill="#555" opacity="0.55"/><circle cx="571.3" cy="778.5" r="0.6" fill="#555" opacity="0.55"/><circle cx="543.4" cy="739.7" r="0.4" fill="#555" opacity="0.55"/><circle cx="566.4" cy="733.8" r="0.4" fill="#555" opacity="0.55"/><circle cx="532.9" cy="740.6" r="0.6" fill="#555" opacity="0.55"/><circle cx="547.8" cy="749" r="0.5" fill="#555" opacity="0.55"/><circle cx="553.2" cy="727.8" r="0.6" fill="#555" opacity="0.55"/><circle cx="572.6" cy="769.1" r="0.5" fill="#555" opacity="0.55"/><circle cx="556.7" cy="733.4" r="0.5" fill="#555" opacity="0.55"/><circle cx="569.9" cy="778.8" r="0.5" fill="#555" opacity="0.55"/><circle cx="547.9" cy="737.8" r="0.5" fill="#555" opacity="0.55"/><circle cx="544.1" cy="738.2" r="0.6" fill="#555" opacity="0.55"/><circle cx="559.1" cy="757.5" r="0.4" fill="#555" opacity="0.55"/><circle cx="571.3" cy="738.4" r="0.4" fill="#555" opacity="0.55"/><circle cx="562" cy="778.3" r="0.7" fill="#555" opacity="0.55"/><circle cx="572.3" cy="727.8" r="0.4" fill="#555" opacity="0.55"/><circle cx="572.4" cy="772.6" r="0.4" fill="#555" opacity="0.55"/><circle cx="548.8" cy="735.7" r="0.6" fill="#555" opacity="0.55"/><circle cx="577.8" cy="758.8" r="0.4" fill="#555" opacity="0.55"/><circle cx="576" cy="760.1" r="0.7" fill="#555" opacity="0.55"/><circle cx="584.7" cy="785.7" r="0.5" fill="#555" opacity="0.55"/><circle cx="558.6" cy="739.4" r="0.4" fill="#555" opacity="0.55"/><circle cx="573.1" cy="753.2" r="0.6" fill="#555" opacity="0.55"/><circle cx="563.6" cy="752.8" r="0.4" fill="#555" opacity="0.55"/><circle cx="579.4" cy="785" r="0.5" fill="#555" opacity="0.55"/><circle cx="560.3" cy="728.4" r="0.5" fill="#555" opacity="0.55"/><circle cx="557.1" cy="773.4" r="0.4" fill="#555" opacity="0.55"/><circle cx="550.5" cy="731" r="0.6" fill="#555" opacity="0.55"/><circle cx="534" cy="738.6" r="0.5" fill="#555" opacity="0.55"/><circle cx="563.6" cy="773.1" r="0.6" fill="#555" opacity="0.55"/><circle cx="554.2" cy="728.1" r="0.6" fill="#555" opacity="0.55"/><circle cx="571.9" cy="741.8" r="0.6" fill="#555" opacity="0.55"/><circle cx="570.5" cy="760.1" r="0.4" fill="#555" opacity="0.55"/><circle cx="529.9" cy="741.7" r="0.7" fill="#555" opacity="0.55"/><circle cx="540.6" cy="753.8" r="0.6" fill="#555" opacity="0.55"/><circle cx="573.7" cy="725.8" r="0.4" fill="#555" opacity="0.55"/><circle cx="574.7" cy="731" r="0.7" fill="#555" opacity="0.55"/><circle cx="571.7" cy="737.6" r="0.6" fill="#555" opacity="0.55"/><circle cx="583.3" cy="795.3" r="0.4" fill="#555" opacity="0.55"/><circle cx="565.8" cy="769.8" r="0.6" fill="#555" opacity="0.55"/><circle cx="561" cy="745.8" r="0.5" fill="#555" opacity="0.55"/><circle cx="578.2" cy="759" r="0.4" fill="#555" opacity="0.55"/><circle cx="567.8" cy="739.2" r="0.5" fill="#555" opacity="0.55"/><circle cx="561.1" cy="750.7" r="0.4" fill="#555" opacity="0.55"/><circle cx="549.5" cy="746.7" r="0.6" fill="#555" opacity="0.55"/><circle cx="555.2" cy="755" r="0.6" fill="#555" opacity="0.55"/><circle cx="584.8" cy="789" r="0.6" fill="#555" opacity="0.55"/><circle cx="571.4" cy="742.8" r="0.5" fill="#555" opacity="0.55"/><circle cx="548.3" cy="748.5" r="0.4" fill="#555" opacity="0.55"/><circle cx="543.5" cy="742.6" r="0.5" fill="#555" opacity="0.55"/><circle cx="583.1" cy="795.6" r="0.5" fill="#555" opacity="0.55"/><circle cx="575.6" cy="784.1" r="0.7" fill="#555" opacity="0.55"/><circle cx="549.5" cy="765.3" r="0.7" fill="#555" opacity="0.55"/><circle cx="567.8" cy="765.4" r="0.7" fill="#555" opacity="0.55"/><circle cx="531.6" cy="739.6" r="0.5" fill="#555" opacity="0.55"/><circle cx="570.4" cy="781.8" r="0.6" fill="#555" opacity="0.55"/><circle cx="541.9" cy="743.1" r="0.4" fill="#555" opacity="0.55"/><circle cx="570.4" cy="739.3" r="0.4" fill="#555" opacity="0.55"/><circle cx="564" cy="774.7" r="0.6" fill="#555" opacity="0.55"/><circle cx="570.7" cy="746.8" r="0.4" fill="#555" opacity="0.55"/><circle cx="549.2" cy="734.1" r="0.4" fill="#555" opacity="0.55"/><circle cx="570.2" cy="744.4" r="0.6" fill="#555" opacity="0.55"/><circle cx="545.4" cy="755.1" r="0.6" fill="#555" opacity="0.55"/><circle cx="563.7" cy="775.1" r="0.4" fill="#555" opacity="0.55"/><circle cx="567.9" cy="767.9" r="0.4" fill="#555" opacity="0.55"/><circle cx="572.5" cy="733.7" r="0.6" fill="#555" opacity="0.55"/><circle cx="542.1" cy="751.8" r="0.5" fill="#555" opacity="0.55"/><circle cx="533" cy="742.4" r="0.6" fill="#555" opacity="0.55"/><circle cx="544.2" cy="752.9" r="0.6" fill="#555" opacity="0.55"/><circle cx="540.3" cy="738.1" r="0.4" fill="#555" opacity="0.55"/><circle cx="550.6" cy="751.7" r="0.6" fill="#555" opacity="0.55"/><circle cx="556.3" cy="791.6" r="0.4" fill="#555" opacity="0.55"/><circle cx="554.1" cy="732" r="0.5" fill="#555" opacity="0.55"/><circle cx="571.8" cy="730.2" r="0.4" fill="#555" opacity="0.55"/><circle cx="556.8" cy="736.5" r="0.4" fill="#555" opacity="0.55"/><circle cx="554.2" cy="732.2" r="0.4" fill="#555" opacity="0.55"/><circle cx="549.1" cy="759.9" r="0.7" fill="#555" opacity="0.55"/><circle cx="561.6" cy="728.5" r="0.4" fill="#555" opacity="0.55"/><circle cx="541.3" cy="736.3" r="0.7" fill="#555" opacity="0.55"/><circle cx="546.3" cy="739" r="0.6" fill="#555" opacity="0.55"/><circle cx="549.1" cy="732.3" r="0.7" fill="#555" opacity="0.55"/><circle cx="556.9" cy="737" r="0.4" fill="#555" opacity="0.55"/><circle cx="568" cy="763.5" r="0.4" fill="#555" opacity="0.55"/><circle cx="560.5" cy="741.3" r="0.5" fill="#555" opacity="0.55"/><circle cx="564.9" cy="774.3" r="0.4" fill="#555" opacity="0.55"/><circle cx="537.5" cy="740.7" r="0.6" fill="#555" opacity="0.55"/><circle cx="554.2" cy="733.9" r="0.4" fill="#555" opacity="0.55"/><circle cx="569.7" cy="723.8" r="0.7" fill="#555" opacity="0.55"/><circle cx="540.9" cy="760.5" r="0.5" fill="#555" opacity="0.55"/><circle cx="555.3" cy="740.7" r="0.7" fill="#555" opacity="0.55"/><circle cx="546.6" cy="755" r="0.5" fill="#555" opacity="0.55"/><circle cx="569" cy="724.6" r="0.5" fill="#555" opacity="0.55"/><circle cx="542.5" cy="758.7" r="0.5" fill="#555" opacity="0.55"/><circle cx="571.8" cy="733.7" r="0.4" fill="#555" opacity="0.55"/><circle cx="540.9" cy="736" r="0.6" fill="#555" opacity="0.55"/><circle cx="555" cy="755.1" r="0.7" fill="#555" opacity="0.55"/><circle cx="544.5" cy="745.7" r="0.7" fill="#555" opacity="0.55"/><circle cx="558.9" cy="732" r="0.4" fill="#555" opacity="0.55"/></g>
<g clip-path="url(#c02)"><rect x="604.2" y="720.4" width="81" height="81" fill="#fdfdfd"/><g filter="url(#cb)"><path d="M608.6,743.1C609.8,741.1 613.4,739 615.8,737.2C618.2,735.4 621,733.8 623,732.4C625,731 625.3,729.9 627.7,728.8C630.1,727.7 634.5,726.7 637.3,725.8C640.1,724.9 641.7,723.9 644.5,723.4C647.3,722.9 650.9,722.3 654.1,722.8C657.3,723.3 662.4,724.6 663.6,726.4C664.8,728.2 662,731.4 661.2,733.6C660.4,735.8 659.1,737.4 658.9,739.6C658.7,741.8 659.5,744.1 660.1,746.7C660.7,749.3 662.3,752.7 662.5,755.1C662.7,757.5 662.3,759.3 661.3,761.1C660.3,762.9 657.3,764.1 656.5,765.9C655.7,767.7 655.7,770.1 656.5,771.9C657.3,773.7 659.7,775.1 661.3,776.7C662.9,778.3 664.5,779.7 666.1,781.5C667.7,783.3 669.6,785.2 670.8,787.4C672,789.6 672.9,792.2 673.2,794.6C673.5,797 674,800.7 672.7,801.9C671.5,803.1 667.2,803.5 665.7,801.9C664.2,800.3 665,795 663.7,792.2C662.4,789.4 660.1,786.6 657.7,785C655.3,783.4 651.5,782.6 649.3,782.6C647.1,782.6 646.1,783.4 644.5,785C642.9,786.6 641,789.4 639.7,792.2C638.4,795 638,800.3 636.7,801.9C635.5,803.5 632.3,803.5 632.2,801.9C632.1,800.3 634.6,795.4 636.1,792.2C637.6,789 640.3,785.6 640.9,782.6C641.5,779.6 640.9,776.7 639.7,774.3C638.5,771.9 635.9,770.1 633.7,768.3C631.5,766.5 628.8,764.9 626.6,763.5C624.4,762.1 622.8,761.5 620.6,759.9C618.4,758.3 615.4,755.7 613.4,753.9C611.4,752.1 609.4,750.9 608.6,749.1C607.8,747.3 607.4,745.1 608.6,743.1Z" fill="#f1f1f1" opacity="1" /><path d="M645.2,721.4C647,720.1 654.4,720.9 659.2,720.9C664,720.9 672.4,719.8 674.2,721.4C676,723 672.2,727.7 670.2,730.4C668.2,733.1 664.9,736.7 662.2,737.4C659.5,738.1 656.5,735.9 654.2,734.4C651.9,732.9 649.7,730.6 648.2,728.4C646.7,726.2 643.4,722.6 645.2,721.4Z" fill="#ececec" opacity="1" /><path d="M604.7,747.4C606,743.7 609.6,747.4 612.2,748.4C614.8,749.4 618.2,751.1 620.2,753.4C622.2,755.7 624,759.6 624.2,762.4C624.4,765.2 622.9,768.1 621.2,770.4C619.5,772.7 616.5,775.2 614.2,776.4C611.9,777.6 608.8,778.4 607.2,777.4C605.6,776.4 605.1,775.4 604.7,770.4C604.3,765.4 603.5,751.1 604.7,747.4Z" fill="#ececec" opacity="1" /><path d="M670.2,767.4C671.9,765.9 675.8,764.7 678.2,764.4C680.6,764.1 683.6,761.7 684.7,765.4C685.8,769.1 686.1,782.9 684.7,786.4C683.3,789.9 678.6,787.4 676.2,786.4C673.8,785.4 671.5,782.6 670.2,780.4C668.9,778.2 668.2,775.6 668.2,773.4C668.2,771.2 668.5,768.9 670.2,767.4Z" fill="#ececec" opacity="1" /></g><circle cx="645.2" cy="753" r="0.6" fill="#333" opacity="0.6"/><circle cx="655.7" cy="752.2" r="0.4" fill="#333" opacity="0.6"/><circle cx="646.7" cy="737.4" r="0.4" fill="#333" opacity="0.6"/><circle cx="632.3" cy="750" r="0.5" fill="#333" opacity="0.6"/><circle cx="643.7" cy="747.6" r="0.5" fill="#333" opacity="0.6"/><circle cx="637.1" cy="757.3" r="0.5" fill="#333" opacity="0.6"/><circle cx="644.7" cy="733.9" r="0.6" fill="#333" opacity="0.6"/><circle cx="650.8" cy="736.3" r="0.5" fill="#333" opacity="0.6"/><circle cx="658.3" cy="735.1" r="0.4" fill="#333" opacity="0.6"/><circle cx="626.4" cy="760" r="0.4" fill="#333" opacity="0.6"/><circle cx="645.4" cy="761.4" r="0.3" fill="#333" opacity="0.6"/><circle cx="626" cy="735.5" r="0.4" fill="#333" opacity="0.6"/><circle cx="634.1" cy="745.2" r="0.3" fill="#333" opacity="0.6"/><circle cx="641.8" cy="769.7" r="0.5" fill="#333" opacity="0.6"/><circle cx="631.8" cy="758.5" r="0.5" fill="#333" opacity="0.6"/><circle cx="623.9" cy="748" r="0.3" fill="#333" opacity="0.6"/><circle cx="645.9" cy="733" r="0.4" fill="#333" opacity="0.6"/><circle cx="653" cy="755.6" r="0.5" fill="#333" opacity="0.6"/><circle cx="624.8" cy="761.4" r="0.4" fill="#333" opacity="0.6"/><circle cx="642.6" cy="765.3" r="0.6" fill="#333" opacity="0.6"/><circle cx="642.1" cy="734.7" r="0.3" fill="#333" opacity="0.6"/><circle cx="639.7" cy="759.5" r="0.4" fill="#333" opacity="0.6"/><circle cx="623.8" cy="758.1" r="0.3" fill="#333" opacity="0.6"/><circle cx="626.3" cy="737.9" r="0.5" fill="#333" opacity="0.6"/><circle cx="658.9" cy="732.4" r="0.4" fill="#333" opacity="0.6"/><circle cx="639.2" cy="740.4" r="0.4" fill="#333" opacity="0.6"/><circle cx="637.3" cy="737.6" r="0.3" fill="#333" opacity="0.6"/><circle cx="620.2" cy="754.7" r="0.5" fill="#333" opacity="0.6"/><circle cx="627.8" cy="762.6" r="0.6" fill="#333" opacity="0.6"/><circle cx="631.2" cy="748.5" r="0.4" fill="#333" opacity="0.6"/><circle cx="657.1" cy="751.7" r="0.3" fill="#333" opacity="0.6"/><circle cx="623" cy="758" r="0.4" fill="#333" opacity="0.6"/><circle cx="647.7" cy="736.2" r="0.6" fill="#333" opacity="0.6"/><circle cx="651.5" cy="729.8" r="0.5" fill="#333" opacity="0.6"/><circle cx="624.6" cy="758.7" r="0.6" fill="#333" opacity="0.6"/><circle cx="651" cy="736.3" r="0.3" fill="#333" opacity="0.6"/><circle cx="645.4" cy="752" r="0.3" fill="#333" opacity="0.6"/><circle cx="624.7" cy="752.8" r="0.3" fill="#333" opacity="0.6"/><circle cx="644.1" cy="736.7" r="0.4" fill="#333" opacity="0.6"/><circle cx="634.8" cy="750.5" r="0.6" fill="#333" opacity="0.6"/><circle cx="625.9" cy="739.1" r="0.5" fill="#333" opacity="0.6"/><circle cx="646.6" cy="754.3" r="0.6" fill="#333" opacity="0.6"/><circle cx="625.2" cy="740" r="0.5" fill="#333" opacity="0.6"/><circle cx="627.7" cy="732.8" r="0.4" fill="#333" opacity="0.6"/><circle cx="650.1" cy="764.3" r="0.6" fill="#333" opacity="0.6"/><circle cx="629.8" cy="740.2" r="0.6" fill="#333" opacity="0.6"/><circle cx="618.6" cy="754" r="0.3" fill="#333" opacity="0.6"/><circle cx="618.4" cy="749.5" r="0.4" fill="#333" opacity="0.6"/><circle cx="636.5" cy="734.7" r="0.3" fill="#333" opacity="0.6"/><circle cx="638.5" cy="749.9" r="0.4" fill="#333" opacity="0.6"/><circle cx="647.7" cy="750.3" r="0.6" fill="#333" opacity="0.6"/><circle cx="633.2" cy="748.1" r="0.4" fill="#333" opacity="0.6"/><circle cx="645.6" cy="735.8" r="0.4" fill="#333" opacity="0.6"/><circle cx="637.2" cy="758.9" r="0.6" fill="#333" opacity="0.6"/><circle cx="632.6" cy="746.4" r="0.6" fill="#333" opacity="0.6"/><circle cx="657.3" cy="754.5" r="0.3" fill="#333" opacity="0.6"/><circle cx="636.3" cy="755.3" r="0.4" fill="#333" opacity="0.6"/><circle cx="656.2" cy="731.5" r="0.5" fill="#333" opacity="0.6"/><circle cx="643.5" cy="739.5" r="0.3" fill="#333" opacity="0.6"/><circle cx="649.2" cy="761.6" r="0.5" fill="#333" opacity="0.6"/><circle cx="620" cy="743.9" r="0.3" fill="#333" opacity="0.6"/><circle cx="628.9" cy="761.5" r="0.3" fill="#333" opacity="0.6"/><circle cx="623.4" cy="750.4" r="0.6" fill="#333" opacity="0.6"/><circle cx="623.6" cy="733.6" r="0.6" fill="#333" opacity="0.6"/><circle cx="634.9" cy="741.3" r="0.3" fill="#333" opacity="0.6"/><circle cx="621.3" cy="737.6" r="0.6" fill="#333" opacity="0.6"/><circle cx="642.8" cy="739" r="0.5" fill="#333" opacity="0.6"/><circle cx="647.7" cy="759.9" r="0.3" fill="#333" opacity="0.6"/><circle cx="631.1" cy="737.1" r="0.4" fill="#333" opacity="0.6"/><circle cx="630.3" cy="733.5" r="0.6" fill="#333" opacity="0.6"/><circle cx="631.2" cy="734.2" r="0.4" fill="#333" opacity="0.6"/><circle cx="652.4" cy="766" r="0.5" fill="#333" opacity="0.6"/><circle cx="642.9" cy="767.7" r="0.6" fill="#333" opacity="0.6"/><circle cx="630.6" cy="765.3" r="0.6" fill="#333" opacity="0.6"/><circle cx="627.9" cy="742.6" r="0.4" fill="#333" opacity="0.6"/><circle cx="631.7" cy="743.2" r="0.3" fill="#333" opacity="0.6"/><circle cx="634.3" cy="755.3" r="0.6" fill="#333" opacity="0.6"/><circle cx="649.4" cy="736.9" r="0.6" fill="#333" opacity="0.6"/><circle cx="648.2" cy="760.9" r="0.6" fill="#333" opacity="0.6"/><circle cx="627.3" cy="756.2" r="0.4" fill="#333" opacity="0.6"/><circle cx="653.1" cy="731.7" r="0.5" fill="#333" opacity="0.6"/><circle cx="631" cy="764" r="0.4" fill="#333" opacity="0.6"/><circle cx="653.3" cy="765.3" r="0.6" fill="#333" opacity="0.6"/><circle cx="648.9" cy="757.2" r="0.5" fill="#333" opacity="0.6"/><circle cx="640.3" cy="746.8" r="0.4" fill="#333" opacity="0.6"/><circle cx="650.6" cy="762.2" r="0.6" fill="#333" opacity="0.6"/><circle cx="625.6" cy="741.4" r="0.4" fill="#333" opacity="0.6"/><circle cx="620.6" cy="740.8" r="0.3" fill="#333" opacity="0.6"/><circle cx="651.2" cy="736.1" r="0.3" fill="#333" opacity="0.6"/><circle cx="624.9" cy="747.1" r="0.4" fill="#333" opacity="0.6"/><circle cx="629.8" cy="755.1" r="0.6" fill="#333" opacity="0.6"/><circle cx="636.9" cy="767.7" r="0.6" fill="#333" opacity="0.6"/><circle cx="641.4" cy="730.4" r="0.5" fill="#333" opacity="0.6"/><circle cx="652.7" cy="749.8" r="0.5" fill="#333" opacity="0.6"/><circle cx="634.5" cy="766.8" r="0.5" fill="#333" opacity="0.6"/><circle cx="625.3" cy="742.4" r="0.4" fill="#333" opacity="0.6"/><circle cx="635.2" cy="759.1" r="0.5" fill="#333" opacity="0.6"/><circle cx="620.3" cy="750" r="0.6" fill="#333" opacity="0.6"/><circle cx="650.9" cy="742.2" r="0.4" fill="#333" opacity="0.6"/><circle cx="649" cy="763.1" r="0.4" fill="#333" opacity="0.6"/><circle cx="635.3" cy="743.3" r="0.5" fill="#333" opacity="0.6"/><circle cx="657.1" cy="734.9" r="0.4" fill="#333" opacity="0.6"/><circle cx="630.7" cy="759.8" r="0.4" fill="#333" opacity="0.6"/><circle cx="640.3" cy="748.9" r="0.5" fill="#333" opacity="0.6"/><circle cx="651.2" cy="734" r="0.6" fill="#333" opacity="0.6"/><circle cx="640.5" cy="761.1" r="0.6" fill="#333" opacity="0.6"/><circle cx="638.3" cy="767.6" r="0.6" fill="#333" opacity="0.6"/><circle cx="658.2" cy="749.4" r="0.6" fill="#333" opacity="0.6"/><circle cx="640.8" cy="732.2" r="0.5" fill="#333" opacity="0.6"/><circle cx="651.5" cy="745.3" r="0.5" fill="#333" opacity="0.6"/><circle cx="627.6" cy="738.4" r="0.4" fill="#333" opacity="0.6"/><circle cx="638.8" cy="747.4" r="0.3" fill="#333" opacity="0.6"/><circle cx="647.7" cy="760.6" r="0.4" fill="#333" opacity="0.6"/><circle cx="627.4" cy="749.7" r="0.4" fill="#333" opacity="0.6"/><circle cx="642.7" cy="767.9" r="0.4" fill="#333" opacity="0.6"/><circle cx="642" cy="759.3" r="0.6" fill="#333" opacity="0.6"/><circle cx="647.5" cy="758.8" r="0.4" fill="#333" opacity="0.6"/><circle cx="635.7" cy="729.5" r="0.3" fill="#333" opacity="0.6"/><circle cx="651.3" cy="757.2" r="0.3" fill="#333" opacity="0.6"/><circle cx="636.4" cy="755.4" r="0.6" fill="#333" opacity="0.6"/><circle cx="631" cy="761.4" r="0.4" fill="#333" opacity="0.6"/><circle cx="625" cy="733" r="0.4" fill="#333" opacity="0.6"/><circle cx="643.4" cy="739.6" r="0.4" fill="#333" opacity="0.6"/><circle cx="624.7" cy="740.2" r="0.5" fill="#333" opacity="0.6"/><circle cx="624.3" cy="747.9" r="0.5" fill="#333" opacity="0.6"/><circle cx="659" cy="748.3" r="0.6" fill="#333" opacity="0.6"/><circle cx="636.9" cy="734.7" r="0.5" fill="#333" opacity="0.6"/><circle cx="658.7" cy="744.4" r="0.4" fill="#333" opacity="0.6"/><circle cx="634.9" cy="741.9" r="0.5" fill="#333" opacity="0.6"/><circle cx="633.4" cy="732.6" r="0.6" fill="#333" opacity="0.6"/><circle cx="653.6" cy="759.6" r="0.4" fill="#333" opacity="0.6"/><circle cx="643.9" cy="768.7" r="0.4" fill="#333" opacity="0.6"/><circle cx="635.2" cy="739.4" r="0.5" fill="#333" opacity="0.6"/><circle cx="645.4" cy="759.9" r="0.6" fill="#333" opacity="0.6"/><circle cx="622.6" cy="742.6" r="0.6" fill="#333" opacity="0.6"/><circle cx="651" cy="753.1" r="0.5" fill="#333" opacity="0.6"/><circle cx="640.4" cy="744.3" r="0.4" fill="#333" opacity="0.6"/><circle cx="651.4" cy="726.7" r="0.4" fill="#333" opacity="0.6"/><circle cx="637.3" cy="748.7" r="0.4" fill="#333" opacity="0.6"/><circle cx="655.6" cy="741.8" r="0.5" fill="#333" opacity="0.6"/><circle cx="657.1" cy="755.4" r="0.5" fill="#333" opacity="0.6"/><circle cx="630.8" cy="743.6" r="0.5" fill="#333" opacity="0.6"/><circle cx="650.8" cy="737.6" r="0.4" fill="#333" opacity="0.6"/><circle cx="633.3" cy="742.5" r="0.6" fill="#333" opacity="0.6"/><circle cx="639.9" cy="738.4" r="0.4" fill="#333" opacity="0.6"/><circle cx="652.3" cy="732.9" r="0.5" fill="#333" opacity="0.6"/><circle cx="622.7" cy="736.1" r="0.3" fill="#333" opacity="0.6"/><circle cx="627.8" cy="759.9" r="0.6" fill="#333" opacity="0.6"/><circle cx="640.4" cy="768.7" r="0.3" fill="#333" opacity="0.6"/><circle cx="656.9" cy="745.8" r="0.4" fill="#333" opacity="0.6"/><circle cx="649.1" cy="765.8" r="0.4" fill="#333" opacity="0.6"/><circle cx="649.4" cy="753.5" r="0.6" fill="#333" opacity="0.6"/><circle cx="647.4" cy="755" r="0.3" fill="#333" opacity="0.6"/><circle cx="623.3" cy="733.9" r="0.5" fill="#333" opacity="0.6"/><circle cx="635.3" cy="743.8" r="0.4" fill="#333" opacity="0.6"/><circle cx="623.9" cy="733.9" r="0.4" fill="#333" opacity="0.6"/><circle cx="631.6" cy="760" r="0.3" fill="#333" opacity="0.6"/><circle cx="639.5" cy="757.4" r="0.3" fill="#333" opacity="0.6"/><circle cx="635.5" cy="762.6" r="0.5" fill="#333" opacity="0.6"/><circle cx="636.1" cy="766.8" r="0.5" fill="#333" opacity="0.6"/><circle cx="631" cy="744" r="0.6" fill="#333" opacity="0.6"/><circle cx="640.9" cy="732.1" r="0.4" fill="#333" opacity="0.6"/><circle cx="633.1" cy="757.9" r="0.3" fill="#333" opacity="0.6"/><circle cx="651.5" cy="762.3" r="0.5" fill="#333" opacity="0.6"/><circle cx="634.4" cy="756.9" r="0.5" fill="#333" opacity="0.6"/><circle cx="648.2" cy="744.6" r="0.6" fill="#333" opacity="0.6"/><circle cx="643.3" cy="740.3" r="0.4" fill="#333" opacity="0.6"/><circle cx="651.1" cy="762.4" r="0.6" fill="#333" opacity="0.6"/><circle cx="630.2" cy="761" r="0.4" fill="#333" opacity="0.6"/><circle cx="643.1" cy="732.8" r="0.6" fill="#333" opacity="0.6"/><circle cx="659.4" cy="725.4" r="0.7" fill="#222" opacity="0.65"/><circle cx="667.2" cy="723.4" r="0.6" fill="#222" opacity="0.65"/><circle cx="661.8" cy="735.9" r="0.5" fill="#222" opacity="0.65"/><circle cx="648.2" cy="725.5" r="0.3" fill="#222" opacity="0.65"/><circle cx="670.5" cy="728.2" r="0.6" fill="#222" opacity="0.65"/><circle cx="664" cy="722.5" r="0.5" fill="#222" opacity="0.65"/><circle cx="666.1" cy="724.4" r="0.6" fill="#222" opacity="0.65"/><circle cx="653.3" cy="727" r="0.7" fill="#222" opacity="0.65"/><circle cx="657.6" cy="730.3" r="0.6" fill="#222" opacity="0.65"/><circle cx="667.2" cy="728.4" r="0.6" fill="#222" opacity="0.65"/><circle cx="658.9" cy="722.9" r="0.6" fill="#222" opacity="0.65"/><circle cx="660.9" cy="733.1" r="0.4" fill="#222" opacity="0.65"/><circle cx="663.7" cy="727.1" r="0.4" fill="#222" opacity="0.65"/><circle cx="668.8" cy="721.4" r="0.5" fill="#222" opacity="0.65"/><circle cx="671.1" cy="721.5" r="0.5" fill="#222" opacity="0.65"/><circle cx="658.8" cy="732.8" r="0.6" fill="#222" opacity="0.65"/><circle cx="650.6" cy="723.2" r="0.6" fill="#222" opacity="0.65"/><circle cx="648.7" cy="724" r="0.5" fill="#222" opacity="0.65"/><circle cx="655" cy="723.6" r="0.7" fill="#222" opacity="0.65"/><circle cx="658.9" cy="733.9" r="0.4" fill="#222" opacity="0.65"/><circle cx="671.7" cy="724.5" r="0.7" fill="#222" opacity="0.65"/><circle cx="667.6" cy="731.3" r="0.5" fill="#222" opacity="0.65"/><circle cx="670" cy="728.2" r="0.3" fill="#222" opacity="0.65"/><circle cx="665" cy="733.2" r="0.4" fill="#222" opacity="0.65"/><circle cx="658.6" cy="734.5" r="0.7" fill="#222" opacity="0.65"/><circle cx="672" cy="723.5" r="0.6" fill="#222" opacity="0.65"/><circle cx="661.3" cy="727.6" r="0.4" fill="#222" opacity="0.65"/><circle cx="649.2" cy="728.7" r="0.5" fill="#222" opacity="0.65"/><circle cx="653" cy="727" r="0.5" fill="#222" opacity="0.65"/><circle cx="667.3" cy="730.6" r="0.4" fill="#222" opacity="0.65"/><circle cx="670.9" cy="727" r="0.7" fill="#222" opacity="0.65"/><circle cx="662.1" cy="736.9" r="0.5" fill="#222" opacity="0.65"/><circle cx="661.1" cy="726.1" r="0.3" fill="#222" opacity="0.65"/><circle cx="651.1" cy="722.9" r="0.4" fill="#222" opacity="0.65"/><circle cx="663.5" cy="730.2" r="0.7" fill="#222" opacity="0.65"/><circle cx="665.1" cy="726.9" r="0.7" fill="#222" opacity="0.65"/><circle cx="663.6" cy="729.9" r="0.6" fill="#222" opacity="0.65"/><circle cx="664.6" cy="726.8" r="0.5" fill="#222" opacity="0.65"/><circle cx="661.2" cy="724.3" r="0.5" fill="#222" opacity="0.65"/><circle cx="664.6" cy="732.2" r="0.7" fill="#222" opacity="0.65"/><circle cx="605.7" cy="760.2" r="0.7" fill="#222" opacity="0.65"/><circle cx="610.8" cy="764.5" r="0.3" fill="#222" opacity="0.65"/><circle cx="612.8" cy="774.5" r="0.5" fill="#222" opacity="0.65"/><circle cx="608.7" cy="752.8" r="0.6" fill="#222" opacity="0.65"/><circle cx="606.7" cy="775.4" r="0.4" fill="#222" opacity="0.65"/><circle cx="621.9" cy="762.9" r="0.4" fill="#222" opacity="0.65"/><circle cx="606.9" cy="769.8" r="0.4" fill="#222" opacity="0.65"/><circle cx="607.6" cy="758.3" r="0.6" fill="#222" opacity="0.65"/><circle cx="617.4" cy="752.2" r="0.6" fill="#222" opacity="0.65"/><circle cx="615.4" cy="758.2" r="0.7" fill="#222" opacity="0.65"/><circle cx="609.7" cy="751.6" r="0.4" fill="#222" opacity="0.65"/><circle cx="607.6" cy="765.1" r="0.6" fill="#222" opacity="0.65"/><circle cx="607.8" cy="762.5" r="0.5" fill="#222" opacity="0.65"/><circle cx="615.6" cy="759.8" r="0.5" fill="#222" opacity="0.65"/><circle cx="605" cy="749.1" r="0.5" fill="#222" opacity="0.65"/><circle cx="609.3" cy="770.1" r="0.4" fill="#222" opacity="0.65"/><circle cx="606.5" cy="761.7" r="0.5" fill="#222" opacity="0.65"/><circle cx="611.2" cy="770.4" r="0.4" fill="#222" opacity="0.65"/><circle cx="617.8" cy="772.4" r="0.5" fill="#222" opacity="0.65"/><circle cx="614.5" cy="775.1" r="0.5" fill="#222" opacity="0.65"/><circle cx="608.2" cy="749.5" r="0.3" fill="#222" opacity="0.65"/><circle cx="611.2" cy="750.1" r="0.6" fill="#222" opacity="0.65"/><circle cx="613" cy="756.7" r="0.5" fill="#222" opacity="0.65"/><circle cx="607.7" cy="756.6" r="0.4" fill="#222" opacity="0.65"/><circle cx="613.1" cy="752.4" r="0.3" fill="#222" opacity="0.65"/><circle cx="607.1" cy="772.8" r="0.6" fill="#222" opacity="0.65"/><circle cx="607.8" cy="766.2" r="0.3" fill="#222" opacity="0.65"/><circle cx="614.6" cy="757.5" r="0.3" fill="#222" opacity="0.65"/><circle cx="619.2" cy="768.9" r="0.5" fill="#222" opacity="0.65"/><circle cx="608" cy="767.5" r="0.5" fill="#222" opacity="0.65"/><circle cx="609" cy="759.4" r="0.4" fill="#222" opacity="0.65"/><circle cx="606.4" cy="768" r="0.7" fill="#222" opacity="0.65"/><circle cx="611.2" cy="755.4" r="0.6" fill="#222" opacity="0.65"/><circle cx="609" cy="759.4" r="0.6" fill="#222" opacity="0.65"/><circle cx="613.1" cy="752.1" r="0.3" fill="#222" opacity="0.65"/><circle cx="614.5" cy="762.1" r="0.4" fill="#222" opacity="0.65"/><circle cx="617.8" cy="762.3" r="0.6" fill="#222" opacity="0.65"/><circle cx="610.4" cy="775.4" r="0.6" fill="#222" opacity="0.65"/><circle cx="613.9" cy="751.6" r="0.5" fill="#222" opacity="0.65"/><circle cx="607.2" cy="768" r="0.6" fill="#222" opacity="0.65"/><circle cx="677.7" cy="785.9" r="0.3" fill="#222" opacity="0.65"/><circle cx="680" cy="782" r="0.3" fill="#222" opacity="0.65"/><circle cx="677.8" cy="780.3" r="0.4" fill="#222" opacity="0.65"/><circle cx="679.7" cy="772.5" r="0.6" fill="#222" opacity="0.65"/><circle cx="682.5" cy="778.4" r="0.4" fill="#222" opacity="0.65"/><circle cx="682.6" cy="780.2" r="0.3" fill="#222" opacity="0.65"/><circle cx="674.5" cy="779.2" r="0.3" fill="#222" opacity="0.65"/><circle cx="668.9" cy="772.2" r="0.6" fill="#222" opacity="0.65"/><circle cx="684.6" cy="771.4" r="0.7" fill="#222" opacity="0.65"/><circle cx="681.2" cy="783.4" r="0.5" fill="#222" opacity="0.65"/><circle cx="684.2" cy="778.6" r="0.7" fill="#222" opacity="0.65"/><circle cx="677.5" cy="768.7" r="0.5" fill="#222" opacity="0.65"/><circle cx="676.2" cy="771.8" r="0.4" fill="#222" opacity="0.65"/><circle cx="676.6" cy="777.3" r="0.4" fill="#222" opacity="0.65"/><circle cx="672.8" cy="775.5" r="0.5" fill="#222" opacity="0.65"/><circle cx="675.1" cy="779" r="0.4" fill="#222" opacity="0.65"/><circle cx="677" cy="770.5" r="0.6" fill="#222" opacity="0.65"/><circle cx="679.8" cy="781.6" r="0.5" fill="#222" opacity="0.65"/><circle cx="676.6" cy="772.7" r="0.4" fill="#222" opacity="0.65"/><circle cx="674.8" cy="780" r="0.6" fill="#222" opacity="0.65"/><circle cx="676.2" cy="780.5" r="0.4" fill="#222" opacity="0.65"/><circle cx="675.7" cy="772.3" r="0.4" fill="#222" opacity="0.65"/><circle cx="674.1" cy="781" r="0.6" fill="#222" opacity="0.65"/><circle cx="671.6" cy="769.5" r="0.6" fill="#222" opacity="0.65"/><circle cx="679" cy="779.3" r="0.6" fill="#222" opacity="0.65"/><circle cx="679.6" cy="770.4" r="0.3" fill="#222" opacity="0.65"/><circle cx="684.1" cy="775.9" r="0.6" fill="#222" opacity="0.65"/><circle cx="684.1" cy="782.1" r="0.4" fill="#222" opacity="0.65"/><circle cx="673.8" cy="766.8" r="0.6" fill="#222" opacity="0.65"/><circle cx="680.4" cy="775.1" r="0.4" fill="#222" opacity="0.65"/><circle cx="672.7" cy="775.1" r="0.6" fill="#222" opacity="0.65"/><circle cx="683" cy="783.1" r="0.6" fill="#222" opacity="0.65"/><circle cx="675.4" cy="773.7" r="0.4" fill="#222" opacity="0.65"/><circle cx="684.3" cy="768.4" r="0.4" fill="#222" opacity="0.65"/><circle cx="682.3" cy="771.7" r="0.6" fill="#222" opacity="0.65"/><circle cx="682.9" cy="773.8" r="0.4" fill="#222" opacity="0.65"/><circle cx="681" cy="772.6" r="0.3" fill="#222" opacity="0.65"/><circle cx="683.1" cy="774.1" r="0.5" fill="#222" opacity="0.65"/><circle cx="678" cy="770" r="0.3" fill="#222" opacity="0.65"/><circle cx="674.6" cy="772.7" r="0.3" fill="#222" opacity="0.65"/></g>
<g clip-path="url(#c10)"><rect x="439" y="805.1" width="81" height="81" fill="#020402"/><g filter="url(#cb)"><path d="M439.5,811.3C441.3,808.3 446.3,810.1 450.1,810.1C453.9,810.1 458.4,811.3 462.2,811.3C466,811.3 470.9,809.3 473.1,810.1C475.3,810.9 474.8,814.1 475.6,816.1C476.4,818.1 476.6,820.1 478,822.1C479.4,824.1 482.8,826.4 484,828.2C485.2,830 486.9,831.3 485.3,833.1C483.7,834.9 477.6,837.1 474.4,839.1C471.2,841.1 467.9,843.4 465.9,845.2C463.9,847 463.8,849.8 462.2,850C460.6,850.2 458.2,848 456.2,846.4C454.2,844.8 452.3,842.3 450.1,840.3C447.9,838.3 444.6,836.3 442.8,834.3C441,832.3 440.1,832 439.5,828.2C438.9,824.4 437.7,814.3 439.5,811.3Z" fill="#123012" opacity="1" /><ellipse cx="447.7" cy="830.1" rx="6" ry="6" fill="#0b1d0b" opacity="1" /><path d="M465.9,845.2C466.7,843.8 468.1,842.4 469.5,841.6C470.9,840.8 473,840.8 474.4,840.4C475.8,840 476.4,839.6 478,839.1C479.6,838.6 482.2,837.9 484,837.3C485.8,836.7 487.5,836.2 488.9,835.5C490.3,834.8 491.3,833.6 492.5,833.1C493.7,832.6 495.3,832.1 496.2,832.5C497.1,832.9 497.6,834.4 498,835.5C498.4,836.6 497.7,837.9 498.6,839.1C499.5,840.3 502.5,841.4 503.4,842.8C504.3,844.2 504.2,846 504,847.6C503.8,849.2 502.2,850.9 502.2,852.5C502.2,854.1 503.2,855.7 504,857.3C504.8,858.9 506.5,861.1 507.1,862.2C507.7,863.3 508.1,863.4 507.7,864C507.3,864.6 505.3,864.9 504.6,865.8C503.9,866.7 504.2,868.2 503.4,869.4C502.6,870.6 500.8,871.9 499.8,873.1C498.8,874.3 498.8,875.7 497.4,876.7C496,877.7 493.5,878.5 491.3,879.1C489.1,879.7 486.2,880.4 484,880.3C481.8,880.2 479.6,879.5 478,878.5C476.4,877.5 475.4,875.8 474.4,874.3C473.4,872.8 472.9,871 471.9,869.4C470.9,867.8 469.5,866.2 468.3,864.6C467.1,863 465.4,861.3 464.7,859.7C464,858.1 464.1,856.5 464.1,854.9C464.1,853.3 464.4,851.7 464.7,850.1C465,848.5 465.1,846.6 465.9,845.2Z" fill="#278427" opacity="1" /><ellipse cx="474.4" cy="857.9" rx="5.6" ry="6.5" fill="#134013" opacity="1" /></g><circle cx="480.3" cy="868.9" r="0.4" fill="#5cb85c" opacity="0.45"/><circle cx="493.7" cy="862.4" r="0.4" fill="#5cb85c" opacity="0.45"/><circle cx="490.7" cy="846.5" r="0.4" fill="#5cb85c" opacity="0.45"/><circle cx="489.2" cy="847.9" r="0.4" fill="#5cb85c" opacity="0.45"/><circle cx="478.3" cy="863.3" r="0.5" fill="#5cb85c" opacity="0.45"/><circle cx="486.3" cy="838.3" r="0.4" fill="#5cb85c" opacity="0.45"/><circle cx="477.7" cy="852.4" r="0.4" fill="#5cb85c" opacity="0.45"/><circle cx="501.4" cy="844.1" r="0.5" fill="#5cb85c" opacity="0.45"/><circle cx="498.8" cy="871.2" r="0.4" fill="#5cb85c" opacity="0.45"/><circle cx="497.9" cy="855.4" r="0.6" fill="#5cb85c" opacity="0.45"/><circle cx="466.5" cy="850.7" r="0.4" fill="#5cb85c" opacity="0.45"/><circle cx="491.3" cy="869.7" r="0.6" fill="#5cb85c" opacity="0.45"/><circle cx="488" cy="851" r="0.5" fill="#5cb85c" opacity="0.45"/><circle cx="468.7" cy="844.9" r="0.5" fill="#5cb85c" opacity="0.45"/><circle cx="483.3" cy="880" r="0.4" fill="#5cb85c" opacity="0.45"/><circle cx="484.2" cy="842.7" r="0.4" fill="#5cb85c" opacity="0.45"/><circle cx="480.2" cy="853.2" r="0.5" fill="#5cb85c" opacity="0.45"/><circle cx="476.7" cy="866.1" r="0.5" fill="#5cb85c" opacity="0.45"/><circle cx="486.4" cy="856.1" r="0.4" fill="#5cb85c" opacity="0.45"/><circle cx="501.6" cy="842.5" r="0.6" fill="#5cb85c" opacity="0.45"/><circle cx="479.7" cy="848.5" r="0.5" fill="#5cb85c" opacity="0.45"/><circle cx="488.7" cy="846.1" r="0.4" fill="#5cb85c" opacity="0.45"/><circle cx="469.1" cy="863.9" r="0.5" fill="#5cb85c" opacity="0.45"/><circle cx="478.4" cy="848.2" r="0.6" fill="#5cb85c" opacity="0.45"/><circle cx="478.9" cy="852.5" r="0.6" fill="#5cb85c" opacity="0.45"/><circle cx="479.8" cy="851.7" r="0.4" fill="#5cb85c" opacity="0.45"/><circle cx="493" cy="864.3" r="0.5" fill="#5cb85c" opacity="0.45"/><circle cx="481.8" cy="843.6" r="0.5" fill="#5cb85c" opacity="0.45"/><circle cx="484" cy="872.3" r="0.4" fill="#5cb85c" opacity="0.45"/><circle cx="496.1" cy="833.9" r="0.4" fill="#5cb85c" opacity="0.45"/><circle cx="493.6" cy="856.3" r="0.5" fill="#5cb85c" opacity="0.45"/><circle cx="492.2" cy="865.7" r="0.4" fill="#5cb85c" opacity="0.45"/><circle cx="492.2" cy="839" r="0.5" fill="#5cb85c" opacity="0.45"/><circle cx="491" cy="838.9" r="0.4" fill="#5cb85c" opacity="0.45"/><circle cx="493.7" cy="858.6" r="0.5" fill="#5cb85c" opacity="0.45"/><circle cx="498.1" cy="859.8" r="0.4" fill="#5cb85c" opacity="0.45"/><circle cx="483.4" cy="872.2" r="0.5" fill="#5cb85c" opacity="0.45"/><circle cx="496.9" cy="849.9" r="0.5" fill="#5cb85c" opacity="0.45"/><circle cx="492.6" cy="837.6" r="0.5" fill="#5cb85c" opacity="0.45"/><circle cx="475.8" cy="872.9" r="0.4" fill="#5cb85c" opacity="0.45"/><circle cx="500.2" cy="857.4" r="0.4" fill="#5cb85c" opacity="0.45"/><circle cx="500.3" cy="865.4" r="0.5" fill="#5cb85c" opacity="0.45"/><circle cx="501.7" cy="842.2" r="0.6" fill="#5cb85c" opacity="0.45"/><circle cx="467.2" cy="862.3" r="0.4" fill="#5cb85c" opacity="0.45"/><circle cx="471.1" cy="846.5" r="0.4" fill="#5cb85c" opacity="0.45"/><circle cx="483.3" cy="870.5" r="0.4" fill="#5cb85c" opacity="0.45"/><circle cx="496" cy="843.4" r="0.4" fill="#5cb85c" opacity="0.45"/><circle cx="504.4" cy="858.9" r="0.5" fill="#5cb85c" opacity="0.45"/><circle cx="494.6" cy="854.7" r="0.5" fill="#5cb85c" opacity="0.45"/><circle cx="484" cy="841.9" r="0.6" fill="#5cb85c" opacity="0.45"/><circle cx="476.4" cy="868.1" r="0.6" fill="#5cb85c" opacity="0.45"/><circle cx="474.9" cy="865.7" r="0.4" fill="#5cb85c" opacity="0.45"/><circle cx="473.9" cy="842.9" r="0.6" fill="#5cb85c" opacity="0.45"/><circle cx="480.2" cy="856.9" r="0.5" fill="#5cb85c" opacity="0.45"/><circle cx="496.6" cy="874.4" r="0.4" fill="#5cb85c" opacity="0.45"/><circle cx="473.2" cy="849.1" r="0.5" fill="#5cb85c" opacity="0.45"/><circle cx="492.8" cy="851.9" r="0.5" fill="#5cb85c" opacity="0.45"/><circle cx="484.7" cy="856.7" r="0.5" fill="#5cb85c" opacity="0.45"/><circle cx="472.7" cy="867" r="0.4" fill="#5cb85c" opacity="0.45"/><circle cx="485.1" cy="850.5" r="0.5" fill="#5cb85c" opacity="0.45"/><circle cx="464.8" cy="834.1" r="0.6" fill="#a030a0" opacity="0.7"/><circle cx="475.5" cy="837.2" r="0.7" fill="#a030a0" opacity="0.7"/><circle cx="459.5" cy="837" r="0.7" fill="#a030a0" opacity="0.7"/><circle cx="448.2" cy="814.1" r="0.5" fill="#a030a0" opacity="0.7"/><circle cx="462.8" cy="816" r="0.5" fill="#a030a0" opacity="0.7"/><circle cx="479.2" cy="825.6" r="0.5" fill="#a030a0" opacity="0.7"/><circle cx="464.1" cy="827.6" r="0.6" fill="#a030a0" opacity="0.7"/><circle cx="465.6" cy="831.6" r="0.5" fill="#a030a0" opacity="0.7"/><circle cx="475.3" cy="822.3" r="0.7" fill="#a030a0" opacity="0.7"/><circle cx="469.2" cy="824.9" r="0.6" fill="#a030a0" opacity="0.7"/><circle cx="471.2" cy="816.2" r="0.6" fill="#a030a0" opacity="0.7"/><circle cx="473.1" cy="814.1" r="0.7" fill="#a030a0" opacity="0.7"/><circle cx="450.9" cy="813.5" r="0.5" fill="#a030a0" opacity="0.7"/><circle cx="451" cy="822.1" r="0.6" fill="#a030a0" opacity="0.7"/><circle cx="456.5" cy="841.6" r="0.7" fill="#a030a0" opacity="0.7"/><circle cx="444.7" cy="819" r="0.4" fill="#a030a0" opacity="0.7"/><circle cx="454.6" cy="814.4" r="0.6" fill="#a030a0" opacity="0.7"/><circle cx="449.1" cy="811.6" r="0.7" fill="#a030a0" opacity="0.7"/><circle cx="458.4" cy="847.3" r="0.5" fill="#a030a0" opacity="0.7"/><circle cx="453.8" cy="813" r="0.7" fill="#a030a0" opacity="0.7"/><circle cx="463" cy="827.7" r="0.6" fill="#a030a0" opacity="0.7"/><circle cx="461.3" cy="817.2" r="0.5" fill="#a030a0" opacity="0.7"/><circle cx="480.3" cy="826.4" r="0.6" fill="#a030a0" opacity="0.7"/><circle cx="465.1" cy="828.5" r="0.6" fill="#a030a0" opacity="0.7"/><circle cx="456.4" cy="845.2" r="0.7" fill="#a030a0" opacity="0.7"/><circle cx="461" cy="815.3" r="0.5" fill="#a030a0" opacity="0.7"/><circle cx="472.1" cy="839.2" r="0.5" fill="#a030a0" opacity="0.7"/><circle cx="468.9" cy="836.3" r="0.6" fill="#a030a0" opacity="0.7"/><circle cx="440.5" cy="827.7" r="0.5" fill="#a030a0" opacity="0.7"/><circle cx="466.9" cy="823.5" r="0.4" fill="#a030a0" opacity="0.7"/><circle cx="470.2" cy="821.5" r="0.7" fill="#a030a0" opacity="0.7"/><circle cx="453.5" cy="831.9" r="0.7" fill="#a030a0" opacity="0.7"/><circle cx="456.4" cy="817.3" r="0.5" fill="#a030a0" opacity="0.7"/><circle cx="462.5" cy="826.7" r="0.4" fill="#a030a0" opacity="0.7"/><circle cx="463.4" cy="822.1" r="0.7" fill="#a030a0" opacity="0.7"/><circle cx="457" cy="827.5" r="0.5" fill="#a030a0" opacity="0.7"/><circle cx="457.5" cy="840.2" r="0.5" fill="#a030a0" opacity="0.7"/><circle cx="444.5" cy="811.8" r="0.6" fill="#a030a0" opacity="0.7"/><circle cx="459.7" cy="840.5" r="0.5" fill="#a030a0" opacity="0.7"/><circle cx="459" cy="847.5" r="0.7" fill="#a030a0" opacity="0.7"/><circle cx="442.3" cy="809.6" r="0.6" fill="#b030b0" opacity="0.75"/><circle cx="439.5" cy="808.7" r="0.8" fill="#b030b0" opacity="0.75"/><circle cx="443.2" cy="809.8" r="0.7" fill="#b030b0" opacity="0.75"/><circle cx="439.9" cy="812.5" r="0.4" fill="#b030b0" opacity="0.75"/><circle cx="443.2" cy="810.8" r="0.4" fill="#b030b0" opacity="0.75"/><circle cx="444.3" cy="806.1" r="0.6" fill="#b030b0" opacity="0.75"/><circle cx="439.2" cy="806.3" r="0.5" fill="#b030b0" opacity="0.75"/><circle cx="440.1" cy="805.8" r="0.5" fill="#b030b0" opacity="0.75"/><circle cx="446.2" cy="806.2" r="0.7" fill="#b030b0" opacity="0.75"/><circle cx="444.8" cy="807.1" r="0.5" fill="#b030b0" opacity="0.75"/><circle cx="450.8" cy="805.5" r="0.7" fill="#b030b0" opacity="0.75"/><circle cx="440.4" cy="812.7" r="0.6" fill="#b030b0" opacity="0.75"/><circle cx="447.4" cy="812" r="0.4" fill="#b030b0" opacity="0.75"/><circle cx="439.9" cy="810.6" r="0.6" fill="#b030b0" opacity="0.75"/><circle cx="449.1" cy="807.3" r="0.6" fill="#b030b0" opacity="0.75"/><circle cx="441.6" cy="808.6" r="0.5" fill="#b030b0" opacity="0.75"/><circle cx="447.2" cy="807.5" r="0.5" fill="#b030b0" opacity="0.75"/><circle cx="448" cy="805.8" r="0.7" fill="#b030b0" opacity="0.75"/><rect x="443.2" y="881.3" width="19.4" height="1.6" fill="#fff"/></g>
<g clip-path="url(#c11)"><rect x="521.4" y="805.1" width="81" height="81" fill="#fbfbfb"/><g filter="url(#cb)"><path d="M521.9,811.3C523.7,808.3 528.7,810.1 532.5,810.1C536.3,810.1 540.8,811.3 544.6,811.3C548.4,811.3 553.3,809.3 555.5,810.1C557.7,810.9 557.2,814.1 558,816.1C558.8,818.1 559,820.1 560.4,822.1C561.8,824.1 565.2,826.4 566.4,828.2C567.6,830 569.3,831.3 567.7,833.1C566.1,834.9 560,837.1 556.8,839.1C553.6,841.1 550.3,843.4 548.3,845.2C546.3,847 546.2,849.8 544.6,850C543,850.2 540.6,848 538.6,846.4C536.6,844.8 534.7,842.3 532.5,840.3C530.3,838.3 527,836.3 525.2,834.3C523.4,832.3 522.4,832 521.9,828.2C521.4,824.4 520.1,814.3 521.9,811.3Z" fill="#e0e0e0" opacity="1" /><ellipse cx="530.1" cy="830.1" rx="6" ry="6" fill="#f0f0f0" opacity="1" /><path d="M548.3,845.2C549.1,843.8 550.5,842.4 551.9,841.6C553.3,840.8 555.4,840.8 556.8,840.4C558.2,840 558.8,839.6 560.4,839.1C562,838.6 564.6,837.9 566.4,837.3C568.2,836.7 569.9,836.2 571.3,835.5C572.7,834.8 573.7,833.6 574.9,833.1C576.1,832.6 577.7,832.1 578.6,832.5C579.5,832.9 580,834.4 580.4,835.5C580.8,836.6 580.1,837.9 581,839.1C581.9,840.3 584.9,841.4 585.8,842.8C586.7,844.2 586.6,846 586.4,847.6C586.2,849.2 584.6,850.9 584.6,852.5C584.6,854.1 585.6,855.7 586.4,857.3C587.2,858.9 588.9,861.1 589.5,862.2C590.1,863.3 590.5,863.4 590.1,864C589.7,864.6 587.7,864.9 587,865.8C586.3,866.7 586.6,868.2 585.8,869.4C585,870.6 583.2,871.9 582.2,873.1C581.2,874.3 581.2,875.7 579.8,876.7C578.4,877.7 575.9,878.5 573.7,879.1C571.5,879.7 568.6,880.4 566.4,880.3C564.2,880.2 562,879.5 560.4,878.5C558.8,877.5 557.8,875.8 556.8,874.3C555.8,872.8 555.3,871 554.3,869.4C553.3,867.8 551.9,866.2 550.7,864.6C549.5,863 547.8,861.3 547.1,859.7C546.4,858.1 546.5,856.5 546.5,854.9C546.5,853.3 546.8,851.7 547.1,850.1C547.4,848.5 547.5,846.6 548.3,845.2Z" fill="#b0b0b0" opacity="1" /><ellipse cx="556.8" cy="857.9" rx="5.6" ry="6.5" fill="#e0e0e0" opacity="1" /></g><circle cx="568.1" cy="843.4" r="0.4" fill="#666" opacity="0.5"/><circle cx="568.7" cy="856.6" r="0.5" fill="#666" opacity="0.5"/><circle cx="562.8" cy="852.2" r="0.6" fill="#666" opacity="0.5"/><circle cx="582" cy="861.7" r="0.4" fill="#666" opacity="0.5"/><circle cx="581.8" cy="859.2" r="0.4" fill="#666" opacity="0.5"/><circle cx="577.6" cy="837.1" r="0.5" fill="#666" opacity="0.5"/><circle cx="551.1" cy="855.2" r="0.5" fill="#666" opacity="0.5"/><circle cx="576.5" cy="834.6" r="0.4" fill="#666" opacity="0.5"/><circle cx="565" cy="850.4" r="0.5" fill="#666" opacity="0.5"/><circle cx="578.8" cy="863.6" r="0.5" fill="#666" opacity="0.5"/><circle cx="571.3" cy="857.1" r="0.4" fill="#666" opacity="0.5"/><circle cx="566.8" cy="872.6" r="0.4" fill="#666" opacity="0.5"/><circle cx="578.9" cy="866.7" r="0.6" fill="#666" opacity="0.5"/><circle cx="558.2" cy="870.1" r="0.5" fill="#666" opacity="0.5"/><circle cx="560.1" cy="850.1" r="0.5" fill="#666" opacity="0.5"/><circle cx="575.7" cy="840.6" r="0.4" fill="#666" opacity="0.5"/><circle cx="571.3" cy="842.6" r="0.4" fill="#666" opacity="0.5"/><circle cx="577.8" cy="843.2" r="0.6" fill="#666" opacity="0.5"/><circle cx="560.8" cy="873.1" r="0.4" fill="#666" opacity="0.5"/><circle cx="558.2" cy="851.4" r="0.4" fill="#666" opacity="0.5"/><circle cx="565.5" cy="850.7" r="0.4" fill="#666" opacity="0.5"/><circle cx="584.1" cy="850.4" r="0.4" fill="#666" opacity="0.5"/><circle cx="571.9" cy="856.6" r="0.4" fill="#666" opacity="0.5"/><circle cx="577.5" cy="871.2" r="0.5" fill="#666" opacity="0.5"/><circle cx="570.5" cy="871.4" r="0.4" fill="#666" opacity="0.5"/><circle cx="570" cy="845.2" r="0.4" fill="#666" opacity="0.5"/><circle cx="554.8" cy="866.4" r="0.5" fill="#666" opacity="0.5"/><circle cx="580.5" cy="862.5" r="0.5" fill="#666" opacity="0.5"/><circle cx="571.2" cy="848.1" r="0.6" fill="#666" opacity="0.5"/><circle cx="561" cy="866.3" r="0.6" fill="#666" opacity="0.5"/><circle cx="574.7" cy="864.2" r="0.6" fill="#666" opacity="0.5"/><circle cx="580.4" cy="853.8" r="0.5" fill="#666" opacity="0.5"/><circle cx="579.6" cy="847.7" r="0.4" fill="#666" opacity="0.5"/><circle cx="573.5" cy="871.2" r="0.4" fill="#666" opacity="0.5"/><circle cx="576.3" cy="875.2" r="0.4" fill="#666" opacity="0.5"/><circle cx="561.1" cy="877.9" r="0.6" fill="#666" opacity="0.5"/><circle cx="565.9" cy="870.4" r="0.5" fill="#666" opacity="0.5"/><circle cx="567.5" cy="852.2" r="0.6" fill="#666" opacity="0.5"/><circle cx="564.5" cy="873.1" r="0.5" fill="#666" opacity="0.5"/><circle cx="572.1" cy="843.9" r="0.4" fill="#666" opacity="0.5"/><circle cx="567.9" cy="851.4" r="0.5" fill="#666" opacity="0.5"/><circle cx="568.5" cy="847.9" r="0.5" fill="#666" opacity="0.5"/><circle cx="564.9" cy="872.5" r="0.5" fill="#666" opacity="0.5"/><circle cx="572" cy="860.2" r="0.4" fill="#666" opacity="0.5"/><circle cx="563.2" cy="845" r="0.5" fill="#666" opacity="0.5"/><circle cx="549.4" cy="858.4" r="0.4" fill="#666" opacity="0.5"/><circle cx="568" cy="851.8" r="0.4" fill="#666" opacity="0.5"/><circle cx="578.4" cy="870.8" r="0.5" fill="#666" opacity="0.5"/><circle cx="551.5" cy="861.1" r="0.6" fill="#666" opacity="0.5"/><circle cx="575.5" cy="845.7" r="0.6" fill="#666" opacity="0.5"/><circle cx="563" cy="846.6" r="0.5" fill="#666" opacity="0.5"/><circle cx="573.4" cy="848.4" r="0.5" fill="#666" opacity="0.5"/><circle cx="587" cy="859.6" r="0.6" fill="#666" opacity="0.5"/><circle cx="547.8" cy="854.5" r="0.5" fill="#666" opacity="0.5"/><circle cx="573.7" cy="855.3" r="0.5" fill="#666" opacity="0.5"/><circle cx="569.8" cy="866.2" r="0.6" fill="#666" opacity="0.5"/><circle cx="574.8" cy="870.8" r="0.4" fill="#666" opacity="0.5"/><circle cx="563.1" cy="843.3" r="0.5" fill="#666" opacity="0.5"/><circle cx="569.6" cy="861.4" r="0.4" fill="#666" opacity="0.5"/><circle cx="572.1" cy="878.1" r="0.5" fill="#666" opacity="0.5"/></g>
<g clip-path="url(#c12)"><rect x="604.2" y="805.1" width="81" height="81" fill="#fdfdfd"/><g filter="url(#cb)"><path d="M604.7,811.3C606.5,808.3 611.5,810.1 615.3,810.1C619.1,810.1 623.6,811.3 627.4,811.3C631.2,811.3 636.1,809.3 638.3,810.1C640.5,810.9 640,814.1 640.8,816.1C641.6,818.1 641.8,820.1 643.2,822.1C644.6,824.1 648,826.4 649.2,828.2C650.4,830 652.1,831.3 650.5,833.1C648.9,834.9 642.8,837.1 639.6,839.1C636.4,841.1 633.1,843.4 631.1,845.2C629.1,847 629,849.8 627.4,850C625.8,850.2 623.4,848 621.4,846.4C619.4,844.8 617.5,842.3 615.3,840.3C613.1,838.3 609.8,836.3 608,834.3C606.2,832.3 605.2,832 604.7,828.2C604.2,824.4 602.9,814.3 604.7,811.3Z" fill="#f0f0f0" opacity="1" /><path d="M631.1,845.2C631.9,843.8 633.3,842.4 634.7,841.6C636.1,840.8 638.2,840.8 639.6,840.4C641,840 641.6,839.6 643.2,839.1C644.8,838.6 647.4,837.9 649.2,837.3C651,836.7 652.7,836.2 654.1,835.5C655.5,834.8 656.5,833.6 657.7,833.1C658.9,832.6 660.5,832.1 661.4,832.5C662.3,832.9 662.8,834.4 663.2,835.5C663.6,836.6 662.9,837.9 663.8,839.1C664.7,840.3 667.7,841.4 668.6,842.8C669.5,844.2 669.4,846 669.2,847.6C669,849.2 667.4,850.9 667.4,852.5C667.4,854.1 668.4,855.7 669.2,857.3C670,858.9 671.7,861.1 672.3,862.2C672.9,863.3 673.3,863.4 672.9,864C672.5,864.6 670.5,864.9 669.8,865.8C669.1,866.7 669.4,868.2 668.6,869.4C667.8,870.6 666,871.9 665,873.1C664,874.3 664,875.7 662.6,876.7C661.2,877.7 658.7,878.5 656.5,879.1C654.3,879.7 651.4,880.4 649.2,880.3C647,880.2 644.8,879.5 643.2,878.5C641.6,877.5 640.6,875.8 639.6,874.3C638.6,872.8 638.1,871 637.1,869.4C636.1,867.8 634.7,866.2 633.5,864.6C632.3,863 630.6,861.3 629.9,859.7C629.2,858.1 629.3,856.5 629.3,854.9C629.3,853.3 629.6,851.7 629.9,850.1C630.2,848.5 630.3,846.6 631.1,845.2Z" fill="#f4f4f4" opacity="1" /></g><circle cx="628.3" cy="825.5" r="0.4" fill="#333" opacity="0.6"/><circle cx="630.3" cy="841" r="0.6" fill="#333" opacity="0.6"/><circle cx="605.6" cy="820.9" r="0.5" fill="#333" opacity="0.6"/><circle cx="643.2" cy="825.9" r="0.5" fill="#333" opacity="0.6"/><circle cx="619.8" cy="816.3" r="0.3" fill="#333" opacity="0.6"/><circle cx="618.6" cy="838.1" r="0.5" fill="#333" opacity="0.6"/><circle cx="627.9" cy="815.8" r="0.6" fill="#333" opacity="0.6"/><circle cx="615.2" cy="810.1" r="0.6" fill="#333" opacity="0.6"/><circle cx="619.1" cy="837.4" r="0.5" fill="#333" opacity="0.6"/><circle cx="643.6" cy="832.7" r="0.4" fill="#333" opacity="0.6"/><circle cx="636.6" cy="837" r="0.3" fill="#333" opacity="0.6"/><circle cx="618.7" cy="814" r="0.4" fill="#333" opacity="0.6"/><circle cx="640" cy="828.7" r="0.6" fill="#333" opacity="0.6"/><circle cx="612" cy="814.3" r="0.4" fill="#333" opacity="0.6"/><circle cx="608.5" cy="819.9" r="0.5" fill="#333" opacity="0.6"/><circle cx="644.7" cy="826.4" r="0.5" fill="#333" opacity="0.6"/><circle cx="606.1" cy="823.7" r="0.4" fill="#333" opacity="0.6"/><circle cx="640.6" cy="831.3" r="0.5" fill="#333" opacity="0.6"/><circle cx="618.1" cy="821.4" r="0.6" fill="#333" opacity="0.6"/><circle cx="614.5" cy="823.1" r="0.4" fill="#333" opacity="0.6"/><circle cx="644.3" cy="835.6" r="0.5" fill="#333" opacity="0.6"/><circle cx="647.7" cy="828" r="0.5" fill="#333" opacity="0.6"/><circle cx="616.5" cy="814.2" r="0.5" fill="#333" opacity="0.6"/><circle cx="639.9" cy="816.3" r="0.5" fill="#333" opacity="0.6"/><circle cx="622.2" cy="843.6" r="0.6" fill="#333" opacity="0.6"/><circle cx="621.9" cy="815" r="0.5" fill="#333" opacity="0.6"/><circle cx="634.9" cy="822.4" r="0.5" fill="#333" opacity="0.6"/><circle cx="626.1" cy="846.5" r="0.6" fill="#333" opacity="0.6"/><circle cx="647.1" cy="829.2" r="0.6" fill="#333" opacity="0.6"/><circle cx="642.2" cy="825" r="0.6" fill="#333" opacity="0.6"/><circle cx="626.2" cy="826.5" r="0.4" fill="#333" opacity="0.6"/><circle cx="623.7" cy="833.1" r="0.6" fill="#333" opacity="0.6"/><circle cx="621.4" cy="814.4" r="0.3" fill="#333" opacity="0.6"/><circle cx="628.5" cy="833.4" r="0.5" fill="#333" opacity="0.6"/><circle cx="620.8" cy="826.8" r="0.4" fill="#333" opacity="0.6"/><circle cx="647.7" cy="833.7" r="0.5" fill="#333" opacity="0.6"/><circle cx="624.2" cy="820.1" r="0.4" fill="#333" opacity="0.6"/><circle cx="627.3" cy="827.9" r="0.6" fill="#333" opacity="0.6"/><circle cx="630.5" cy="818.4" r="0.3" fill="#333" opacity="0.6"/><circle cx="612" cy="823.9" r="0.6" fill="#333" opacity="0.6"/><circle cx="640.4" cy="827.7" r="0.5" fill="#333" opacity="0.6"/><circle cx="629.1" cy="811.8" r="0.3" fill="#333" opacity="0.6"/><circle cx="635.3" cy="837.6" r="0.4" fill="#333" opacity="0.6"/><circle cx="618.5" cy="812.8" r="0.5" fill="#333" opacity="0.6"/><circle cx="634.7" cy="819.1" r="0.3" fill="#333" opacity="0.6"/><circle cx="627" cy="811.5" r="0.6" fill="#333" opacity="0.6"/><circle cx="633.3" cy="821.2" r="0.5" fill="#333" opacity="0.6"/><circle cx="615.4" cy="817.5" r="0.4" fill="#333" opacity="0.6"/><circle cx="642.1" cy="828.2" r="0.6" fill="#333" opacity="0.6"/><circle cx="620.6" cy="842.3" r="0.5" fill="#333" opacity="0.6"/><circle cx="634.7" cy="825.8" r="0.5" fill="#333" opacity="0.6"/><circle cx="635.5" cy="831.3" r="0.5" fill="#333" opacity="0.6"/><circle cx="609.3" cy="823.4" r="0.4" fill="#333" opacity="0.6"/><circle cx="625.1" cy="844.8" r="0.6" fill="#333" opacity="0.6"/><circle cx="637.6" cy="822.1" r="0.4" fill="#333" opacity="0.6"/><circle cx="637" cy="822" r="0.6" fill="#333" opacity="0.6"/><circle cx="620.7" cy="840.4" r="0.5" fill="#333" opacity="0.6"/><circle cx="622.5" cy="840.8" r="0.4" fill="#333" opacity="0.6"/><circle cx="629.9" cy="840.3" r="0.5" fill="#333" opacity="0.6"/><circle cx="604.7" cy="820.4" r="0.5" fill="#333" opacity="0.6"/><circle cx="639.7" cy="835.5" r="0.5" fill="#333" opacity="0.6"/><circle cx="638.3" cy="836.8" r="0.4" fill="#333" opacity="0.6"/><circle cx="629.2" cy="834" r="0.6" fill="#333" opacity="0.6"/><circle cx="613.8" cy="822.5" r="0.4" fill="#333" opacity="0.6"/><circle cx="609.1" cy="824" r="0.6" fill="#333" opacity="0.6"/><circle cx="631.2" cy="817" r="0.6" fill="#333" opacity="0.6"/><circle cx="611.5" cy="813.9" r="0.4" fill="#333" opacity="0.6"/><circle cx="628.3" cy="820.9" r="0.6" fill="#333" opacity="0.6"/><circle cx="639" cy="837.9" r="0.5" fill="#333" opacity="0.6"/><circle cx="619.8" cy="822.9" r="0.4" fill="#333" opacity="0.6"/><circle cx="624.4" cy="845.9" r="0.3" fill="#333" opacity="0.6"/><circle cx="643" cy="822.4" r="0.3" fill="#333" opacity="0.6"/><circle cx="614.4" cy="814.8" r="0.4" fill="#333" opacity="0.6"/><circle cx="610.2" cy="817.3" r="0.4" fill="#333" opacity="0.6"/><circle cx="631.2" cy="827.9" r="0.4" fill="#333" opacity="0.6"/><circle cx="628.8" cy="841" r="0.6" fill="#333" opacity="0.6"/><circle cx="640.9" cy="832.5" r="0.5" fill="#333" opacity="0.6"/><circle cx="619.8" cy="815.5" r="0.6" fill="#333" opacity="0.6"/><circle cx="632.6" cy="814" r="0.6" fill="#333" opacity="0.6"/><circle cx="636.8" cy="819.6" r="0.5" fill="#333" opacity="0.6"/><circle cx="642.9" cy="824.1" r="0.5" fill="#333" opacity="0.6"/><circle cx="635.2" cy="817.8" r="0.5" fill="#333" opacity="0.6"/><circle cx="613.3" cy="838.5" r="0.3" fill="#333" opacity="0.6"/><circle cx="617.3" cy="814.8" r="0.4" fill="#333" opacity="0.6"/><circle cx="628.9" cy="817.1" r="0.6" fill="#333" opacity="0.6"/><circle cx="609.1" cy="835" r="0.6" fill="#333" opacity="0.6"/><circle cx="610.5" cy="818.8" r="0.6" fill="#333" opacity="0.6"/><circle cx="626.2" cy="847.3" r="0.4" fill="#333" opacity="0.6"/><circle cx="632.2" cy="814.1" r="0.6" fill="#333" opacity="0.6"/><circle cx="637.8" cy="822.8" r="0.5" fill="#333" opacity="0.6"/><circle cx="623.5" cy="840.1" r="0.3" fill="#333" opacity="0.6"/><circle cx="641.5" cy="828.9" r="0.6" fill="#333" opacity="0.6"/><circle cx="605.9" cy="829.6" r="0.3" fill="#333" opacity="0.6"/><circle cx="638" cy="834.3" r="0.3" fill="#333" opacity="0.6"/><circle cx="647" cy="827.6" r="0.5" fill="#333" opacity="0.6"/><circle cx="642" cy="821.1" r="0.3" fill="#333" opacity="0.6"/><circle cx="606.6" cy="815.6" r="0.6" fill="#333" opacity="0.6"/><circle cx="638.6" cy="818.5" r="0.4" fill="#333" opacity="0.6"/><circle cx="631.4" cy="815.3" r="0.4" fill="#333" opacity="0.6"/><circle cx="623.9" cy="812.4" r="0.6" fill="#333" opacity="0.6"/><circle cx="627.3" cy="829.7" r="0.4" fill="#333" opacity="0.6"/><circle cx="628.2" cy="842.1" r="0.3" fill="#333" opacity="0.6"/><circle cx="644.8" cy="826.9" r="0.4" fill="#333" opacity="0.6"/><circle cx="634.4" cy="832.8" r="0.6" fill="#333" opacity="0.6"/><circle cx="628.1" cy="830.6" r="0.6" fill="#333" opacity="0.6"/><circle cx="614.6" cy="810.8" r="0.4" fill="#333" opacity="0.6"/><circle cx="619" cy="815" r="0.4" fill="#333" opacity="0.6"/><circle cx="626.9" cy="845.2" r="0.5" fill="#333" opacity="0.6"/><circle cx="618.5" cy="839.2" r="0.4" fill="#333" opacity="0.6"/><circle cx="630.1" cy="833.9" r="0.6" fill="#333" opacity="0.6"/><circle cx="644.6" cy="847.5" r="0.5" fill="#222" opacity="0.65"/><circle cx="643.3" cy="843" r="0.3" fill="#222" opacity="0.65"/><circle cx="659" cy="860.7" r="0.5" fill="#222" opacity="0.65"/><circle cx="660.5" cy="853.1" r="0.5" fill="#222" opacity="0.65"/><circle cx="664.1" cy="857.5" r="0.5" fill="#222" opacity="0.65"/><circle cx="655.5" cy="852.4" r="0.5" fill="#222" opacity="0.65"/><circle cx="655.1" cy="840.4" r="0.4" fill="#222" opacity="0.65"/><circle cx="651.2" cy="850.4" r="0.5" fill="#222" opacity="0.65"/><circle cx="649.6" cy="849" r="0.4" fill="#222" opacity="0.65"/><circle cx="649.9" cy="868.2" r="0.3" fill="#222" opacity="0.65"/><circle cx="650.5" cy="850.9" r="0.5" fill="#222" opacity="0.65"/><circle cx="649.7" cy="844" r="0.3" fill="#222" opacity="0.65"/><circle cx="647.6" cy="851.5" r="0.4" fill="#222" opacity="0.65"/><circle cx="661.9" cy="844.1" r="0.4" fill="#222" opacity="0.65"/><circle cx="658.4" cy="862.4" r="0.4" fill="#222" opacity="0.65"/><circle cx="650.3" cy="843.8" r="0.5" fill="#222" opacity="0.65"/><circle cx="662.7" cy="864.4" r="0.3" fill="#222" opacity="0.65"/><circle cx="658.8" cy="851.3" r="0.3" fill="#222" opacity="0.65"/><circle cx="657.5" cy="851.7" r="0.6" fill="#222" opacity="0.65"/><circle cx="664.4" cy="856.4" r="0.3" fill="#222" opacity="0.65"/><circle cx="655.5" cy="850" r="0.4" fill="#222" opacity="0.65"/><circle cx="664.3" cy="860.2" r="0.3" fill="#222" opacity="0.65"/><circle cx="646.2" cy="847.4" r="0.5" fill="#222" opacity="0.65"/><circle cx="648.6" cy="850.6" r="0.5" fill="#222" opacity="0.65"/><circle cx="644.9" cy="859.9" r="0.4" fill="#222" opacity="0.65"/><circle cx="648.7" cy="856.1" r="0.3" fill="#222" opacity="0.65"/><circle cx="650.9" cy="856.7" r="0.5" fill="#222" opacity="0.65"/><circle cx="643.4" cy="854.6" r="0.4" fill="#222" opacity="0.65"/><circle cx="648.2" cy="856.5" r="0.6" fill="#222" opacity="0.65"/><circle cx="653.6" cy="844.5" r="0.5" fill="#222" opacity="0.65"/><circle cx="647.4" cy="861.9" r="0.3" fill="#222" opacity="0.65"/><circle cx="647" cy="850.6" r="0.6" fill="#222" opacity="0.65"/><circle cx="644.5" cy="842.4" r="0.3" fill="#222" opacity="0.65"/><circle cx="645.8" cy="847.1" r="0.4" fill="#222" opacity="0.65"/><circle cx="660" cy="849.4" r="0.4" fill="#222" opacity="0.65"/><circle cx="650.5" cy="861.6" r="0.6" fill="#222" opacity="0.65"/><circle cx="651.3" cy="866.5" r="0.4" fill="#222" opacity="0.65"/><circle cx="665.6" cy="853.4" r="0.5" fill="#222" opacity="0.65"/><circle cx="650.1" cy="845.1" r="0.3" fill="#222" opacity="0.65"/><circle cx="663.2" cy="848" r="0.5" fill="#222" opacity="0.65"/><circle cx="652.2" cy="853.5" r="0.4" fill="#222" opacity="0.65"/><circle cx="644.8" cy="847.2" r="0.5" fill="#222" opacity="0.65"/><circle cx="654.3" cy="836.2" r="0.5" fill="#222" opacity="0.65"/><circle cx="651.5" cy="838.4" r="0.4" fill="#222" opacity="0.65"/><circle cx="645.7" cy="863.3" r="0.5" fill="#222" opacity="0.65"/><circle cx="648.7" cy="844.3" r="0.4" fill="#222" opacity="0.65"/><circle cx="647.5" cy="847.5" r="0.5" fill="#222" opacity="0.65"/><circle cx="660.7" cy="859.1" r="0.6" fill="#222" opacity="0.65"/><circle cx="657.2" cy="839.8" r="0.3" fill="#222" opacity="0.65"/><circle cx="644.5" cy="844.6" r="0.5" fill="#222" opacity="0.65"/><circle cx="661.6" cy="855.4" r="0.4" fill="#222" opacity="0.65"/><circle cx="659.8" cy="847.4" r="0.3" fill="#222" opacity="0.65"/><circle cx="657.2" cy="847.9" r="0.6" fill="#222" opacity="0.65"/><circle cx="647.9" cy="839.4" r="0.4" fill="#222" opacity="0.65"/><circle cx="656.9" cy="858.6" r="0.4" fill="#222" opacity="0.65"/><circle cx="647.3" cy="839" r="0.6" fill="#222" opacity="0.65"/><circle cx="649.3" cy="842.3" r="0.4" fill="#222" opacity="0.65"/><circle cx="664.4" cy="844.3" r="0.3" fill="#222" opacity="0.65"/><circle cx="656.6" cy="857.8" r="0.5" fill="#222" opacity="0.65"/><circle cx="643.1" cy="841.8" r="0.4" fill="#222" opacity="0.65"/><circle cx="653.6" cy="851.8" r="0.5" fill="#222" opacity="0.65"/><circle cx="659.1" cy="865.6" r="0.4" fill="#222" opacity="0.65"/><circle cx="643.9" cy="856" r="0.5" fill="#222" opacity="0.65"/><circle cx="643.5" cy="845.8" r="0.6" fill="#222" opacity="0.65"/><circle cx="658.1" cy="839.7" r="0.5" fill="#222" opacity="0.65"/><circle cx="660.8" cy="849.6" r="0.3" fill="#222" opacity="0.65"/><circle cx="657.3" cy="846.6" r="0.3" fill="#222" opacity="0.65"/><circle cx="644.5" cy="849.4" r="0.3" fill="#222" opacity="0.65"/><circle cx="650.2" cy="854.3" r="0.5" fill="#222" opacity="0.65"/><circle cx="650.7" cy="862.5" r="0.3" fill="#222" opacity="0.65"/><circle cx="648.8" cy="866.9" r="0.6" fill="#222" opacity="0.65"/><circle cx="654.1" cy="862.1" r="0.5" fill="#222" opacity="0.65"/><circle cx="643.3" cy="844.5" r="0.3" fill="#222" opacity="0.65"/><circle cx="663" cy="846.7" r="0.4" fill="#222" opacity="0.65"/><circle cx="654.2" cy="839.4" r="0.5" fill="#222" opacity="0.65"/><circle cx="660.9" cy="862.4" r="0.6" fill="#222" opacity="0.65"/><circle cx="648.5" cy="840.9" r="0.5" fill="#222" opacity="0.65"/><circle cx="658.2" cy="848.4" r="0.4" fill="#222" opacity="0.65"/><circle cx="652.2" cy="862.9" r="0.4" fill="#222" opacity="0.65"/><circle cx="648.6" cy="853" r="0.5" fill="#222" opacity="0.65"/><circle cx="663.2" cy="847.8" r="0.5" fill="#222" opacity="0.65"/><circle cx="650.7" cy="864.5" r="0.5" fill="#222" opacity="0.65"/><circle cx="654.6" cy="848.1" r="0.4" fill="#222" opacity="0.65"/><circle cx="663.2" cy="862.5" r="0.4" fill="#222" opacity="0.65"/><circle cx="642.4" cy="842.5" r="0.6" fill="#222" opacity="0.65"/><circle cx="654" cy="854.4" r="0.5" fill="#222" opacity="0.65"/><circle cx="650.9" cy="854.5" r="0.3" fill="#222" opacity="0.65"/><circle cx="643.8" cy="858.3" r="0.5" fill="#222" opacity="0.65"/><circle cx="661.2" cy="859" r="0.6" fill="#222" opacity="0.65"/><circle cx="646.4" cy="861.8" r="0.3" fill="#222" opacity="0.65"/></g>
<g clip-path="url(#c20)"><rect x="439" y="889.4" width="81" height="81" fill="#020402"/><g filter="url(#cb)"><path d="M446.5,939.4C447.1,937.8 452,936.2 454.8,934.9C457.6,933.6 460.6,933.3 463.2,931.4C465.8,929.5 467.9,925.4 470.5,923.3C473.1,921.1 476.8,920.5 479,918.5C481.2,916.5 482.8,913.8 483.8,911.2C484.8,908.6 483.8,904.4 485,902.7C486.2,901 489.1,900.9 491.1,900.9C493.1,900.9 495.6,901.7 497.2,902.9C498.8,904.1 500.3,905.5 500.5,907.9C500.7,910.3 499.2,914.3 498.4,917.3C497.6,920.3 496.7,923.2 495.9,925.8C495.1,928.4 494.1,930.6 493.5,933C492.9,935.4 493,938.1 492.3,940.4C491.6,942.7 490.9,945.1 489.5,946.9C488.1,948.7 486.4,950.3 484,951.4C481.6,952.5 478.2,953.2 475.4,953.4C472.5,953.6 469.5,953.1 466.9,952.4C464.3,951.6 462.2,950.2 459.6,948.9C457,947.6 453.7,946 451.5,944.4C449.3,942.8 445.9,941 446.5,939.4Z" fill="#175817" opacity="1" /><ellipse cx="476.6" cy="930" rx="5" ry="5.5" fill="#0e320e" opacity="1" /><ellipse cx="512.9" cy="912.4" rx="1.6" ry="1.3" fill="#3c3" opacity="1" /></g><circle cx="475.2" cy="941.3" r="0.4" fill="#58b058" opacity="0.5"/><circle cx="475" cy="948.2" r="0.6" fill="#58b058" opacity="0.5"/><circle cx="488.8" cy="936.6" r="0.4" fill="#58b058" opacity="0.5"/><circle cx="486" cy="926.5" r="0.6" fill="#58b058" opacity="0.5"/><circle cx="466.1" cy="947.2" r="0.6" fill="#58b058" opacity="0.5"/><circle cx="470.8" cy="930.4" r="0.6" fill="#58b058" opacity="0.5"/><circle cx="475.1" cy="951.3" r="0.4" fill="#58b058" opacity="0.5"/><circle cx="472.9" cy="945.5" r="0.4" fill="#58b058" opacity="0.5"/><circle cx="464.7" cy="938.4" r="0.6" fill="#58b058" opacity="0.5"/><circle cx="491.8" cy="930.2" r="0.5" fill="#58b058" opacity="0.5"/><circle cx="463.2" cy="932.5" r="0.5" fill="#58b058" opacity="0.5"/><circle cx="485.7" cy="944.3" r="0.4" fill="#58b058" opacity="0.5"/><circle cx="498.3" cy="912.5" r="0.4" fill="#58b058" opacity="0.5"/><circle cx="462.7" cy="936.3" r="0.5" fill="#58b058" opacity="0.5"/><circle cx="486.2" cy="937.1" r="0.6" fill="#58b058" opacity="0.5"/><circle cx="471.9" cy="925.3" r="0.4" fill="#58b058" opacity="0.5"/><circle cx="461.1" cy="939.6" r="0.6" fill="#58b058" opacity="0.5"/><circle cx="492.1" cy="918.6" r="0.6" fill="#58b058" opacity="0.5"/><circle cx="478.3" cy="944.2" r="0.4" fill="#58b058" opacity="0.5"/><circle cx="475.8" cy="939.4" r="0.6" fill="#58b058" opacity="0.5"/><circle cx="497.1" cy="906.4" r="0.5" fill="#58b058" opacity="0.5"/><circle cx="498.2" cy="914.2" r="0.4" fill="#58b058" opacity="0.5"/><circle cx="497.6" cy="914.7" r="0.5" fill="#58b058" opacity="0.5"/><circle cx="466" cy="931.2" r="0.6" fill="#58b058" opacity="0.5"/><circle cx="460.4" cy="944" r="0.4" fill="#58b058" opacity="0.5"/><circle cx="469" cy="950.5" r="0.4" fill="#58b058" opacity="0.5"/><circle cx="466.3" cy="931.4" r="0.4" fill="#58b058" opacity="0.5"/><circle cx="484.8" cy="935.2" r="0.4" fill="#58b058" opacity="0.5"/><circle cx="496.2" cy="904.7" r="0.6" fill="#58b058" opacity="0.5"/><circle cx="489.7" cy="925" r="0.6" fill="#58b058" opacity="0.5"/><circle cx="474.5" cy="952.4" r="0.6" fill="#58b058" opacity="0.5"/><circle cx="482.7" cy="945.2" r="0.5" fill="#58b058" opacity="0.5"/><circle cx="476.7" cy="945.5" r="0.4" fill="#58b058" opacity="0.5"/><circle cx="492.9" cy="902.2" r="0.5" fill="#58b058" opacity="0.5"/><circle cx="496.3" cy="924" r="0.4" fill="#58b058" opacity="0.5"/><circle cx="468.7" cy="931.9" r="0.5" fill="#58b058" opacity="0.5"/><circle cx="485" cy="907.8" r="0.4" fill="#58b058" opacity="0.5"/><circle cx="494.1" cy="910.1" r="0.4" fill="#58b058" opacity="0.5"/><circle cx="487.2" cy="932.3" r="0.5" fill="#58b058" opacity="0.5"/><circle cx="499.5" cy="911.9" r="0.4" fill="#58b058" opacity="0.5"/><circle cx="484.3" cy="917.9" r="0.6" fill="#58b058" opacity="0.5"/><circle cx="480.4" cy="924.7" r="0.6" fill="#58b058" opacity="0.5"/><circle cx="452.2" cy="940.1" r="0.6" fill="#58b058" opacity="0.5"/><circle cx="479.5" cy="940.7" r="0.5" fill="#58b058" opacity="0.5"/><circle cx="472" cy="936.9" r="0.5" fill="#58b058" opacity="0.5"/><circle cx="471.5" cy="929.8" r="0.6" fill="#58b058" opacity="0.5"/><circle cx="480.5" cy="939.7" r="0.4" fill="#58b058" opacity="0.5"/><circle cx="467.6" cy="950.2" r="0.5" fill="#58b058" opacity="0.5"/><circle cx="481.7" cy="946.4" r="0.4" fill="#58b058" opacity="0.5"/><circle cx="472.2" cy="940" r="0.5" fill="#58b058" opacity="0.5"/><circle cx="492.7" cy="922.6" r="0.6" fill="#58b058" opacity="0.5"/><circle cx="465.8" cy="933.4" r="0.5" fill="#58b058" opacity="0.5"/><circle cx="460.7" cy="941.8" r="0.4" fill="#58b058" opacity="0.5"/><circle cx="494.1" cy="927.2" r="0.4" fill="#58b058" opacity="0.5"/><circle cx="462.6" cy="932.9" r="0.6" fill="#58b058" opacity="0.5"/><circle cx="452.4" cy="941.8" r="0.5" fill="#58b058" opacity="0.5"/><circle cx="474.8" cy="923" r="0.5" fill="#58b058" opacity="0.5"/><circle cx="484.3" cy="908.3" r="0.4" fill="#58b058" opacity="0.5"/><circle cx="491.4" cy="936.2" r="0.5" fill="#58b058" opacity="0.5"/><circle cx="490.5" cy="901.1" r="0.5" fill="#58b058" opacity="0.5"/><circle cx="483" cy="947.8" r="0.7" fill="#80d080" opacity="0.6"/><circle cx="483.8" cy="941.8" r="0.4" fill="#80d080" opacity="0.6"/><circle cx="490.3" cy="939.5" r="0.7" fill="#80d080" opacity="0.6"/><circle cx="482.7" cy="943.2" r="0.7" fill="#80d080" opacity="0.6"/><circle cx="480.5" cy="935.4" r="0.5" fill="#80d080" opacity="0.6"/><circle cx="451.5" cy="940" r="0.4" fill="#80d080" opacity="0.6"/><circle cx="478.5" cy="941.8" r="0.7" fill="#80d080" opacity="0.6"/><circle cx="463.1" cy="939.5" r="0.6" fill="#80d080" opacity="0.6"/><circle cx="478.5" cy="949.9" r="0.5" fill="#80d080" opacity="0.6"/><circle cx="484.6" cy="946.6" r="0.6" fill="#80d080" opacity="0.6"/><circle cx="466.1" cy="942.9" r="0.4" fill="#80d080" opacity="0.6"/><circle cx="479.1" cy="946.5" r="0.6" fill="#80d080" opacity="0.6"/><circle cx="457.6" cy="946.3" r="0.7" fill="#80d080" opacity="0.6"/><circle cx="475" cy="935.4" r="0.6" fill="#80d080" opacity="0.6"/><circle cx="465.6" cy="936.3" r="0.4" fill="#80d080" opacity="0.6"/><circle cx="485.3" cy="944.3" r="0.7" fill="#80d080" opacity="0.6"/><circle cx="456.2" cy="936.2" r="0.6" fill="#80d080" opacity="0.6"/><circle cx="471.7" cy="941" r="0.7" fill="#80d080" opacity="0.6"/><circle cx="473.3" cy="944.4" r="0.6" fill="#80d080" opacity="0.6"/><circle cx="482" cy="938.5" r="0.4" fill="#80d080" opacity="0.6"/><circle cx="458.3" cy="944.9" r="0.4" fill="#80d080" opacity="0.6"/><circle cx="449.8" cy="941.3" r="0.4" fill="#80d080" opacity="0.6"/><circle cx="459.9" cy="938.8" r="0.4" fill="#80d080" opacity="0.6"/><circle cx="459.2" cy="937.5" r="0.5" fill="#80d080" opacity="0.6"/><circle cx="464.1" cy="937.5" r="0.4" fill="#80d080" opacity="0.6"/><circle cx="484.2" cy="946.6" r="0.5" fill="#80d080" opacity="0.6"/><circle cx="486.8" cy="940.5" r="0.4" fill="#80d080" opacity="0.6"/><circle cx="483.4" cy="950" r="0.4" fill="#80d080" opacity="0.6"/><circle cx="470" cy="942.7" r="0.4" fill="#80d080" opacity="0.6"/><circle cx="462.4" cy="944" r="0.6" fill="#80d080" opacity="0.6"/><circle cx="475.4" cy="944" r="0.5" fill="#80d080" opacity="0.6"/><circle cx="484.2" cy="949.4" r="0.7" fill="#80d080" opacity="0.6"/><circle cx="456.2" cy="938" r="0.4" fill="#80d080" opacity="0.6"/><circle cx="485.1" cy="948.4" r="0.7" fill="#80d080" opacity="0.6"/><circle cx="459.9" cy="943" r="0.6" fill="#80d080" opacity="0.6"/><circle cx="458.8" cy="938.8" r="0.4" fill="#80d080" opacity="0.6"/><circle cx="482.5" cy="934.5" r="0.4" fill="#80d080" opacity="0.6"/><circle cx="460.7" cy="944.5" r="0.6" fill="#80d080" opacity="0.6"/><circle cx="471" cy="949.2" r="0.7" fill="#80d080" opacity="0.6"/><circle cx="457.8" cy="942.2" r="0.4" fill="#80d080" opacity="0.6"/><circle cx="452.2" cy="938.1" r="0.7" fill="#80d080" opacity="0.6"/><circle cx="476.6" cy="932.3" r="0.4" fill="#80d080" opacity="0.6"/><circle cx="473.8" cy="942.1" r="0.4" fill="#80d080" opacity="0.6"/><circle cx="452.9" cy="942.9" r="0.6" fill="#80d080" opacity="0.6"/><circle cx="459.1" cy="943.4" r="0.6" fill="#80d080" opacity="0.6"/><circle cx="465.6" cy="939.7" r="0.6" fill="#80d080" opacity="0.6"/><circle cx="481.3" cy="942.3" r="0.6" fill="#80d080" opacity="0.6"/><circle cx="475.8" cy="951.5" r="0.7" fill="#80d080" opacity="0.6"/><circle cx="480.9" cy="935.2" r="0.6" fill="#80d080" opacity="0.6"/><circle cx="467.5" cy="935.5" r="0.7" fill="#80d080" opacity="0.6"/><circle cx="458.3" cy="946" r="0.5" fill="#80d080" opacity="0.6"/><circle cx="466.9" cy="945.9" r="0.6" fill="#80d080" opacity="0.6"/><circle cx="482.6" cy="936.2" r="0.6" fill="#80d080" opacity="0.6"/><circle cx="469.8" cy="951.1" r="0.5" fill="#80d080" opacity="0.6"/><circle cx="468.7" cy="942.1" r="0.5" fill="#80d080" opacity="0.6"/><circle cx="453.4" cy="941" r="0.4" fill="#80d080" opacity="0.6"/><circle cx="456.2" cy="940.2" r="0.5" fill="#80d080" opacity="0.6"/><circle cx="470" cy="942.1" r="0.5" fill="#80d080" opacity="0.6"/><circle cx="472.5" cy="951.7" r="0.5" fill="#80d080" opacity="0.6"/><circle cx="463.8" cy="937.4" r="0.6" fill="#80d080" opacity="0.6"/><circle cx="469.7" cy="947.9" r="0.4" fill="#80d080" opacity="0.6"/><circle cx="464.5" cy="939.2" r="0.5" fill="#80d080" opacity="0.6"/><circle cx="489.6" cy="940.1" r="0.6" fill="#80d080" opacity="0.6"/><circle cx="474" cy="948.6" r="0.5" fill="#80d080" opacity="0.6"/><circle cx="471.4" cy="943.2" r="0.4" fill="#80d080" opacity="0.6"/><circle cx="480.3" cy="938.6" r="0.6" fill="#80d080" opacity="0.6"/><circle cx="464.5" cy="936.5" r="0.7" fill="#80d080" opacity="0.6"/><circle cx="458.4" cy="936.4" r="0.5" fill="#80d080" opacity="0.6"/><circle cx="452.2" cy="939.5" r="0.7" fill="#80d080" opacity="0.6"/><circle cx="478.9" cy="947.8" r="0.4" fill="#80d080" opacity="0.6"/><circle cx="485.7" cy="941.2" r="0.7" fill="#e0d0e0" opacity="0.7"/><circle cx="473.2" cy="951.3" r="0.6" fill="#e0d0e0" opacity="0.7"/><circle cx="466.7" cy="937.3" r="0.6" fill="#e0d0e0" opacity="0.7"/><circle cx="485.2" cy="945.3" r="0.7" fill="#e0d0e0" opacity="0.7"/><circle cx="463.5" cy="943.5" r="0.6" fill="#e0d0e0" opacity="0.7"/><circle cx="462.2" cy="939.4" r="0.8" fill="#e0d0e0" opacity="0.7"/><circle cx="480.7" cy="944.1" r="0.6" fill="#e0d0e0" opacity="0.7"/><circle cx="476.8" cy="935.4" r="0.7" fill="#e0d0e0" opacity="0.7"/><circle cx="463.9" cy="939" r="0.5" fill="#e0d0e0" opacity="0.7"/><circle cx="474.4" cy="945.5" r="0.6" fill="#e0d0e0" opacity="0.7"/><circle cx="473.1" cy="937.1" r="0.7" fill="#e0d0e0" opacity="0.7"/><circle cx="475.1" cy="940.3" r="0.7" fill="#e0d0e0" opacity="0.7"/><circle cx="470.7" cy="942.9" r="0.5" fill="#e0d0e0" opacity="0.7"/><circle cx="481.3" cy="951.6" r="0.5" fill="#e0d0e0" opacity="0.7"/><circle cx="485.7" cy="943" r="0.4" fill="#e0d0e0" opacity="0.7"/><circle cx="472.7" cy="944.2" r="0.7" fill="#e0d0e0" opacity="0.7"/><circle cx="464.6" cy="939.7" r="0.8" fill="#e0d0e0" opacity="0.7"/><circle cx="469.6" cy="948" r="0.4" fill="#e0d0e0" opacity="0.7"/><circle cx="474.5" cy="944.6" r="0.4" fill="#e0d0e0" opacity="0.7"/><circle cx="476.4" cy="942.9" r="0.5" fill="#e0d0e0" opacity="0.7"/><circle cx="483.9" cy="947.5" r="0.4" fill="#e0d0e0" opacity="0.7"/><circle cx="466.9" cy="946.5" r="0.8" fill="#e0d0e0" opacity="0.7"/><circle cx="481.9" cy="943.4" r="0.8" fill="#e0d0e0" opacity="0.7"/><circle cx="477" cy="936.6" r="0.5" fill="#e0d0e0" opacity="0.7"/><circle cx="462.9" cy="946" r="0.6" fill="#e0d0e0" opacity="0.7"/><circle cx="484.7" cy="934.6" r="0.4" fill="#e0d0e0" opacity="0.7"/><circle cx="485.9" cy="945.1" r="0.6" fill="#e0d0e0" opacity="0.7"/><circle cx="477.4" cy="949" r="0.6" fill="#e0d0e0" opacity="0.7"/><circle cx="462.4" cy="938.6" r="0.7" fill="#e0d0e0" opacity="0.7"/><circle cx="466.5" cy="949.5" r="0.6" fill="#e0d0e0" opacity="0.7"/><rect x="443.2" y="964.9" width="19.4" height="1.6" fill="#fff"/></g>
<g clip-path="url(#c21)"><rect x="521.4" y="889.4" width="81" height="81" fill="#fbfbfb"/><g filter="url(#cb)"><path d="M528.9,939.4C529.4,937.8 534.4,936.2 537.2,934.9C540,933.6 543,933.3 545.6,931.4C548.2,929.5 550.3,925.4 552.9,923.3C555.5,921.1 559.2,920.5 561.4,918.5C563.6,916.5 565.2,913.8 566.2,911.2C567.2,908.6 566.2,904.4 567.4,902.7C568.6,901 571.5,900.9 573.5,900.9C575.5,900.9 578,901.7 579.6,902.9C581.2,904.1 582.7,905.5 582.9,907.9C583.1,910.3 581.6,914.3 580.8,917.3C580,920.3 579.1,923.2 578.3,925.8C577.5,928.4 576.5,930.6 575.9,933C575.3,935.4 575.4,938.1 574.7,940.4C574,942.7 573.3,945.1 571.9,946.9C570.5,948.7 568.8,950.3 566.4,951.4C564,952.5 560.6,953.2 557.8,953.4C554.9,953.6 551.9,953.1 549.3,952.4C546.7,951.6 544.6,950.2 542,948.9C539.4,947.6 536.1,946 533.9,944.4C531.7,942.8 528.4,941 528.9,939.4Z" fill="#cbcbcb" opacity="1" /><ellipse cx="559" cy="930" rx="5" ry="5.5" fill="#ececec" opacity="1" /></g><circle cx="555.4" cy="935.6" r="0.6" fill="#222" opacity="0.6"/><circle cx="567.2" cy="938.5" r="0.6" fill="#222" opacity="0.6"/><circle cx="555.4" cy="937.5" r="0.6" fill="#222" opacity="0.6"/><circle cx="552.2" cy="937.3" r="0.6" fill="#222" opacity="0.6"/><circle cx="565.7" cy="940.7" r="0.7" fill="#222" opacity="0.6"/><circle cx="542.8" cy="936" r="0.6" fill="#222" opacity="0.6"/><circle cx="553.3" cy="935.3" r="0.7" fill="#222" opacity="0.6"/><circle cx="551.9" cy="938.2" r="0.5" fill="#222" opacity="0.6"/><circle cx="533.5" cy="944.3" r="0.4" fill="#222" opacity="0.6"/><circle cx="567.2" cy="945.3" r="0.5" fill="#222" opacity="0.6"/><circle cx="549.4" cy="945.4" r="0.4" fill="#222" opacity="0.6"/><circle cx="546.1" cy="947.7" r="0.7" fill="#222" opacity="0.6"/><circle cx="539.7" cy="936" r="0.4" fill="#222" opacity="0.6"/><circle cx="557.9" cy="943" r="0.8" fill="#222" opacity="0.6"/><circle cx="554.2" cy="950.6" r="0.6" fill="#222" opacity="0.6"/><circle cx="552.7" cy="936.6" r="0.6" fill="#222" opacity="0.6"/><circle cx="570.7" cy="941.1" r="0.4" fill="#222" opacity="0.6"/><circle cx="545.6" cy="934.8" r="0.7" fill="#222" opacity="0.6"/><circle cx="552.3" cy="940.9" r="0.8" fill="#222" opacity="0.6"/><circle cx="556.1" cy="944.8" r="0.6" fill="#222" opacity="0.6"/><circle cx="531.9" cy="940.3" r="0.8" fill="#222" opacity="0.6"/><circle cx="553.8" cy="934" r="0.7" fill="#222" opacity="0.6"/><circle cx="558.1" cy="948.2" r="0.4" fill="#222" opacity="0.6"/><circle cx="550.3" cy="948.2" r="0.5" fill="#222" opacity="0.6"/><circle cx="533.1" cy="942.7" r="0.8" fill="#222" opacity="0.6"/><circle cx="557" cy="949.7" r="0.4" fill="#222" opacity="0.6"/><circle cx="555.2" cy="934.4" r="0.5" fill="#222" opacity="0.6"/><circle cx="536.8" cy="940.6" r="0.4" fill="#222" opacity="0.6"/><circle cx="558.6" cy="944.6" r="0.8" fill="#222" opacity="0.6"/><circle cx="567.8" cy="942.3" r="0.8" fill="#222" opacity="0.6"/><circle cx="551.6" cy="932.2" r="0.7" fill="#222" opacity="0.6"/><circle cx="553.6" cy="950.2" r="0.6" fill="#222" opacity="0.6"/><circle cx="544.4" cy="945" r="0.7" fill="#222" opacity="0.6"/><circle cx="550.2" cy="936.5" r="0.6" fill="#222" opacity="0.6"/><circle cx="561.1" cy="935.4" r="0.4" fill="#222" opacity="0.6"/><circle cx="551.2" cy="944.9" r="0.4" fill="#222" opacity="0.6"/><circle cx="541.9" cy="947.4" r="0.5" fill="#222" opacity="0.6"/><circle cx="534.1" cy="941.1" r="0.8" fill="#222" opacity="0.6"/><circle cx="560.6" cy="944.1" r="0.6" fill="#222" opacity="0.6"/><circle cx="559" cy="941.9" r="0.4" fill="#222" opacity="0.6"/><circle cx="543.7" cy="949.1" r="0.6" fill="#222" opacity="0.6"/><circle cx="552.4" cy="946" r="0.6" fill="#222" opacity="0.6"/><circle cx="546.9" cy="942.5" r="0.4" fill="#222" opacity="0.6"/><circle cx="567.2" cy="936.6" r="0.8" fill="#222" opacity="0.6"/><circle cx="558.4" cy="943.7" r="0.7" fill="#222" opacity="0.6"/><circle cx="553.7" cy="947.1" r="0.8" fill="#222" opacity="0.6"/><circle cx="541.3" cy="939.4" r="0.5" fill="#222" opacity="0.6"/><circle cx="559.9" cy="941.2" r="0.6" fill="#222" opacity="0.6"/><circle cx="545.8" cy="945.5" r="0.6" fill="#222" opacity="0.6"/><circle cx="551.8" cy="936.1" r="0.5" fill="#222" opacity="0.6"/><circle cx="559.2" cy="937.9" r="0.8" fill="#222" opacity="0.6"/><circle cx="542.3" cy="941.7" r="0.4" fill="#222" opacity="0.6"/><circle cx="563.2" cy="938.4" r="0.5" fill="#222" opacity="0.6"/><circle cx="566.7" cy="949.2" r="0.4" fill="#222" opacity="0.6"/><circle cx="547.1" cy="939.8" r="0.7" fill="#222" opacity="0.6"/><circle cx="553.1" cy="949.5" r="0.8" fill="#222" opacity="0.6"/><circle cx="563.9" cy="944.6" r="0.7" fill="#222" opacity="0.6"/><circle cx="569" cy="938.4" r="0.6" fill="#222" opacity="0.6"/><circle cx="554.5" cy="946.7" r="0.4" fill="#222" opacity="0.6"/><circle cx="565.9" cy="947.8" r="0.8" fill="#222" opacity="0.6"/><circle cx="561.2" cy="942.4" r="0.8" fill="#222" opacity="0.6"/><circle cx="565.1" cy="944.2" r="0.7" fill="#222" opacity="0.6"/><circle cx="538.1" cy="937.8" r="0.5" fill="#222" opacity="0.6"/><circle cx="567.3" cy="947.6" r="0.5" fill="#222" opacity="0.6"/><circle cx="545.8" cy="938.9" r="0.8" fill="#222" opacity="0.6"/><circle cx="553.3" cy="944.3" r="0.6" fill="#222" opacity="0.6"/><circle cx="542.3" cy="942" r="0.6" fill="#222" opacity="0.6"/><circle cx="552.2" cy="948" r="0.6" fill="#222" opacity="0.6"/><circle cx="548.5" cy="947" r="0.6" fill="#222" opacity="0.6"/><circle cx="548.4" cy="939.3" r="0.6" fill="#222" opacity="0.6"/><circle cx="554" cy="938.1" r="0.7" fill="#222" opacity="0.6"/><circle cx="543.3" cy="939.9" r="0.5" fill="#222" opacity="0.6"/><circle cx="553.3" cy="936.6" r="0.7" fill="#222" opacity="0.6"/><circle cx="548.1" cy="946" r="0.5" fill="#222" opacity="0.6"/><circle cx="550" cy="942.7" r="0.7" fill="#222" opacity="0.6"/><circle cx="558.5" cy="939.8" r="0.4" fill="#222" opacity="0.6"/><circle cx="558.9" cy="937.9" r="0.8" fill="#222" opacity="0.6"/><circle cx="540.5" cy="935.8" r="0.4" fill="#222" opacity="0.6"/><circle cx="536.6" cy="945.4" r="0.6" fill="#222" opacity="0.6"/><circle cx="541.2" cy="948.2" r="0.7" fill="#222" opacity="0.6"/><circle cx="548.8" cy="943.8" r="0.7" fill="#222" opacity="0.6"/><circle cx="549.4" cy="932.4" r="0.5" fill="#222" opacity="0.6"/><circle cx="571.1" cy="938.6" r="0.7" fill="#222" opacity="0.6"/><circle cx="567.6" cy="938.6" r="0.5" fill="#222" opacity="0.6"/><circle cx="552.5" cy="936" r="0.5" fill="#222" opacity="0.6"/><circle cx="535.9" cy="945.5" r="0.6" fill="#222" opacity="0.6"/><circle cx="568" cy="943.9" r="0.7" fill="#222" opacity="0.6"/><circle cx="549.2" cy="939.7" r="0.4" fill="#222" opacity="0.6"/><circle cx="554" cy="936.4" r="0.4" fill="#222" opacity="0.6"/><circle cx="567.8" cy="943" r="0.8" fill="#222" opacity="0.6"/><circle cx="543" cy="943.1" r="0.5" fill="#222" opacity="0.6"/><circle cx="566.1" cy="935" r="0.7" fill="#222" opacity="0.6"/><circle cx="554.3" cy="937.6" r="0.4" fill="#222" opacity="0.6"/><circle cx="551.3" cy="941.9" r="0.8" fill="#222" opacity="0.6"/><circle cx="543.5" cy="948.1" r="0.5" fill="#222" opacity="0.6"/><circle cx="551.8" cy="932.9" r="0.6" fill="#222" opacity="0.6"/><circle cx="570.8" cy="939" r="0.6" fill="#222" opacity="0.6"/><circle cx="548.5" cy="941.5" r="0.4" fill="#222" opacity="0.6"/><circle cx="568.4" cy="943.2" r="0.5" fill="#222" opacity="0.6"/><circle cx="542.6" cy="934.5" r="0.8" fill="#222" opacity="0.6"/><circle cx="566.6" cy="938.7" r="0.7" fill="#222" opacity="0.6"/><circle cx="554.2" cy="934.8" r="0.4" fill="#222" opacity="0.6"/><circle cx="558.5" cy="943.9" r="0.8" fill="#222" opacity="0.6"/><circle cx="558.8" cy="941.9" r="0.4" fill="#222" opacity="0.6"/><circle cx="571.6" cy="941.2" r="0.8" fill="#222" opacity="0.6"/><circle cx="550.9" cy="935.2" r="0.6" fill="#222" opacity="0.6"/><circle cx="533.6" cy="943.2" r="0.5" fill="#222" opacity="0.6"/><circle cx="560.1" cy="944" r="0.7" fill="#222" opacity="0.6"/><circle cx="559.8" cy="939.1" r="0.8" fill="#222" opacity="0.6"/><circle cx="565.9" cy="947.2" r="0.6" fill="#222" opacity="0.6"/><circle cx="544.9" cy="948.5" r="0.7" fill="#222" opacity="0.6"/><circle cx="566.5" cy="948" r="0.6" fill="#222" opacity="0.6"/><circle cx="547.4" cy="947.9" r="0.7" fill="#222" opacity="0.6"/><circle cx="553.6" cy="949.6" r="0.4" fill="#222" opacity="0.6"/><circle cx="562.8" cy="945.3" r="0.6" fill="#222" opacity="0.6"/><circle cx="556" cy="942.6" r="0.8" fill="#222" opacity="0.6"/><circle cx="552.2" cy="942.3" r="0.6" fill="#222" opacity="0.6"/><circle cx="548.1" cy="945.6" r="0.4" fill="#222" opacity="0.6"/><circle cx="560.2" cy="950.8" r="0.7" fill="#222" opacity="0.6"/><circle cx="553.7" cy="938.2" r="0.4" fill="#222" opacity="0.6"/><ellipse cx="595.3" cy="912.4" rx="1" ry="0.8" fill="#555" opacity="1" /></g>
<g clip-path="url(#c22)"><rect x="604.2" y="889.4" width="81" height="81" fill="#fdfdfd"/><g filter="url(#cb)"><path d="M611.7,939.4C612.2,937.8 617.2,936.2 620,934.9C622.8,933.6 625.8,933.3 628.4,931.4C631,929.5 633.1,925.4 635.7,923.3C638.3,921.1 642,920.5 644.2,918.5C646.4,916.5 648,913.8 649,911.2C650,908.6 649,904.4 650.2,902.7C651.4,901 654.3,900.9 656.3,900.9C658.3,900.9 660.8,901.7 662.4,902.9C664,904.1 665.5,905.5 665.7,907.9C665.9,910.3 664.4,914.3 663.6,917.3C662.8,920.3 661.9,923.2 661.1,925.8C660.3,928.4 659.3,930.6 658.7,933C658.1,935.4 658.2,938.1 657.5,940.4C656.8,942.7 656.1,945.1 654.7,946.9C653.3,948.7 651.6,950.3 649.2,951.4C646.9,952.5 643.5,953.2 640.6,953.4C637.8,953.6 634.7,953.1 632.1,952.4C629.5,951.6 627.4,950.2 624.8,948.9C622.2,947.6 618.9,946 616.7,944.4C614.5,942.8 611.2,941 611.7,939.4Z" fill="#f3f3f3" opacity="1" /></g><circle cx="625.3" cy="941.4" r="0.7" fill="#222" opacity="0.65"/><circle cx="651.6" cy="932.2" r="0.6" fill="#222" opacity="0.65"/><circle cx="649.6" cy="939.9" r="0.7" fill="#222" opacity="0.65"/><circle cx="628.5" cy="936.1" r="0.5" fill="#222" opacity="0.65"/><circle cx="646.9" cy="939.1" r="0.4" fill="#222" opacity="0.65"/><circle cx="651.7" cy="937.6" r="0.5" fill="#222" opacity="0.65"/><circle cx="629.8" cy="940" r="0.6" fill="#222" opacity="0.65"/><circle cx="634.5" cy="944.6" r="0.5" fill="#222" opacity="0.65"/><circle cx="632" cy="941.6" r="0.7" fill="#222" opacity="0.65"/><circle cx="651.1" cy="940.8" r="0.3" fill="#222" opacity="0.65"/><circle cx="631.4" cy="940.7" r="0.4" fill="#222" opacity="0.65"/><circle cx="632.6" cy="950.9" r="0.5" fill="#222" opacity="0.65"/><circle cx="630.1" cy="942.9" r="0.4" fill="#222" opacity="0.65"/><circle cx="639.9" cy="944.2" r="0.3" fill="#222" opacity="0.65"/><circle cx="640.9" cy="935.4" r="0.6" fill="#222" opacity="0.65"/><circle cx="643.1" cy="951" r="0.6" fill="#222" opacity="0.65"/><circle cx="646.1" cy="948.5" r="0.3" fill="#222" opacity="0.65"/><circle cx="636.4" cy="934.8" r="0.5" fill="#222" opacity="0.65"/><circle cx="651.9" cy="942" r="0.6" fill="#222" opacity="0.65"/><circle cx="648.2" cy="934.6" r="0.6" fill="#222" opacity="0.65"/><circle cx="635" cy="939.7" r="0.5" fill="#222" opacity="0.65"/><circle cx="644.9" cy="931.8" r="0.7" fill="#222" opacity="0.65"/><circle cx="648.1" cy="931.6" r="0.6" fill="#222" opacity="0.65"/><circle cx="638.2" cy="936.4" r="0.6" fill="#222" opacity="0.65"/><circle cx="639" cy="952.5" r="0.7" fill="#222" opacity="0.65"/><circle cx="652.6" cy="942.1" r="0.5" fill="#222" opacity="0.65"/><circle cx="643.1" cy="935.8" r="0.6" fill="#222" opacity="0.65"/><circle cx="641.7" cy="948.9" r="0.3" fill="#222" opacity="0.65"/><circle cx="651" cy="940.6" r="0.6" fill="#222" opacity="0.65"/><circle cx="630.3" cy="945.5" r="0.5" fill="#222" opacity="0.65"/><circle cx="646.7" cy="942.6" r="0.4" fill="#222" opacity="0.65"/><circle cx="632.4" cy="947" r="0.3" fill="#222" opacity="0.65"/><circle cx="643.7" cy="941.6" r="0.6" fill="#222" opacity="0.65"/><circle cx="633.4" cy="939.8" r="0.5" fill="#222" opacity="0.65"/><circle cx="647.7" cy="929.3" r="0.5" fill="#222" opacity="0.65"/><circle cx="631" cy="942.7" r="0.4" fill="#222" opacity="0.65"/><circle cx="652.6" cy="936.9" r="0.7" fill="#222" opacity="0.65"/><circle cx="647.2" cy="934.4" r="0.5" fill="#222" opacity="0.65"/><circle cx="643.7" cy="930.3" r="0.5" fill="#222" opacity="0.65"/><circle cx="639" cy="944.8" r="0.4" fill="#222" opacity="0.65"/><circle cx="653.1" cy="943.6" r="0.3" fill="#222" opacity="0.65"/><circle cx="650" cy="950.4" r="0.4" fill="#222" opacity="0.65"/><circle cx="646.4" cy="949.8" r="0.7" fill="#222" opacity="0.65"/><circle cx="630.6" cy="948.2" r="0.6" fill="#222" opacity="0.65"/><circle cx="638" cy="950.8" r="0.7" fill="#222" opacity="0.65"/><circle cx="641.7" cy="946.5" r="0.6" fill="#222" opacity="0.65"/><circle cx="635.8" cy="940.4" r="0.5" fill="#222" opacity="0.65"/><circle cx="650.9" cy="949.4" r="0.6" fill="#222" opacity="0.65"/><circle cx="645.6" cy="940.7" r="0.6" fill="#222" opacity="0.65"/><circle cx="637.3" cy="952.6" r="0.4" fill="#222" opacity="0.65"/><circle cx="630.9" cy="948.8" r="0.3" fill="#222" opacity="0.65"/><circle cx="649.4" cy="948.1" r="0.7" fill="#222" opacity="0.65"/><circle cx="634.8" cy="939.1" r="0.7" fill="#222" opacity="0.65"/><circle cx="640.7" cy="945.1" r="0.3" fill="#222" opacity="0.65"/><circle cx="645.3" cy="932.4" r="0.6" fill="#222" opacity="0.65"/><circle cx="633" cy="941.1" r="0.3" fill="#222" opacity="0.65"/><circle cx="650.5" cy="947.9" r="0.6" fill="#222" opacity="0.65"/><circle cx="645.7" cy="936.2" r="0.4" fill="#222" opacity="0.65"/><circle cx="633.3" cy="946.6" r="0.6" fill="#222" opacity="0.65"/><circle cx="623.7" cy="939.1" r="0.4" fill="#222" opacity="0.65"/><circle cx="652.4" cy="930.7" r="0.6" fill="#222" opacity="0.65"/><circle cx="649.2" cy="935.6" r="0.5" fill="#222" opacity="0.65"/><circle cx="632.7" cy="938.4" r="0.4" fill="#222" opacity="0.65"/><circle cx="644.4" cy="950.3" r="0.6" fill="#222" opacity="0.65"/><circle cx="646.8" cy="940.6" r="0.7" fill="#222" opacity="0.65"/><circle cx="625.8" cy="943" r="0.7" fill="#222" opacity="0.65"/><circle cx="648.6" cy="944.9" r="0.3" fill="#222" opacity="0.65"/><circle cx="638.5" cy="934.4" r="0.6" fill="#222" opacity="0.65"/><circle cx="635.7" cy="939.3" r="0.5" fill="#222" opacity="0.65"/><circle cx="642.2" cy="950.5" r="0.4" fill="#222" opacity="0.65"/></g>
<rect x="439.4" y="720.8" width="79.5" height="79.6" fill="none" stroke="#444" stroke-width="0.8"/>
<rect x="522" y="721" width="79.8" height="79.2" fill="none" stroke="#6a6a6a" stroke-width="1.2"/>
<rect x="604.8" y="721" width="78.9" height="79.2" fill="none" stroke="#6a6a6a" stroke-width="1.2"/>
<rect x="439.4" y="805.5" width="79.5" height="79.1" fill="none" stroke="#444" stroke-width="0.8"/>
<rect x="522" y="805.7" width="79.8" height="78.7" fill="none" stroke="#6a6a6a" stroke-width="1.2"/>
<rect x="604.8" y="805.7" width="78.9" height="78.7" fill="none" stroke="#6a6a6a" stroke-width="1.2"/>
<rect x="439.4" y="889.8" width="79.5" height="78.5" fill="none" stroke="#444" stroke-width="0.8"/>
<rect x="522" y="890" width="79.8" height="78.1" fill="none" stroke="#6a6a6a" stroke-width="1.2"/>
<rect x="604.8" y="890" width="78.9" height="78.1" fill="none" stroke="#6a6a6a" stroke-width="1.2"/>
<path d="M534.3,1028.1 V1153.1 H618.4" fill="none" stroke="#555" stroke-width="1.1"/>
<path d="M529.3,1153.1 H534.3" stroke="#555" stroke-width="1.1"/>
<text x="526.8" y="1156.7" font-size="10" fill="#111" font-weight="bold" text-anchor="end" >0.0</text>
<path d="M529.3,1121.9 H534.3" stroke="#555" stroke-width="1.1"/>
<text x="526.8" y="1125.5" font-size="10" fill="#111" font-weight="bold" text-anchor="end" >0.2</text>
<path d="M529.3,1090.6 H534.3" stroke="#555" stroke-width="1.1"/>
<text x="526.8" y="1094.2" font-size="10" fill="#111" font-weight="bold" text-anchor="end" >0.4</text>
<path d="M529.3,1059.4 H534.3" stroke="#555" stroke-width="1.1"/>
<text x="526.8" y="1063" font-size="10" fill="#111" font-weight="bold" text-anchor="end" >0.6</text>
<path d="M529.3,1028.1 H534.3" stroke="#555" stroke-width="1.1"/>
<text x="526.8" y="1031.7" font-size="10" fill="#111" font-weight="bold" text-anchor="end" >0.8</text>
<path d="M551.2,1153.1 v5" stroke="#555" stroke-width="1.1"/>
<path d="M576.3,1153.1 v5" stroke="#555" stroke-width="1.1"/>
<path d="M601.5,1153.1 v5" stroke="#555" stroke-width="1.1"/>
<text x="554.2" y="1164.5" font-size="10" font-weight="bold" fill="#111" text-anchor="end" transform="rotate(-45 554.2 1164.5)">WT</text>
<text x="579.3" y="1164.5" font-size="10" font-weight="bold" fill="#111" text-anchor="end" transform="rotate(-45 579.3 1164.5)">V380D</text>
<text x="604.5" y="1164.5" font-size="10" font-weight="bold" fill="#111" text-anchor="end" transform="rotate(-45 604.5 1164.5)">F462A</text>
<circle cx="545.9" cy="1087.9" r="1.35" fill="#f2aaa2" opacity="0.9"/><circle cx="555.4" cy="1079.3" r="1.35" fill="#cfcfcf" opacity="0.9"/><circle cx="549.4" cy="1081.4" r="1.35" fill="#55b8c4" opacity="0.9"/><circle cx="556.6" cy="1089.7" r="1.35" fill="#f2aaa2" opacity="0.9"/><circle cx="555.4" cy="1065.4" r="1.35" fill="#cfcfcf" opacity="0.9"/><circle cx="549.7" cy="1111.2" r="1.35" fill="#55b8c4" opacity="0.9"/><circle cx="551.2" cy="1078.6" r="1.35" fill="#f2aaa2" opacity="0.9"/><circle cx="544.9" cy="1083.1" r="1.35" fill="#cfcfcf" opacity="0.9"/><circle cx="553.7" cy="1087" r="1.35" fill="#55b8c4" opacity="0.9"/><circle cx="547.5" cy="1073.5" r="1.35" fill="#f2aaa2" opacity="0.9"/><circle cx="546.3" cy="1079.2" r="1.35" fill="#cfcfcf" opacity="0.9"/><circle cx="546.6" cy="1079.4" r="1.35" fill="#55b8c4" opacity="0.9"/><circle cx="554.9" cy="1070" r="1.35" fill="#f2aaa2" opacity="0.9"/><circle cx="546.3" cy="1074" r="1.35" fill="#cfcfcf" opacity="0.9"/><circle cx="553" cy="1079.1" r="1.35" fill="#55b8c4" opacity="0.9"/><circle cx="549.5" cy="1108" r="1.35" fill="#f2aaa2" opacity="0.9"/><circle cx="545.1" cy="1084.7" r="1.35" fill="#cfcfcf" opacity="0.9"/><circle cx="557.1" cy="1091.1" r="1.35" fill="#55b8c4" opacity="0.9"/><circle cx="554.5" cy="1082.1" r="1.35" fill="#f2aaa2" opacity="0.9"/><circle cx="547.8" cy="1061.1" r="1.35" fill="#cfcfcf" opacity="0.9"/><circle cx="547.5" cy="1072.7" r="1.35" fill="#55b8c4" opacity="0.9"/><circle cx="553.1" cy="1077.3" r="1.35" fill="#f2aaa2" opacity="0.9"/><circle cx="550.9" cy="1090.7" r="1.35" fill="#cfcfcf" opacity="0.9"/><circle cx="547.7" cy="1094.2" r="1.35" fill="#55b8c4" opacity="0.9"/><circle cx="553.3" cy="1075.3" r="1.35" fill="#f2aaa2" opacity="0.9"/><circle cx="552.5" cy="1098.7" r="1.35" fill="#cfcfcf" opacity="0.9"/><circle cx="553.5" cy="1064.1" r="1.35" fill="#55b8c4" opacity="0.9"/><circle cx="551.4" cy="1077.6" r="1.35" fill="#f2aaa2" opacity="0.9"/><circle cx="554" cy="1098.2" r="1.35" fill="#cfcfcf" opacity="0.9"/><circle cx="551.6" cy="1094.1" r="1.35" fill="#55b8c4" opacity="0.9"/><circle cx="547.4" cy="1089.2" r="1.35" fill="#f2aaa2" opacity="0.9"/><circle cx="546" cy="1072.8" r="1.35" fill="#cfcfcf" opacity="0.9"/><circle cx="553" cy="1110.2" r="1.35" fill="#55b8c4" opacity="0.9"/><circle cx="547.4" cy="1089.8" r="1.35" fill="#f2aaa2" opacity="0.9"/><circle cx="552" cy="1102.2" r="1.35" fill="#cfcfcf" opacity="0.9"/><circle cx="550.6" cy="1087.5" r="1.35" fill="#55b8c4" opacity="0.9"/><circle cx="554.8" cy="1104.6" r="1.35" fill="#f2aaa2" opacity="0.9"/><circle cx="551.4" cy="1087.8" r="1.35" fill="#cfcfcf" opacity="0.9"/><circle cx="546.2" cy="1083" r="1.35" fill="#55b8c4" opacity="0.9"/><circle cx="548.9" cy="1104" r="1.35" fill="#f2aaa2" opacity="0.9"/><circle cx="551.1" cy="1091" r="1.35" fill="#cfcfcf" opacity="0.9"/><circle cx="548.9" cy="1076.6" r="1.35" fill="#55b8c4" opacity="0.9"/><circle cx="550" cy="1067.6" r="1.35" fill="#f2aaa2" opacity="0.9"/><circle cx="554" cy="1087" r="1.35" fill="#cfcfcf" opacity="0.9"/><circle cx="552.8" cy="1080.6" r="1.35" fill="#55b8c4" opacity="0.9"/><circle cx="557.3" cy="1089.9" r="1.35" fill="#f2aaa2" opacity="0.9"/><circle cx="554.1" cy="1103.7" r="1.35" fill="#cfcfcf" opacity="0.9"/><circle cx="549.5" cy="1069.8" r="1.35" fill="#55b8c4" opacity="0.9"/><circle cx="550.3" cy="1073.6" r="1.35" fill="#f2aaa2" opacity="0.9"/><circle cx="549.7" cy="1070" r="1.35" fill="#cfcfcf" opacity="0.9"/><circle cx="554.9" cy="1105.1" r="1.35" fill="#55b8c4" opacity="0.9"/><circle cx="556.6" cy="1082.5" r="1.35" fill="#f2aaa2" opacity="0.9"/><circle cx="549.4" cy="1086" r="1.35" fill="#cfcfcf" opacity="0.9"/><circle cx="545.2" cy="1094" r="1.35" fill="#55b8c4" opacity="0.9"/><circle cx="547" cy="1083.5" r="1.35" fill="#f2aaa2" opacity="0.9"/><circle cx="550.9" cy="1076.5" r="1.35" fill="#cfcfcf" opacity="0.9"/><circle cx="550.2" cy="1075.2" r="1.35" fill="#55b8c4" opacity="0.9"/><circle cx="548.5" cy="1074.2" r="1.35" fill="#f2aaa2" opacity="0.9"/><circle cx="545" cy="1090.8" r="1.35" fill="#cfcfcf" opacity="0.9"/><circle cx="555.1" cy="1096.3" r="1.35" fill="#55b8c4" opacity="0.9"/><circle cx="548.3" cy="1086.1" r="1.35" fill="#f2aaa2" opacity="0.9"/><circle cx="549.3" cy="1110.7" r="1.35" fill="#cfcfcf" opacity="0.9"/><circle cx="557.5" cy="1088.9" r="1.35" fill="#55b8c4" opacity="0.9"/><circle cx="553.1" cy="1092.9" r="1.35" fill="#f2aaa2" opacity="0.9"/><circle cx="548.4" cy="1090.4" r="1.35" fill="#cfcfcf" opacity="0.9"/><circle cx="550.1" cy="1087.9" r="1.35" fill="#55b8c4" opacity="0.9"/><circle cx="552.3" cy="1080.2" r="1.35" fill="#f2aaa2" opacity="0.9"/><circle cx="545.4" cy="1087.5" r="1.35" fill="#cfcfcf" opacity="0.9"/><circle cx="554" cy="1067.6" r="1.35" fill="#55b8c4" opacity="0.9"/><circle cx="554.5" cy="1090.2" r="1.35" fill="#f2aaa2" opacity="0.9"/><circle cx="545.2" cy="1083" r="1.35" fill="#cfcfcf" opacity="0.9"/><circle cx="551.8" cy="1078.8" r="1.35" fill="#55b8c4" opacity="0.9"/><circle cx="547.2" cy="1080.1" r="1.35" fill="#f2aaa2" opacity="0.9"/><circle cx="556.7" cy="1083" r="1.35" fill="#cfcfcf" opacity="0.9"/><circle cx="557.5" cy="1084.3" r="1.35" fill="#55b8c4" opacity="0.9"/><circle cx="572.2" cy="1135.4" r="1.35" fill="#f2aaa2" opacity="0.9"/><circle cx="580.1" cy="1121" r="1.35" fill="#cfcfcf" opacity="0.9"/><circle cx="571.5" cy="1119.6" r="1.35" fill="#55b8c4" opacity="0.9"/><circle cx="580.2" cy="1124.3" r="1.35" fill="#f2aaa2" opacity="0.9"/><circle cx="574.5" cy="1139.7" r="1.35" fill="#cfcfcf" opacity="0.9"/><circle cx="579.2" cy="1122.9" r="1.35" fill="#55b8c4" opacity="0.9"/><circle cx="576.4" cy="1126.1" r="1.35" fill="#f2aaa2" opacity="0.9"/><circle cx="573.2" cy="1126.7" r="1.35" fill="#cfcfcf" opacity="0.9"/><circle cx="572.8" cy="1134.1" r="1.35" fill="#55b8c4" opacity="0.9"/><circle cx="572.3" cy="1118" r="1.35" fill="#f2aaa2" opacity="0.9"/><circle cx="578.7" cy="1140.1" r="1.35" fill="#cfcfcf" opacity="0.9"/><circle cx="573.6" cy="1116.3" r="1.35" fill="#55b8c4" opacity="0.9"/><circle cx="579.8" cy="1124.6" r="1.35" fill="#f2aaa2" opacity="0.9"/><circle cx="572.3" cy="1130.3" r="1.35" fill="#cfcfcf" opacity="0.9"/><circle cx="571.7" cy="1142.4" r="1.35" fill="#55b8c4" opacity="0.9"/><circle cx="570.7" cy="1137.3" r="1.35" fill="#f2aaa2" opacity="0.9"/><circle cx="580" cy="1139.4" r="1.35" fill="#cfcfcf" opacity="0.9"/><circle cx="576.5" cy="1119.6" r="1.35" fill="#55b8c4" opacity="0.9"/><circle cx="578.2" cy="1133.1" r="1.35" fill="#f2aaa2" opacity="0.9"/><circle cx="576.5" cy="1114.2" r="1.35" fill="#cfcfcf" opacity="0.9"/><circle cx="579.6" cy="1133.9" r="1.35" fill="#55b8c4" opacity="0.9"/><circle cx="576.9" cy="1129.9" r="1.35" fill="#f2aaa2" opacity="0.9"/><circle cx="575.1" cy="1127.2" r="1.35" fill="#cfcfcf" opacity="0.9"/><circle cx="572.8" cy="1132.5" r="1.35" fill="#55b8c4" opacity="0.9"/><circle cx="574.1" cy="1118.6" r="1.35" fill="#f2aaa2" opacity="0.9"/><circle cx="575.7" cy="1127.7" r="1.35" fill="#cfcfcf" opacity="0.9"/><circle cx="579.3" cy="1148.5" r="1.35" fill="#55b8c4" opacity="0.9"/><circle cx="579.2" cy="1118.7" r="1.35" fill="#f2aaa2" opacity="0.9"/><circle cx="579.6" cy="1118.7" r="1.35" fill="#cfcfcf" opacity="0.9"/><circle cx="582.2" cy="1132" r="1.35" fill="#55b8c4" opacity="0.9"/><circle cx="577.7" cy="1123.3" r="1.35" fill="#f2aaa2" opacity="0.9"/><circle cx="571.4" cy="1132.7" r="1.35" fill="#cfcfcf" opacity="0.9"/><circle cx="577.1" cy="1135" r="1.35" fill="#55b8c4" opacity="0.9"/><circle cx="577.8" cy="1144.9" r="1.35" fill="#f2aaa2" opacity="0.9"/><circle cx="579.1" cy="1115.3" r="1.35" fill="#cfcfcf" opacity="0.9"/><circle cx="572.6" cy="1142.7" r="1.35" fill="#55b8c4" opacity="0.9"/><circle cx="582.3" cy="1134.5" r="1.35" fill="#f2aaa2" opacity="0.9"/><circle cx="572.9" cy="1139.3" r="1.35" fill="#cfcfcf" opacity="0.9"/><circle cx="571.3" cy="1134" r="1.35" fill="#55b8c4" opacity="0.9"/><circle cx="578.4" cy="1131.9" r="1.35" fill="#f2aaa2" opacity="0.9"/><circle cx="573.9" cy="1143" r="1.35" fill="#cfcfcf" opacity="0.9"/><circle cx="577.6" cy="1144.6" r="1.35" fill="#55b8c4" opacity="0.9"/><circle cx="581.9" cy="1125.9" r="1.35" fill="#f2aaa2" opacity="0.9"/><circle cx="571.3" cy="1112.5" r="1.35" fill="#cfcfcf" opacity="0.9"/><circle cx="577.8" cy="1118" r="1.35" fill="#55b8c4" opacity="0.9"/><circle cx="575.2" cy="1131.2" r="1.35" fill="#f2aaa2" opacity="0.9"/><circle cx="578.6" cy="1128.2" r="1.35" fill="#cfcfcf" opacity="0.9"/><circle cx="576.4" cy="1124.6" r="1.35" fill="#55b8c4" opacity="0.9"/><circle cx="580.2" cy="1130.3" r="1.35" fill="#f2aaa2" opacity="0.9"/><circle cx="580.7" cy="1111.4" r="1.35" fill="#cfcfcf" opacity="0.9"/><circle cx="574.7" cy="1113" r="1.35" fill="#55b8c4" opacity="0.9"/><circle cx="572.5" cy="1125.9" r="1.35" fill="#f2aaa2" opacity="0.9"/><circle cx="575.3" cy="1121.8" r="1.35" fill="#cfcfcf" opacity="0.9"/><circle cx="577" cy="1133.7" r="1.35" fill="#55b8c4" opacity="0.9"/><circle cx="580" cy="1150.3" r="1.35" fill="#f2aaa2" opacity="0.9"/><circle cx="571" cy="1140.6" r="1.35" fill="#cfcfcf" opacity="0.9"/><circle cx="575.3" cy="1120.7" r="1.35" fill="#55b8c4" opacity="0.9"/><circle cx="580.2" cy="1122" r="1.35" fill="#f2aaa2" opacity="0.9"/><circle cx="571" cy="1126.6" r="1.35" fill="#cfcfcf" opacity="0.9"/><circle cx="576.6" cy="1131.1" r="1.35" fill="#55b8c4" opacity="0.9"/><circle cx="571.1" cy="1115.5" r="1.35" fill="#f2aaa2" opacity="0.9"/><circle cx="575.3" cy="1115.6" r="1.35" fill="#cfcfcf" opacity="0.9"/><circle cx="571.6" cy="1117.6" r="1.35" fill="#55b8c4" opacity="0.9"/><circle cx="582.1" cy="1137" r="1.35" fill="#f2aaa2" opacity="0.9"/><circle cx="570.1" cy="1126" r="1.35" fill="#cfcfcf" opacity="0.9"/><circle cx="577" cy="1125.6" r="1.35" fill="#55b8c4" opacity="0.9"/><circle cx="582.3" cy="1123.7" r="1.35" fill="#f2aaa2" opacity="0.9"/><circle cx="576.8" cy="1126.5" r="1.35" fill="#cfcfcf" opacity="0.9"/><circle cx="574.5" cy="1132.2" r="1.35" fill="#55b8c4" opacity="0.9"/><circle cx="577.3" cy="1111.6" r="1.35" fill="#f2aaa2" opacity="0.9"/><circle cx="573" cy="1129.6" r="1.35" fill="#cfcfcf" opacity="0.9"/><circle cx="575" cy="1138.8" r="1.35" fill="#55b8c4" opacity="0.9"/><circle cx="577.1" cy="1122.5" r="1.35" fill="#f2aaa2" opacity="0.9"/><circle cx="582" cy="1118.4" r="1.35" fill="#cfcfcf" opacity="0.9"/><circle cx="575" cy="1121.6" r="1.35" fill="#55b8c4" opacity="0.9"/><circle cx="604.3" cy="1091.5" r="1.35" fill="#f2aaa2" opacity="0.9"/><circle cx="604.8" cy="1072.6" r="1.35" fill="#cfcfcf" opacity="0.9"/><circle cx="598.3" cy="1085.4" r="1.35" fill="#55b8c4" opacity="0.9"/><circle cx="602.8" cy="1059.3" r="1.35" fill="#f2aaa2" opacity="0.9"/><circle cx="597.6" cy="1064.3" r="1.35" fill="#cfcfcf" opacity="0.9"/><circle cx="599.5" cy="1071.1" r="1.35" fill="#55b8c4" opacity="0.9"/><circle cx="606.8" cy="1072.1" r="1.35" fill="#f2aaa2" opacity="0.9"/><circle cx="596" cy="1074.3" r="1.35" fill="#cfcfcf" opacity="0.9"/><circle cx="602.3" cy="1044.7" r="1.35" fill="#55b8c4" opacity="0.9"/><circle cx="605.5" cy="1080.6" r="1.35" fill="#f2aaa2" opacity="0.9"/><circle cx="605.4" cy="1060" r="1.35" fill="#cfcfcf" opacity="0.9"/><circle cx="595.5" cy="1076.5" r="1.35" fill="#55b8c4" opacity="0.9"/><circle cx="605.1" cy="1068.6" r="1.35" fill="#f2aaa2" opacity="0.9"/><circle cx="598.1" cy="1088.5" r="1.35" fill="#cfcfcf" opacity="0.9"/><circle cx="602.7" cy="1059.5" r="1.35" fill="#55b8c4" opacity="0.9"/><circle cx="603.8" cy="1064.7" r="1.35" fill="#f2aaa2" opacity="0.9"/><circle cx="607.3" cy="1065.3" r="1.35" fill="#cfcfcf" opacity="0.9"/><circle cx="598.9" cy="1058.2" r="1.35" fill="#55b8c4" opacity="0.9"/><circle cx="603.4" cy="1059.2" r="1.35" fill="#f2aaa2" opacity="0.9"/><circle cx="601.1" cy="1098.9" r="1.35" fill="#cfcfcf" opacity="0.9"/><circle cx="597.3" cy="1083.3" r="1.35" fill="#55b8c4" opacity="0.9"/><circle cx="596.2" cy="1065.4" r="1.35" fill="#f2aaa2" opacity="0.9"/><circle cx="607" cy="1073.2" r="1.35" fill="#cfcfcf" opacity="0.9"/><circle cx="599.8" cy="1064.8" r="1.35" fill="#55b8c4" opacity="0.9"/><circle cx="606" cy="1061.2" r="1.35" fill="#f2aaa2" opacity="0.9"/><circle cx="606" cy="1082.5" r="1.35" fill="#cfcfcf" opacity="0.9"/><circle cx="598.1" cy="1075" r="1.35" fill="#55b8c4" opacity="0.9"/><circle cx="602.2" cy="1084.3" r="1.35" fill="#f2aaa2" opacity="0.9"/><circle cx="596.1" cy="1080.2" r="1.35" fill="#cfcfcf" opacity="0.9"/><circle cx="602.7" cy="1051.5" r="1.35" fill="#55b8c4" opacity="0.9"/><circle cx="602" cy="1078.4" r="1.35" fill="#f2aaa2" opacity="0.9"/><circle cx="607" cy="1061.5" r="1.35" fill="#cfcfcf" opacity="0.9"/><circle cx="606.6" cy="1060.9" r="1.35" fill="#55b8c4" opacity="0.9"/><circle cx="607.8" cy="1072.3" r="1.35" fill="#f2aaa2" opacity="0.9"/><circle cx="598.4" cy="1086.8" r="1.35" fill="#cfcfcf" opacity="0.9"/><circle cx="605.4" cy="1074.3" r="1.35" fill="#55b8c4" opacity="0.9"/><circle cx="605.3" cy="1091.6" r="1.35" fill="#f2aaa2" opacity="0.9"/><circle cx="603.2" cy="1070.1" r="1.35" fill="#cfcfcf" opacity="0.9"/><circle cx="596.8" cy="1076.9" r="1.35" fill="#55b8c4" opacity="0.9"/><circle cx="601.1" cy="1085.8" r="1.35" fill="#f2aaa2" opacity="0.9"/><circle cx="607.4" cy="1065" r="1.35" fill="#cfcfcf" opacity="0.9"/><circle cx="599.9" cy="1069" r="1.35" fill="#55b8c4" opacity="0.9"/><circle cx="596.3" cy="1063.6" r="1.35" fill="#f2aaa2" opacity="0.9"/><circle cx="602.7" cy="1062.5" r="1.35" fill="#cfcfcf" opacity="0.9"/><circle cx="603.4" cy="1070.8" r="1.35" fill="#55b8c4" opacity="0.9"/><circle cx="606.6" cy="1063.7" r="1.35" fill="#f2aaa2" opacity="0.9"/><circle cx="602.3" cy="1053.4" r="1.35" fill="#cfcfcf" opacity="0.9"/><circle cx="601.3" cy="1070.3" r="1.35" fill="#55b8c4" opacity="0.9"/><circle cx="599.5" cy="1073.4" r="1.35" fill="#f2aaa2" opacity="0.9"/><circle cx="601.8" cy="1071" r="1.35" fill="#cfcfcf" opacity="0.9"/><circle cx="600" cy="1091.1" r="1.35" fill="#55b8c4" opacity="0.9"/><circle cx="603.9" cy="1043.8" r="1.35" fill="#f2aaa2" opacity="0.9"/><circle cx="601.4" cy="1064.1" r="1.35" fill="#cfcfcf" opacity="0.9"/><circle cx="601.5" cy="1091.2" r="1.35" fill="#55b8c4" opacity="0.9"/><circle cx="597.9" cy="1068.6" r="1.35" fill="#f2aaa2" opacity="0.9"/><circle cx="595.3" cy="1076.8" r="1.35" fill="#cfcfcf" opacity="0.9"/><circle cx="606.4" cy="1084.7" r="1.35" fill="#55b8c4" opacity="0.9"/><circle cx="607.5" cy="1071.2" r="1.35" fill="#f2aaa2" opacity="0.9"/><circle cx="597.1" cy="1083.3" r="1.35" fill="#cfcfcf" opacity="0.9"/><circle cx="604.5" cy="1064.2" r="1.35" fill="#55b8c4" opacity="0.9"/><circle cx="606.1" cy="1078.9" r="1.35" fill="#f2aaa2" opacity="0.9"/><circle cx="595.2" cy="1072.7" r="1.35" fill="#cfcfcf" opacity="0.9"/><circle cx="607.9" cy="1067.2" r="1.35" fill="#55b8c4" opacity="0.9"/><circle cx="597.6" cy="1059.4" r="1.35" fill="#f2aaa2" opacity="0.9"/><circle cx="599.3" cy="1074" r="1.35" fill="#cfcfcf" opacity="0.9"/><circle cx="605.2" cy="1051.3" r="1.35" fill="#55b8c4" opacity="0.9"/><circle cx="599.3" cy="1063.3" r="1.35" fill="#f2aaa2" opacity="0.9"/><circle cx="606.3" cy="1070.9" r="1.35" fill="#cfcfcf" opacity="0.9"/><circle cx="605.5" cy="1057.8" r="1.35" fill="#55b8c4" opacity="0.9"/><circle cx="606.9" cy="1061.4" r="1.35" fill="#f2aaa2" opacity="0.9"/><circle cx="601.3" cy="1070.6" r="1.35" fill="#cfcfcf" opacity="0.9"/><circle cx="597.8" cy="1075.4" r="1.35" fill="#55b8c4" opacity="0.9"/><circle cx="604.4" cy="1065.6" r="1.35" fill="#f2aaa2" opacity="0.9"/><circle cx="602.4" cy="1065.8" r="1.35" fill="#cfcfcf" opacity="0.9"/><circle cx="596.2" cy="1065.3" r="1.35" fill="#55b8c4" opacity="0.9"/>
<path d="M551.2,1094.2 V1079.2 M546.7,1094.2 h9 M546.7,1079.2 h9" stroke="#111" stroke-width="1.2" fill="none"/>
<path d="M543,1086.7 h16.4" stroke="#111" stroke-width="2.6"/>
<path d="M576.3,1133.7 V1121.1 M571.8,1133.7 h9 M571.8,1121.1 h9" stroke="#111" stroke-width="1.2" fill="none"/>
<path d="M568.1,1127.3 h16.4" stroke="#111" stroke-width="2.6"/>
<path d="M601.5,1079.7 V1064.1 M597,1079.7 h9 M597,1064.1 h9" stroke="#111" stroke-width="1.2" fill="none"/>
<path d="M593.3,1071.9 h16.4" stroke="#111" stroke-width="2.6"/>
<circle cx="551.2" cy="1078.9" r="2.2" fill="#f04a40"/>
<circle cx="549.2" cy="1091.4" r="2.2" fill="#666"/>
<circle cx="554.2" cy="1089.8" r="2.2" fill="#1a8aa0"/>
<circle cx="576.3" cy="1120.3" r="2.2" fill="#f04a40"/>
<circle cx="574.3" cy="1132" r="2.2" fill="#666"/>
<circle cx="579.3" cy="1129.7" r="2.2" fill="#1a8aa0"/>
<circle cx="601.5" cy="1064.8" r="2.2" fill="#f04a40"/>
<circle cx="599.5" cy="1071.9" r="2.2" fill="#666"/>
<circle cx="604.5" cy="1080.5" r="2.2" fill="#1a8aa0"/>
<path d="M551.2,1017.8 H601.5 M551.2,1042.1 H576.3" stroke="#666" stroke-width="1"/>
<text x="576.3" y="1012.6" font-size="9.6" fill="#222" font-weight="normal" text-anchor="middle" >0.0766</text>
<text x="563.9" y="1037.1" font-size="9.6" fill="#222" font-weight="normal" text-anchor="middle" >0.0007</text>
<text x="497.5" y="1090.8" font-size="10.4" fill="#111" font-weight="bold" text-anchor="middle" transform="rotate(-90 497.5 1090.8)">Pearson's coefficient of colocalization</text>
<text x="509.8" y="1089.7" font-size="10.3" fill="#111" font-weight="bold" text-anchor="middle" transform="rotate(-90 509.8 1089.7)">(anti-EEA1:GFP-SNX17)</text>
</svg>
</body></html>
